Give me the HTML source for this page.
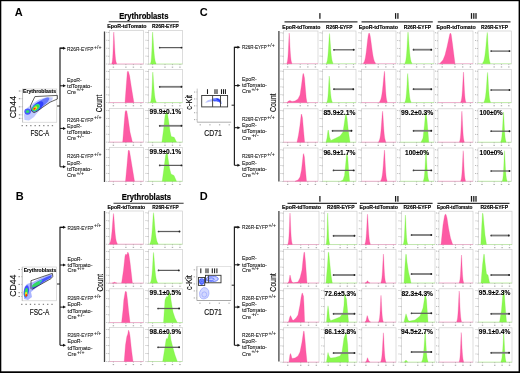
<!DOCTYPE html>
<html><head><meta charset="utf-8"><title>Figure</title>
<style>html,body{margin:0;padding:0;background:#fff;}body{width:520px;height:373px;overflow:hidden;font-family:"Liberation Sans",sans-serif;}svg{display:block;opacity:0.999;}</style>
</head><body>
<svg width="520" height="373" viewBox="0 0 520 373" font-family="Liberation Sans, sans-serif">
<rect x="0" y="0" width="520" height="373" fill="#fff"/>
<defs><filter id="bl" x="-50%" y="-50%" width="200%" height="200%"><feGaussianBlur stdDeviation="1.1"/></filter><filter id="bl2" x="-50%" y="-50%" width="200%" height="200%"><feGaussianBlur stdDeviation="0.6"/></filter><filter id="bl3" x="-50%" y="-50%" width="200%" height="200%"><feGaussianBlur stdDeviation="0.55"/></filter></defs>
<text x="14.8" y="15.8" font-size="11" font-weight="bold" fill="#000" text-anchor="start" >A</text>
<text x="15.8" y="200.2" font-size="11" font-weight="bold" fill="#000" text-anchor="start" >B</text>
<text x="199.8" y="15.6" font-size="11" font-weight="bold" fill="#000" text-anchor="start" >C</text>
<text x="199.8" y="200" font-size="11" font-weight="bold" fill="#000" text-anchor="start" >D</text>
<text x="119.2" y="18.8" font-size="8.7" font-weight="bold" fill="#000" text-anchor="start" textLength="49.2" lengthAdjust="spacingAndGlyphs" stroke="#000" stroke-width="0.2">Erythroblasts</text>
<line x1="108.7" y1="21.7" x2="178.8" y2="21.7" stroke="#333" stroke-width="1.1" />
<text x="107.3" y="28.2" font-size="5.9" font-weight="bold" fill="#000" text-anchor="start" textLength="39.2" lengthAdjust="spacingAndGlyphs" stroke="#000" stroke-width="0.15">EpoR-tdTomato</text>
<text x="152" y="28.2" font-size="5.9" font-weight="bold" fill="#000" text-anchor="start" textLength="26.8" lengthAdjust="spacingAndGlyphs" stroke="#000" stroke-width="0.15">R26R-EYFP</text>
<text x="121.7" y="200.4" font-size="8.7" font-weight="bold" fill="#000" text-anchor="start" textLength="49.3" lengthAdjust="spacingAndGlyphs" stroke="#000" stroke-width="0.2">Erythroblasts</text>
<line x1="113.5" y1="203.3" x2="183.6" y2="203.3" stroke="#333" stroke-width="1.1" />
<text x="107.4" y="209" font-size="5.9" font-weight="bold" fill="#000" text-anchor="start" textLength="37.8" lengthAdjust="spacingAndGlyphs" stroke="#000" stroke-width="0.15">EpoR-tdTomato</text>
<text x="152.3" y="209" font-size="5.9" font-weight="bold" fill="#000" text-anchor="start" textLength="26.3" lengthAdjust="spacingAndGlyphs" stroke="#000" stroke-width="0.15">R26R-EYFP</text>
<line x1="104.5" y1="31.5" x2="104.5" y2="182" stroke="#444" stroke-width="1.3" />
<line x1="104.5" y1="211" x2="104.5" y2="362" stroke="#444" stroke-width="1.3" />
<line x1="278.9" y1="31" x2="278.9" y2="181.4" stroke="#444" stroke-width="1.3" />
<line x1="278.9" y1="211" x2="278.9" y2="361.4" stroke="#444" stroke-width="1.3" />
<text x="0" y="0" font-size="9.2" fill="#111" stroke="#111" stroke-width="0.15" text-anchor="middle" textLength="17.5" lengthAdjust="spacingAndGlyphs" transform="translate(102.2,103.5) rotate(-90)">Count</text>
<text x="0" y="0" font-size="9.2" fill="#111" stroke="#111" stroke-width="0.15" text-anchor="middle" textLength="17.5" lengthAdjust="spacingAndGlyphs" transform="translate(103.3,282.7) rotate(-90)">Count</text>
<text x="0" y="0" font-size="9.2" fill="#111" stroke="#111" stroke-width="0.15" text-anchor="middle" textLength="18.5" lengthAdjust="spacingAndGlyphs" transform="translate(276.2,102.8) rotate(-90)">Count</text>
<text x="0" y="0" font-size="9.2" fill="#111" stroke="#111" stroke-width="0.15" text-anchor="middle" textLength="18.5" lengthAdjust="spacingAndGlyphs" transform="translate(276.2,282.5) rotate(-90)">Count</text>
<rect x="109.3" y="30.5" width="34.2" height="33.7" fill="none" stroke="#cdcdcd" stroke-width="0.7"/>
<line x1="108" y1="64.2" x2="109.3" y2="64.2" stroke="#888" stroke-width="0.5" />
<rect x="106.3" y="63.6" width="1" height="0.8" fill="#aaa"/>
<line x1="108" y1="56.28" x2="109.3" y2="56.28" stroke="#888" stroke-width="0.5" />
<rect x="106.3" y="55.68" width="1" height="0.8" fill="#aaa"/>
<line x1="108" y1="48.35" x2="109.3" y2="48.35" stroke="#888" stroke-width="0.5" />
<rect x="106.3" y="47.75" width="1" height="0.8" fill="#aaa"/>
<line x1="108" y1="40.42" x2="109.3" y2="40.42" stroke="#888" stroke-width="0.5" />
<rect x="106.3" y="39.82" width="1" height="0.8" fill="#aaa"/>
<line x1="108" y1="32.5" x2="109.3" y2="32.5" stroke="#888" stroke-width="0.5" />
<rect x="106.3" y="31.9" width="1" height="0.8" fill="#aaa"/>
<rect x="112.7" y="66.6" width="1.4" height="1.1" fill="#aaa"/>
<line x1="113.4" y1="64.2" x2="113.4" y2="65.1" stroke="#777" stroke-width="0.5" />
<rect x="125.19" y="66.6" width="1.4" height="1.1" fill="#aaa"/>
<line x1="125.89" y1="64.2" x2="125.89" y2="65.1" stroke="#777" stroke-width="0.5" />
<rect x="132.71" y="66.6" width="1.4" height="1.1" fill="#aaa"/>
<line x1="133.41" y1="64.2" x2="133.41" y2="65.1" stroke="#777" stroke-width="0.5" />
<rect x="140.24" y="66.6" width="1.4" height="1.1" fill="#aaa"/>
<line x1="140.94" y1="64.2" x2="140.94" y2="65.1" stroke="#777" stroke-width="0.5" />
<line x1="109.3" y1="63.9" x2="143.5" y2="63.9" stroke="#fd5aa4" stroke-width="0.6" opacity="0.6"/>
<path d="M111.9,64 L111.9,63.03 L112.1,62.35 L112.3,61.25 L112.5,59.59 L112.7,57.15 L112.9,53.78 L113.1,49.37 L113.3,44.05 L113.5,38.31 L113.7,33.32 L113.8,32 L113.9,32.79 L114.1,35.89 L114.3,39.79 L114.5,43.84 L114.7,47.68 L114.9,51.12 L115.1,54.06 L115.3,56.49 L115.5,58.43 L115.7,59.95 L115.9,61.1 L116.1,61.96 L116.3,62.58 L116.5,63.03 L116.5,64 Z" fill="#fd5aa4" stroke="#f0408c" stroke-width="0.25" stroke-linejoin="round"/>
<rect x="148.5" y="30.5" width="34" height="33.7" fill="none" stroke="#cdcdcd" stroke-width="0.7"/>
<line x1="147.2" y1="64.2" x2="148.5" y2="64.2" stroke="#888" stroke-width="0.5" />
<rect x="145.5" y="63.6" width="1" height="0.8" fill="#aaa"/>
<line x1="147.2" y1="56.28" x2="148.5" y2="56.28" stroke="#888" stroke-width="0.5" />
<rect x="145.5" y="55.68" width="1" height="0.8" fill="#aaa"/>
<line x1="147.2" y1="48.35" x2="148.5" y2="48.35" stroke="#888" stroke-width="0.5" />
<rect x="145.5" y="47.75" width="1" height="0.8" fill="#aaa"/>
<line x1="147.2" y1="40.42" x2="148.5" y2="40.42" stroke="#888" stroke-width="0.5" />
<rect x="145.5" y="39.82" width="1" height="0.8" fill="#aaa"/>
<line x1="147.2" y1="32.5" x2="148.5" y2="32.5" stroke="#888" stroke-width="0.5" />
<rect x="145.5" y="31.9" width="1" height="0.8" fill="#aaa"/>
<rect x="151.88" y="66.6" width="1.4" height="1.1" fill="#aaa"/>
<line x1="152.58" y1="64.2" x2="152.58" y2="65.1" stroke="#777" stroke-width="0.5" />
<rect x="164.29" y="66.6" width="1.4" height="1.1" fill="#aaa"/>
<line x1="164.99" y1="64.2" x2="164.99" y2="65.1" stroke="#777" stroke-width="0.5" />
<rect x="171.77" y="66.6" width="1.4" height="1.1" fill="#aaa"/>
<line x1="172.47" y1="64.2" x2="172.47" y2="65.1" stroke="#777" stroke-width="0.5" />
<rect x="179.25" y="66.6" width="1.4" height="1.1" fill="#aaa"/>
<line x1="179.95" y1="64.2" x2="179.95" y2="65.1" stroke="#777" stroke-width="0.5" />
<line x1="148.5" y1="63.9" x2="182.5" y2="63.9" stroke="#8af84f" stroke-width="0.6" opacity="0.6"/>
<path d="M150.6,64 L150.6,63.03 L150.8,62.39 L151,61.38 L151.2,59.88 L151.4,57.71 L151.6,54.72 L151.8,50.8 L152,46 L152.2,40.6 L152.4,35.35 L152.6,32 L152.8,33.56 L153,36.21 L153.2,39.31 L153.4,42.54 L153.6,45.69 L153.8,48.64 L154,51.31 L154.2,53.66 L154.4,55.69 L154.6,57.4 L154.8,58.82 L155,59.99 L155.2,60.92 L155.4,61.66 L155.6,62.24 L155.8,62.69 L156,63.03 L156,64 Z" fill="#8af84f" stroke="#70e838" stroke-width="0.25" stroke-linejoin="round"/>
<line x1="159.2" y1="47.6" x2="182" y2="47.6" stroke="#5e5e5e" stroke-width="1.25" />
<circle cx="159.7" cy="47.6" r="0.85" fill="#444"/>
<circle cx="181.5" cy="47.6" r="0.95" fill="#222"/>
<rect x="109.3" y="69.5" width="34.2" height="33.3" fill="none" stroke="#cdcdcd" stroke-width="0.7"/>
<line x1="108" y1="102.8" x2="109.3" y2="102.8" stroke="#888" stroke-width="0.5" />
<rect x="106.3" y="102.2" width="1" height="0.8" fill="#aaa"/>
<line x1="108" y1="94.97" x2="109.3" y2="94.97" stroke="#888" stroke-width="0.5" />
<rect x="106.3" y="94.38" width="1" height="0.8" fill="#aaa"/>
<line x1="108" y1="87.15" x2="109.3" y2="87.15" stroke="#888" stroke-width="0.5" />
<rect x="106.3" y="86.55" width="1" height="0.8" fill="#aaa"/>
<line x1="108" y1="79.33" x2="109.3" y2="79.33" stroke="#888" stroke-width="0.5" />
<rect x="106.3" y="78.73" width="1" height="0.8" fill="#aaa"/>
<line x1="108" y1="71.5" x2="109.3" y2="71.5" stroke="#888" stroke-width="0.5" />
<rect x="106.3" y="70.9" width="1" height="0.8" fill="#aaa"/>
<rect x="112.7" y="105.2" width="1.4" height="1.1" fill="#aaa"/>
<line x1="113.4" y1="102.8" x2="113.4" y2="103.7" stroke="#777" stroke-width="0.5" />
<rect x="125.19" y="105.2" width="1.4" height="1.1" fill="#aaa"/>
<line x1="125.89" y1="102.8" x2="125.89" y2="103.7" stroke="#777" stroke-width="0.5" />
<rect x="132.71" y="105.2" width="1.4" height="1.1" fill="#aaa"/>
<line x1="133.41" y1="102.8" x2="133.41" y2="103.7" stroke="#777" stroke-width="0.5" />
<rect x="140.24" y="105.2" width="1.4" height="1.1" fill="#aaa"/>
<line x1="140.94" y1="102.8" x2="140.94" y2="103.7" stroke="#777" stroke-width="0.5" />
<line x1="109.3" y1="102.5" x2="143.5" y2="102.5" stroke="#fd5aa4" stroke-width="0.6" opacity="0.6"/>
<path d="M125,102.6 L125,102.5 L126.3,85 L127.3,72 L127.8,71.2 L128.4,71.6 L129.6,75.8 L131.5,88 L133.9,102.5 L133.9,102.6 Z" fill="#fd5aa4" stroke="#f0408c" stroke-width="0.25" stroke-linejoin="round"/>
<rect x="148.5" y="69.5" width="34" height="33.3" fill="none" stroke="#cdcdcd" stroke-width="0.7"/>
<line x1="147.2" y1="102.8" x2="148.5" y2="102.8" stroke="#888" stroke-width="0.5" />
<rect x="145.5" y="102.2" width="1" height="0.8" fill="#aaa"/>
<line x1="147.2" y1="94.97" x2="148.5" y2="94.97" stroke="#888" stroke-width="0.5" />
<rect x="145.5" y="94.38" width="1" height="0.8" fill="#aaa"/>
<line x1="147.2" y1="87.15" x2="148.5" y2="87.15" stroke="#888" stroke-width="0.5" />
<rect x="145.5" y="86.55" width="1" height="0.8" fill="#aaa"/>
<line x1="147.2" y1="79.33" x2="148.5" y2="79.33" stroke="#888" stroke-width="0.5" />
<rect x="145.5" y="78.73" width="1" height="0.8" fill="#aaa"/>
<line x1="147.2" y1="71.5" x2="148.5" y2="71.5" stroke="#888" stroke-width="0.5" />
<rect x="145.5" y="70.9" width="1" height="0.8" fill="#aaa"/>
<rect x="151.88" y="105.2" width="1.4" height="1.1" fill="#aaa"/>
<line x1="152.58" y1="102.8" x2="152.58" y2="103.7" stroke="#777" stroke-width="0.5" />
<rect x="164.29" y="105.2" width="1.4" height="1.1" fill="#aaa"/>
<line x1="164.99" y1="102.8" x2="164.99" y2="103.7" stroke="#777" stroke-width="0.5" />
<rect x="171.77" y="105.2" width="1.4" height="1.1" fill="#aaa"/>
<line x1="172.47" y1="102.8" x2="172.47" y2="103.7" stroke="#777" stroke-width="0.5" />
<rect x="179.25" y="105.2" width="1.4" height="1.1" fill="#aaa"/>
<line x1="179.95" y1="102.8" x2="179.95" y2="103.7" stroke="#777" stroke-width="0.5" />
<line x1="148.5" y1="102.5" x2="182.5" y2="102.5" stroke="#8af84f" stroke-width="0.6" opacity="0.6"/>
<path d="M150.6,102.6 L150.6,101.68 L150.8,101.13 L151,100.3 L151.2,99.11 L151.4,97.42 L151.6,95.13 L151.8,92.13 L152,88.4 L152.2,84.01 L152.4,79.27 L152.6,74.8 L152.8,72 L153,73.49 L153.2,76.03 L153.4,78.99 L153.6,82.08 L153.8,85.09 L154,87.91 L154.2,90.46 L154.4,92.71 L154.6,94.65 L154.8,96.29 L155,97.65 L155.2,98.76 L155.4,99.65 L155.6,100.36 L155.8,100.92 L156,101.35 L156.2,101.68 L156.2,102.6 Z" fill="#8af84f" stroke="#70e838" stroke-width="0.25" stroke-linejoin="round"/>
<line x1="159.2" y1="86.8" x2="182" y2="86.8" stroke="#7a7a7a" stroke-width="1.8" />
<circle cx="159.7" cy="86.8" r="0.85" fill="#444"/>
<circle cx="181.5" cy="86.8" r="0.95" fill="#222"/>
<rect x="109.3" y="108.6" width="34.2" height="33.7" fill="none" stroke="#cdcdcd" stroke-width="0.7"/>
<line x1="108" y1="142.3" x2="109.3" y2="142.3" stroke="#888" stroke-width="0.5" />
<rect x="106.3" y="141.7" width="1" height="0.8" fill="#aaa"/>
<line x1="108" y1="134.38" x2="109.3" y2="134.38" stroke="#888" stroke-width="0.5" />
<rect x="106.3" y="133.78" width="1" height="0.8" fill="#aaa"/>
<line x1="108" y1="126.45" x2="109.3" y2="126.45" stroke="#888" stroke-width="0.5" />
<rect x="106.3" y="125.85" width="1" height="0.8" fill="#aaa"/>
<line x1="108" y1="118.53" x2="109.3" y2="118.53" stroke="#888" stroke-width="0.5" />
<rect x="106.3" y="117.93" width="1" height="0.8" fill="#aaa"/>
<line x1="108" y1="110.6" x2="109.3" y2="110.6" stroke="#888" stroke-width="0.5" />
<rect x="106.3" y="110" width="1" height="0.8" fill="#aaa"/>
<rect x="112.7" y="144.7" width="1.4" height="1.1" fill="#aaa"/>
<line x1="113.4" y1="142.3" x2="113.4" y2="143.2" stroke="#777" stroke-width="0.5" />
<rect x="125.19" y="144.7" width="1.4" height="1.1" fill="#aaa"/>
<line x1="125.89" y1="142.3" x2="125.89" y2="143.2" stroke="#777" stroke-width="0.5" />
<rect x="132.71" y="144.7" width="1.4" height="1.1" fill="#aaa"/>
<line x1="133.41" y1="142.3" x2="133.41" y2="143.2" stroke="#777" stroke-width="0.5" />
<rect x="140.24" y="144.7" width="1.4" height="1.1" fill="#aaa"/>
<line x1="140.94" y1="142.3" x2="140.94" y2="143.2" stroke="#777" stroke-width="0.5" />
<line x1="109.3" y1="142" x2="143.5" y2="142" stroke="#fd5aa4" stroke-width="0.6" opacity="0.6"/>
<path d="M122.7,142.1 L122.7,142 L124,125 L125.1,112 L125.8,110.4 L126.8,111 L128,118 L130,132 L132.4,142 L132.4,142.1 Z" fill="#fd5aa4" stroke="#f0408c" stroke-width="0.25" stroke-linejoin="round"/>
<rect x="148.5" y="108.6" width="34" height="33.7" fill="none" stroke="#cdcdcd" stroke-width="0.7"/>
<line x1="147.2" y1="142.3" x2="148.5" y2="142.3" stroke="#888" stroke-width="0.5" />
<rect x="145.5" y="141.7" width="1" height="0.8" fill="#aaa"/>
<line x1="147.2" y1="134.38" x2="148.5" y2="134.38" stroke="#888" stroke-width="0.5" />
<rect x="145.5" y="133.78" width="1" height="0.8" fill="#aaa"/>
<line x1="147.2" y1="126.45" x2="148.5" y2="126.45" stroke="#888" stroke-width="0.5" />
<rect x="145.5" y="125.85" width="1" height="0.8" fill="#aaa"/>
<line x1="147.2" y1="118.53" x2="148.5" y2="118.53" stroke="#888" stroke-width="0.5" />
<rect x="145.5" y="117.93" width="1" height="0.8" fill="#aaa"/>
<line x1="147.2" y1="110.6" x2="148.5" y2="110.6" stroke="#888" stroke-width="0.5" />
<rect x="145.5" y="110" width="1" height="0.8" fill="#aaa"/>
<rect x="151.88" y="144.7" width="1.4" height="1.1" fill="#aaa"/>
<line x1="152.58" y1="142.3" x2="152.58" y2="143.2" stroke="#777" stroke-width="0.5" />
<rect x="164.29" y="144.7" width="1.4" height="1.1" fill="#aaa"/>
<line x1="164.99" y1="142.3" x2="164.99" y2="143.2" stroke="#777" stroke-width="0.5" />
<rect x="171.77" y="144.7" width="1.4" height="1.1" fill="#aaa"/>
<line x1="172.47" y1="142.3" x2="172.47" y2="143.2" stroke="#777" stroke-width="0.5" />
<rect x="179.25" y="144.7" width="1.4" height="1.1" fill="#aaa"/>
<line x1="179.95" y1="142.3" x2="179.95" y2="143.2" stroke="#777" stroke-width="0.5" />
<line x1="148.5" y1="142" x2="182.5" y2="142" stroke="#8af84f" stroke-width="0.6" opacity="0.6"/>
<path d="M161.9,142.1 L161.9,142 L163.5,130 L165,116 L166.3,112 L167.3,113 L168.5,120 L170,131 L171.2,136.5 L174.2,137.3 L176.5,142 L176.5,142.1 Z" fill="#8af84f" stroke="#70e838" stroke-width="0.25" stroke-linejoin="round"/>
<line x1="159.2" y1="125.8" x2="182" y2="125.8" stroke="#7a7a7a" stroke-width="1.8" />
<circle cx="159.7" cy="125.8" r="0.85" fill="#444"/>
<circle cx="181.5" cy="125.8" r="0.95" fill="#222"/>
<text x="149.6" y="114.3" font-size="7.2" font-weight="bold" fill="#000" text-anchor="start" textLength="31.6" lengthAdjust="spacingAndGlyphs" stroke="#000" stroke-width="0.12">99.9±0.1%</text>
<rect x="109.3" y="147.6" width="34.2" height="33.9" fill="none" stroke="#cdcdcd" stroke-width="0.7"/>
<line x1="108" y1="181.5" x2="109.3" y2="181.5" stroke="#888" stroke-width="0.5" />
<rect x="106.3" y="180.9" width="1" height="0.8" fill="#aaa"/>
<line x1="108" y1="173.53" x2="109.3" y2="173.53" stroke="#888" stroke-width="0.5" />
<rect x="106.3" y="172.93" width="1" height="0.8" fill="#aaa"/>
<line x1="108" y1="165.55" x2="109.3" y2="165.55" stroke="#888" stroke-width="0.5" />
<rect x="106.3" y="164.95" width="1" height="0.8" fill="#aaa"/>
<line x1="108" y1="157.57" x2="109.3" y2="157.57" stroke="#888" stroke-width="0.5" />
<rect x="106.3" y="156.97" width="1" height="0.8" fill="#aaa"/>
<line x1="108" y1="149.6" x2="109.3" y2="149.6" stroke="#888" stroke-width="0.5" />
<rect x="106.3" y="149" width="1" height="0.8" fill="#aaa"/>
<rect x="112.7" y="183.9" width="1.4" height="1.1" fill="#aaa"/>
<line x1="113.4" y1="181.5" x2="113.4" y2="182.4" stroke="#777" stroke-width="0.5" />
<rect x="125.19" y="183.9" width="1.4" height="1.1" fill="#aaa"/>
<line x1="125.89" y1="181.5" x2="125.89" y2="182.4" stroke="#777" stroke-width="0.5" />
<rect x="132.71" y="183.9" width="1.4" height="1.1" fill="#aaa"/>
<line x1="133.41" y1="181.5" x2="133.41" y2="182.4" stroke="#777" stroke-width="0.5" />
<rect x="140.24" y="183.9" width="1.4" height="1.1" fill="#aaa"/>
<line x1="140.94" y1="181.5" x2="140.94" y2="182.4" stroke="#777" stroke-width="0.5" />
<line x1="109.3" y1="181.2" x2="143.5" y2="181.2" stroke="#fd5aa4" stroke-width="0.6" opacity="0.6"/>
<path d="M125.5,181.3 L125.5,181.3 L127,165 L128.2,151 L128.8,150 L129.5,151 L131,160 L134.5,181.3 L134.5,181.3 Z" fill="#fd5aa4" stroke="#f0408c" stroke-width="0.25" stroke-linejoin="round"/>
<rect x="148.5" y="147.6" width="34" height="33.9" fill="none" stroke="#cdcdcd" stroke-width="0.7"/>
<line x1="147.2" y1="181.5" x2="148.5" y2="181.5" stroke="#888" stroke-width="0.5" />
<rect x="145.5" y="180.9" width="1" height="0.8" fill="#aaa"/>
<line x1="147.2" y1="173.53" x2="148.5" y2="173.53" stroke="#888" stroke-width="0.5" />
<rect x="145.5" y="172.93" width="1" height="0.8" fill="#aaa"/>
<line x1="147.2" y1="165.55" x2="148.5" y2="165.55" stroke="#888" stroke-width="0.5" />
<rect x="145.5" y="164.95" width="1" height="0.8" fill="#aaa"/>
<line x1="147.2" y1="157.57" x2="148.5" y2="157.57" stroke="#888" stroke-width="0.5" />
<rect x="145.5" y="156.97" width="1" height="0.8" fill="#aaa"/>
<line x1="147.2" y1="149.6" x2="148.5" y2="149.6" stroke="#888" stroke-width="0.5" />
<rect x="145.5" y="149" width="1" height="0.8" fill="#aaa"/>
<rect x="151.88" y="183.9" width="1.4" height="1.1" fill="#aaa"/>
<line x1="152.58" y1="181.5" x2="152.58" y2="182.4" stroke="#777" stroke-width="0.5" />
<rect x="164.29" y="183.9" width="1.4" height="1.1" fill="#aaa"/>
<line x1="164.99" y1="181.5" x2="164.99" y2="182.4" stroke="#777" stroke-width="0.5" />
<rect x="171.77" y="183.9" width="1.4" height="1.1" fill="#aaa"/>
<line x1="172.47" y1="181.5" x2="172.47" y2="182.4" stroke="#777" stroke-width="0.5" />
<rect x="179.25" y="183.9" width="1.4" height="1.1" fill="#aaa"/>
<line x1="179.95" y1="181.5" x2="179.95" y2="182.4" stroke="#777" stroke-width="0.5" />
<line x1="148.5" y1="181.2" x2="182.5" y2="181.2" stroke="#8af84f" stroke-width="0.6" opacity="0.6"/>
<path d="M162.2,181.3 L162.2,181.3 L164,168 L165.5,156 L166.4,153 L167.4,154 L169.5,168 L171,174 L174,175.5 L176.5,181.3 L176.5,181.3 Z" fill="#8af84f" stroke="#70e838" stroke-width="0.25" stroke-linejoin="round"/>
<line x1="159.2" y1="165.4" x2="182" y2="165.4" stroke="#5e5e5e" stroke-width="1.25" />
<circle cx="159.7" cy="165.4" r="0.85" fill="#444"/>
<circle cx="181.5" cy="165.4" r="0.95" fill="#222"/>
<text x="149.6" y="153.9" font-size="7.2" font-weight="bold" fill="#000" text-anchor="start" textLength="31.6" lengthAdjust="spacingAndGlyphs" stroke="#000" stroke-width="0.12">99.9±0.1%</text>
<rect x="109.3" y="211" width="34.2" height="33.4" fill="none" stroke="#cdcdcd" stroke-width="0.7"/>
<line x1="108" y1="244.4" x2="109.3" y2="244.4" stroke="#888" stroke-width="0.5" />
<rect x="106.3" y="243.8" width="1" height="0.8" fill="#aaa"/>
<line x1="108" y1="236.55" x2="109.3" y2="236.55" stroke="#888" stroke-width="0.5" />
<rect x="106.3" y="235.95" width="1" height="0.8" fill="#aaa"/>
<line x1="108" y1="228.7" x2="109.3" y2="228.7" stroke="#888" stroke-width="0.5" />
<rect x="106.3" y="228.1" width="1" height="0.8" fill="#aaa"/>
<line x1="108" y1="220.85" x2="109.3" y2="220.85" stroke="#888" stroke-width="0.5" />
<rect x="106.3" y="220.25" width="1" height="0.8" fill="#aaa"/>
<line x1="108" y1="213" x2="109.3" y2="213" stroke="#888" stroke-width="0.5" />
<rect x="106.3" y="212.4" width="1" height="0.8" fill="#aaa"/>
<rect x="112.7" y="246.8" width="1.4" height="1.1" fill="#aaa"/>
<line x1="113.4" y1="244.4" x2="113.4" y2="245.3" stroke="#777" stroke-width="0.5" />
<rect x="125.19" y="246.8" width="1.4" height="1.1" fill="#aaa"/>
<line x1="125.89" y1="244.4" x2="125.89" y2="245.3" stroke="#777" stroke-width="0.5" />
<rect x="132.71" y="246.8" width="1.4" height="1.1" fill="#aaa"/>
<line x1="133.41" y1="244.4" x2="133.41" y2="245.3" stroke="#777" stroke-width="0.5" />
<rect x="140.24" y="246.8" width="1.4" height="1.1" fill="#aaa"/>
<line x1="140.94" y1="244.4" x2="140.94" y2="245.3" stroke="#777" stroke-width="0.5" />
<line x1="109.3" y1="244.1" x2="143.5" y2="244.1" stroke="#fd5aa4" stroke-width="0.6" opacity="0.6"/>
<path d="M109.6,244.2 L109.6,243.27 L109.8,242.99 L110,242.63 L110.2,242.19 L110.4,241.63 L110.6,240.95 L110.8,240.11 L111,239.11 L111.2,237.91 L111.4,236.5 L111.6,234.86 L111.8,232.99 L112,230.88 L112.2,228.55 L112.4,226.03 L112.6,223.37 L112.8,220.67 L113,218.06 L113.2,215.71 L113.4,213.94 L113.5,213.5 L113.6,213.97 L113.8,215.88 L114,218.4 L114.2,221.18 L114.4,224.03 L114.6,226.79 L114.8,229.39 L115,231.76 L115.2,233.88 L115.4,235.73 L115.6,237.33 L115.8,238.68 L116,239.81 L116.2,240.74 L116.4,241.49 L116.6,242.1 L116.8,242.59 L117,242.97 L117.2,243.27 L117.2,244.2 Z" fill="#fd5aa4" stroke="#f0408c" stroke-width="0.25" stroke-linejoin="round"/>
<rect x="148.5" y="211" width="34" height="33.4" fill="none" stroke="#cdcdcd" stroke-width="0.7"/>
<line x1="147.2" y1="244.4" x2="148.5" y2="244.4" stroke="#888" stroke-width="0.5" />
<rect x="145.5" y="243.8" width="1" height="0.8" fill="#aaa"/>
<line x1="147.2" y1="236.55" x2="148.5" y2="236.55" stroke="#888" stroke-width="0.5" />
<rect x="145.5" y="235.95" width="1" height="0.8" fill="#aaa"/>
<line x1="147.2" y1="228.7" x2="148.5" y2="228.7" stroke="#888" stroke-width="0.5" />
<rect x="145.5" y="228.1" width="1" height="0.8" fill="#aaa"/>
<line x1="147.2" y1="220.85" x2="148.5" y2="220.85" stroke="#888" stroke-width="0.5" />
<rect x="145.5" y="220.25" width="1" height="0.8" fill="#aaa"/>
<line x1="147.2" y1="213" x2="148.5" y2="213" stroke="#888" stroke-width="0.5" />
<rect x="145.5" y="212.4" width="1" height="0.8" fill="#aaa"/>
<rect x="151.88" y="246.8" width="1.4" height="1.1" fill="#aaa"/>
<line x1="152.58" y1="244.4" x2="152.58" y2="245.3" stroke="#777" stroke-width="0.5" />
<rect x="164.29" y="246.8" width="1.4" height="1.1" fill="#aaa"/>
<line x1="164.99" y1="244.4" x2="164.99" y2="245.3" stroke="#777" stroke-width="0.5" />
<rect x="171.77" y="246.8" width="1.4" height="1.1" fill="#aaa"/>
<line x1="172.47" y1="244.4" x2="172.47" y2="245.3" stroke="#777" stroke-width="0.5" />
<rect x="179.25" y="246.8" width="1.4" height="1.1" fill="#aaa"/>
<line x1="179.95" y1="244.4" x2="179.95" y2="245.3" stroke="#777" stroke-width="0.5" />
<line x1="148.5" y1="244.1" x2="182.5" y2="244.1" stroke="#8af84f" stroke-width="0.6" opacity="0.6"/>
<path d="M150,244.2 L150,243.25 L150.2,242.92 L150.4,242.5 L150.6,241.95 L150.8,241.26 L151,240.39 L151.2,239.32 L151.4,238.01 L151.6,236.43 L151.8,234.57 L152,232.4 L152.2,229.94 L152.4,227.2 L152.6,224.24 L152.8,221.17 L153,218.12 L153.2,215.35 L153.4,213.23 L153.5,212.7 L153.6,213.06 L153.8,214.54 L154,216.53 L154.2,218.79 L154.4,221.17 L154.6,223.56 L154.8,225.91 L155,228.14 L155.2,230.22 L155.4,232.14 L155.6,233.88 L155.8,235.43 L156,236.81 L156.2,238.01 L156.4,239.05 L156.6,239.94 L156.8,240.7 L157,241.34 L157.2,241.88 L157.4,242.33 L157.6,242.7 L157.8,243 L158,243.25 L158,244.2 Z" fill="#8af84f" stroke="#70e838" stroke-width="0.25" stroke-linejoin="round"/>
<line x1="158" y1="231.5" x2="180" y2="231.5" stroke="#5e5e5e" stroke-width="1.25" />
<circle cx="158.5" cy="231.5" r="0.85" fill="#444"/>
<circle cx="179.5" cy="231.5" r="0.95" fill="#222"/>
<rect x="109.3" y="249.6" width="34.2" height="33.7" fill="none" stroke="#cdcdcd" stroke-width="0.7"/>
<line x1="108" y1="283.3" x2="109.3" y2="283.3" stroke="#888" stroke-width="0.5" />
<rect x="106.3" y="282.7" width="1" height="0.8" fill="#aaa"/>
<line x1="108" y1="275.38" x2="109.3" y2="275.38" stroke="#888" stroke-width="0.5" />
<rect x="106.3" y="274.77" width="1" height="0.8" fill="#aaa"/>
<line x1="108" y1="267.45" x2="109.3" y2="267.45" stroke="#888" stroke-width="0.5" />
<rect x="106.3" y="266.85" width="1" height="0.8" fill="#aaa"/>
<line x1="108" y1="259.52" x2="109.3" y2="259.52" stroke="#888" stroke-width="0.5" />
<rect x="106.3" y="258.92" width="1" height="0.8" fill="#aaa"/>
<line x1="108" y1="251.6" x2="109.3" y2="251.6" stroke="#888" stroke-width="0.5" />
<rect x="106.3" y="251" width="1" height="0.8" fill="#aaa"/>
<rect x="112.7" y="285.7" width="1.4" height="1.1" fill="#aaa"/>
<line x1="113.4" y1="283.3" x2="113.4" y2="284.2" stroke="#777" stroke-width="0.5" />
<rect x="125.19" y="285.7" width="1.4" height="1.1" fill="#aaa"/>
<line x1="125.89" y1="283.3" x2="125.89" y2="284.2" stroke="#777" stroke-width="0.5" />
<rect x="132.71" y="285.7" width="1.4" height="1.1" fill="#aaa"/>
<line x1="133.41" y1="283.3" x2="133.41" y2="284.2" stroke="#777" stroke-width="0.5" />
<rect x="140.24" y="285.7" width="1.4" height="1.1" fill="#aaa"/>
<line x1="140.94" y1="283.3" x2="140.94" y2="284.2" stroke="#777" stroke-width="0.5" />
<line x1="109.3" y1="283" x2="143.5" y2="283" stroke="#fd5aa4" stroke-width="0.6" opacity="0.6"/>
<path d="M112,283.1 L112,283.07 L112.2,283.06 L112.4,283.04 L112.6,283.01 L112.8,282.97 L113,282.92 L113.2,282.86 L113.4,282.78 L113.6,282.68 L113.8,282.56 L114,282.44 L114.2,282.32 L114.4,282.22 L114.5,282.2 L114.6,282.22 L114.8,282.32 L115,282.44 L115.2,282.56 L115.4,282.68 L115.6,282.78 L115.8,282.86 L116,282.92 L116.2,282.97 L116.4,283.01 L116.6,283.04 L116.8,283.06 L117,283.07 L117,283.1 Z" fill="#fd5aa4" stroke="#f0408c" stroke-width="0.25" stroke-linejoin="round"/>
<path d="M121.6,283.1 L121.6,283 L123.5,270 L125,256 L125.8,254 L126.8,255 L127.8,252 L128.8,254 L130,262 L131.5,275 L132.4,283 L132.4,283.1 Z" fill="#fd5aa4" stroke="#f0408c" stroke-width="0.25" stroke-linejoin="round"/>
<rect x="148.5" y="249.6" width="34" height="33.7" fill="none" stroke="#cdcdcd" stroke-width="0.7"/>
<line x1="147.2" y1="283.3" x2="148.5" y2="283.3" stroke="#888" stroke-width="0.5" />
<rect x="145.5" y="282.7" width="1" height="0.8" fill="#aaa"/>
<line x1="147.2" y1="275.38" x2="148.5" y2="275.38" stroke="#888" stroke-width="0.5" />
<rect x="145.5" y="274.77" width="1" height="0.8" fill="#aaa"/>
<line x1="147.2" y1="267.45" x2="148.5" y2="267.45" stroke="#888" stroke-width="0.5" />
<rect x="145.5" y="266.85" width="1" height="0.8" fill="#aaa"/>
<line x1="147.2" y1="259.52" x2="148.5" y2="259.52" stroke="#888" stroke-width="0.5" />
<rect x="145.5" y="258.92" width="1" height="0.8" fill="#aaa"/>
<line x1="147.2" y1="251.6" x2="148.5" y2="251.6" stroke="#888" stroke-width="0.5" />
<rect x="145.5" y="251" width="1" height="0.8" fill="#aaa"/>
<rect x="151.88" y="285.7" width="1.4" height="1.1" fill="#aaa"/>
<line x1="152.58" y1="283.3" x2="152.58" y2="284.2" stroke="#777" stroke-width="0.5" />
<rect x="164.29" y="285.7" width="1.4" height="1.1" fill="#aaa"/>
<line x1="164.99" y1="283.3" x2="164.99" y2="284.2" stroke="#777" stroke-width="0.5" />
<rect x="171.77" y="285.7" width="1.4" height="1.1" fill="#aaa"/>
<line x1="172.47" y1="283.3" x2="172.47" y2="284.2" stroke="#777" stroke-width="0.5" />
<rect x="179.25" y="285.7" width="1.4" height="1.1" fill="#aaa"/>
<line x1="179.95" y1="283.3" x2="179.95" y2="284.2" stroke="#777" stroke-width="0.5" />
<line x1="148.5" y1="283" x2="182.5" y2="283" stroke="#8af84f" stroke-width="0.6" opacity="0.6"/>
<path d="M150.5,283.1 L150.5,282.17 L150.7,281.79 L150.9,281.28 L151.1,280.59 L151.3,279.69 L151.5,278.53 L151.7,277.06 L151.9,275.25 L152.1,273.04 L152.3,270.44 L152.5,267.45 L152.7,264.14 L152.9,260.65 L153.1,257.21 L153.3,254.19 L153.5,252.4 L153.7,253.58 L153.9,255.62 L154.1,258.05 L154.3,260.65 L154.5,263.28 L154.7,265.83 L154.9,268.23 L155.1,270.44 L155.3,272.43 L155.5,274.19 L155.7,275.74 L155.9,277.06 L156.1,278.2 L156.3,279.15 L156.5,279.94 L156.7,280.59 L156.9,281.12 L157.1,281.55 L157.3,281.9 L157.5,282.17 L157.5,283.1 Z" fill="#8af84f" stroke="#70e838" stroke-width="0.25" stroke-linejoin="round"/>
<line x1="158" y1="270.4" x2="179.3" y2="270.4" stroke="#5e5e5e" stroke-width="1.25" />
<circle cx="158.5" cy="270.4" r="0.85" fill="#444"/>
<circle cx="178.8" cy="270.4" r="0.95" fill="#222"/>
<rect x="109.3" y="288.8" width="34.2" height="34" fill="none" stroke="#cdcdcd" stroke-width="0.7"/>
<line x1="108" y1="322.8" x2="109.3" y2="322.8" stroke="#888" stroke-width="0.5" />
<rect x="106.3" y="322.2" width="1" height="0.8" fill="#aaa"/>
<line x1="108" y1="314.8" x2="109.3" y2="314.8" stroke="#888" stroke-width="0.5" />
<rect x="106.3" y="314.2" width="1" height="0.8" fill="#aaa"/>
<line x1="108" y1="306.8" x2="109.3" y2="306.8" stroke="#888" stroke-width="0.5" />
<rect x="106.3" y="306.2" width="1" height="0.8" fill="#aaa"/>
<line x1="108" y1="298.8" x2="109.3" y2="298.8" stroke="#888" stroke-width="0.5" />
<rect x="106.3" y="298.2" width="1" height="0.8" fill="#aaa"/>
<line x1="108" y1="290.8" x2="109.3" y2="290.8" stroke="#888" stroke-width="0.5" />
<rect x="106.3" y="290.2" width="1" height="0.8" fill="#aaa"/>
<rect x="112.7" y="325.2" width="1.4" height="1.1" fill="#aaa"/>
<line x1="113.4" y1="322.8" x2="113.4" y2="323.7" stroke="#777" stroke-width="0.5" />
<rect x="125.19" y="325.2" width="1.4" height="1.1" fill="#aaa"/>
<line x1="125.89" y1="322.8" x2="125.89" y2="323.7" stroke="#777" stroke-width="0.5" />
<rect x="132.71" y="325.2" width="1.4" height="1.1" fill="#aaa"/>
<line x1="133.41" y1="322.8" x2="133.41" y2="323.7" stroke="#777" stroke-width="0.5" />
<rect x="140.24" y="325.2" width="1.4" height="1.1" fill="#aaa"/>
<line x1="140.94" y1="322.8" x2="140.94" y2="323.7" stroke="#777" stroke-width="0.5" />
<line x1="109.3" y1="322.5" x2="143.5" y2="322.5" stroke="#fd5aa4" stroke-width="0.6" opacity="0.6"/>
<path d="M121.6,322.6 L121.6,322.6 L123,310 L123.8,300 L125.2,291.8 L125.8,291.2 L126.5,292 L127.5,300 L128.5,310 L130,322.6 L130,322.6 Z" fill="#fd5aa4" stroke="#f0408c" stroke-width="0.25" stroke-linejoin="round"/>
<rect x="148.5" y="288.8" width="34" height="34" fill="none" stroke="#cdcdcd" stroke-width="0.7"/>
<line x1="147.2" y1="322.8" x2="148.5" y2="322.8" stroke="#888" stroke-width="0.5" />
<rect x="145.5" y="322.2" width="1" height="0.8" fill="#aaa"/>
<line x1="147.2" y1="314.8" x2="148.5" y2="314.8" stroke="#888" stroke-width="0.5" />
<rect x="145.5" y="314.2" width="1" height="0.8" fill="#aaa"/>
<line x1="147.2" y1="306.8" x2="148.5" y2="306.8" stroke="#888" stroke-width="0.5" />
<rect x="145.5" y="306.2" width="1" height="0.8" fill="#aaa"/>
<line x1="147.2" y1="298.8" x2="148.5" y2="298.8" stroke="#888" stroke-width="0.5" />
<rect x="145.5" y="298.2" width="1" height="0.8" fill="#aaa"/>
<line x1="147.2" y1="290.8" x2="148.5" y2="290.8" stroke="#888" stroke-width="0.5" />
<rect x="145.5" y="290.2" width="1" height="0.8" fill="#aaa"/>
<rect x="151.88" y="325.2" width="1.4" height="1.1" fill="#aaa"/>
<line x1="152.58" y1="322.8" x2="152.58" y2="323.7" stroke="#777" stroke-width="0.5" />
<rect x="164.29" y="325.2" width="1.4" height="1.1" fill="#aaa"/>
<line x1="164.99" y1="322.8" x2="164.99" y2="323.7" stroke="#777" stroke-width="0.5" />
<rect x="171.77" y="325.2" width="1.4" height="1.1" fill="#aaa"/>
<line x1="172.47" y1="322.8" x2="172.47" y2="323.7" stroke="#777" stroke-width="0.5" />
<rect x="179.25" y="325.2" width="1.4" height="1.1" fill="#aaa"/>
<line x1="179.95" y1="322.8" x2="179.95" y2="323.7" stroke="#777" stroke-width="0.5" />
<line x1="148.5" y1="322.5" x2="182.5" y2="322.5" stroke="#8af84f" stroke-width="0.6" opacity="0.6"/>
<path d="M163.5,322.6 L163.5,322.6 L165,300 L166.5,296.5 L167.5,297 L169,292.6 L169.6,292.4 L170.3,294 L171,300 L173,312 L175,318 L177.3,322.6 L177.3,322.6 Z" fill="#8af84f" stroke="#70e838" stroke-width="0.25" stroke-linejoin="round"/>
<line x1="157.6" y1="308.5" x2="179.6" y2="308.5" stroke="#5e5e5e" stroke-width="1.25" />
<circle cx="158.1" cy="308.5" r="0.85" fill="#444"/>
<circle cx="179.1" cy="308.5" r="0.95" fill="#222"/>
<text x="149.6" y="294.9" font-size="7.2" font-weight="bold" fill="#000" text-anchor="start" textLength="31.6" lengthAdjust="spacingAndGlyphs" stroke="#000" stroke-width="0.12">99.1±0.5%</text>
<rect x="109.3" y="327.6" width="34.2" height="34" fill="none" stroke="#cdcdcd" stroke-width="0.7"/>
<line x1="108" y1="361.6" x2="109.3" y2="361.6" stroke="#888" stroke-width="0.5" />
<rect x="106.3" y="361" width="1" height="0.8" fill="#aaa"/>
<line x1="108" y1="353.6" x2="109.3" y2="353.6" stroke="#888" stroke-width="0.5" />
<rect x="106.3" y="353" width="1" height="0.8" fill="#aaa"/>
<line x1="108" y1="345.6" x2="109.3" y2="345.6" stroke="#888" stroke-width="0.5" />
<rect x="106.3" y="345" width="1" height="0.8" fill="#aaa"/>
<line x1="108" y1="337.6" x2="109.3" y2="337.6" stroke="#888" stroke-width="0.5" />
<rect x="106.3" y="337" width="1" height="0.8" fill="#aaa"/>
<line x1="108" y1="329.6" x2="109.3" y2="329.6" stroke="#888" stroke-width="0.5" />
<rect x="106.3" y="329" width="1" height="0.8" fill="#aaa"/>
<rect x="112.7" y="364" width="1.4" height="1.1" fill="#aaa"/>
<line x1="113.4" y1="361.6" x2="113.4" y2="362.5" stroke="#777" stroke-width="0.5" />
<rect x="125.19" y="364" width="1.4" height="1.1" fill="#aaa"/>
<line x1="125.89" y1="361.6" x2="125.89" y2="362.5" stroke="#777" stroke-width="0.5" />
<rect x="132.71" y="364" width="1.4" height="1.1" fill="#aaa"/>
<line x1="133.41" y1="361.6" x2="133.41" y2="362.5" stroke="#777" stroke-width="0.5" />
<rect x="140.24" y="364" width="1.4" height="1.1" fill="#aaa"/>
<line x1="140.94" y1="361.6" x2="140.94" y2="362.5" stroke="#777" stroke-width="0.5" />
<line x1="109.3" y1="361.3" x2="143.5" y2="361.3" stroke="#fd5aa4" stroke-width="0.6" opacity="0.6"/>
<path d="M124.2,361.4 L124.2,361.4 L125.5,345 L126.8,336.8 L127.8,334 L128.5,330 L129.3,332 L130,336 L131.5,350 L133,361.4 L133,361.4 Z" fill="#fd5aa4" stroke="#f0408c" stroke-width="0.25" stroke-linejoin="round"/>
<rect x="148.5" y="327.6" width="34" height="34" fill="none" stroke="#cdcdcd" stroke-width="0.7"/>
<line x1="147.2" y1="361.6" x2="148.5" y2="361.6" stroke="#888" stroke-width="0.5" />
<rect x="145.5" y="361" width="1" height="0.8" fill="#aaa"/>
<line x1="147.2" y1="353.6" x2="148.5" y2="353.6" stroke="#888" stroke-width="0.5" />
<rect x="145.5" y="353" width="1" height="0.8" fill="#aaa"/>
<line x1="147.2" y1="345.6" x2="148.5" y2="345.6" stroke="#888" stroke-width="0.5" />
<rect x="145.5" y="345" width="1" height="0.8" fill="#aaa"/>
<line x1="147.2" y1="337.6" x2="148.5" y2="337.6" stroke="#888" stroke-width="0.5" />
<rect x="145.5" y="337" width="1" height="0.8" fill="#aaa"/>
<line x1="147.2" y1="329.6" x2="148.5" y2="329.6" stroke="#888" stroke-width="0.5" />
<rect x="145.5" y="329" width="1" height="0.8" fill="#aaa"/>
<rect x="151.88" y="364" width="1.4" height="1.1" fill="#aaa"/>
<line x1="152.58" y1="361.6" x2="152.58" y2="362.5" stroke="#777" stroke-width="0.5" />
<rect x="164.29" y="364" width="1.4" height="1.1" fill="#aaa"/>
<line x1="164.99" y1="361.6" x2="164.99" y2="362.5" stroke="#777" stroke-width="0.5" />
<rect x="171.77" y="364" width="1.4" height="1.1" fill="#aaa"/>
<line x1="172.47" y1="361.6" x2="172.47" y2="362.5" stroke="#777" stroke-width="0.5" />
<rect x="179.25" y="364" width="1.4" height="1.1" fill="#aaa"/>
<line x1="179.95" y1="361.6" x2="179.95" y2="362.5" stroke="#777" stroke-width="0.5" />
<line x1="148.5" y1="361.3" x2="182.5" y2="361.3" stroke="#8af84f" stroke-width="0.6" opacity="0.6"/>
<path d="M162.7,361.4 L162.7,361.4 L164.5,350 L166,340 L166.5,338.4 L167.5,339 L169.3,332.5 L170.3,335 L171,340 L173,348 L175,355 L177.3,361.4 L177.3,361.4 Z" fill="#8af84f" stroke="#70e838" stroke-width="0.25" stroke-linejoin="round"/>
<line x1="157.6" y1="347.3" x2="179.6" y2="347.3" stroke="#5e5e5e" stroke-width="1.25" />
<circle cx="158.1" cy="347.3" r="0.85" fill="#444"/>
<circle cx="179.1" cy="347.3" r="0.95" fill="#222"/>
<text x="149.6" y="334.4" font-size="7.2" font-weight="bold" fill="#000" text-anchor="start" textLength="31.4" lengthAdjust="spacingAndGlyphs" stroke="#000" stroke-width="0.12">98.6±0.9%</text>
<rect x="319.28" y="13.1" width="1.25" height="5.7" fill="#1a1a1a"/>
<rect x="394.98" y="13.1" width="1.25" height="5.7" fill="#1a1a1a"/>
<rect x="397.28" y="13.1" width="1.25" height="5.7" fill="#1a1a1a"/>
<rect x="470.88" y="13.1" width="1.25" height="5.7" fill="#1a1a1a"/>
<rect x="473.18" y="13.1" width="1.25" height="5.7" fill="#1a1a1a"/>
<rect x="475.38" y="13.1" width="1.25" height="5.7" fill="#1a1a1a"/>
<line x1="284.5" y1="21.8" x2="357.5" y2="21.8" stroke="#333" stroke-width="1.2" />
<line x1="361.5" y1="21.8" x2="432.8" y2="21.8" stroke="#333" stroke-width="1.2" />
<line x1="437.8" y1="21.8" x2="510.5" y2="21.8" stroke="#333" stroke-width="1.2" />
<rect x="319.28" y="196" width="1.25" height="5.7" fill="#1a1a1a"/>
<rect x="394.98" y="196" width="1.25" height="5.7" fill="#1a1a1a"/>
<rect x="397.28" y="196" width="1.25" height="5.7" fill="#1a1a1a"/>
<rect x="470.88" y="196" width="1.25" height="5.7" fill="#1a1a1a"/>
<rect x="473.18" y="196" width="1.25" height="5.7" fill="#1a1a1a"/>
<rect x="475.38" y="196" width="1.25" height="5.7" fill="#1a1a1a"/>
<line x1="287.5" y1="203.4" x2="357" y2="203.4" stroke="#333" stroke-width="1.2" />
<line x1="360" y1="203.4" x2="432.6" y2="203.4" stroke="#333" stroke-width="1.2" />
<line x1="437.5" y1="203.4" x2="509.5" y2="203.4" stroke="#333" stroke-width="1.2" />
<text x="282.3" y="29.2" font-size="5.9" font-weight="bold" fill="#000" text-anchor="start" textLength="38" lengthAdjust="spacingAndGlyphs" stroke="#000" stroke-width="0.15">EpoR-tdTomato</text>
<text x="326" y="29.2" font-size="5.9" font-weight="bold" fill="#000" text-anchor="start" textLength="26.5" lengthAdjust="spacingAndGlyphs" stroke="#000" stroke-width="0.15">R26R-EYFP</text>
<text x="358.8" y="29.2" font-size="5.9" font-weight="bold" fill="#000" text-anchor="start" textLength="39.1" lengthAdjust="spacingAndGlyphs" stroke="#000" stroke-width="0.15">EpoR-tdTomato</text>
<text x="403.8" y="29.2" font-size="5.9" font-weight="bold" fill="#000" text-anchor="start" textLength="27.2" lengthAdjust="spacingAndGlyphs" stroke="#000" stroke-width="0.15">R26R-EYFP</text>
<text x="436.6" y="29.2" font-size="5.9" font-weight="bold" fill="#000" text-anchor="start" textLength="39.2" lengthAdjust="spacingAndGlyphs" stroke="#000" stroke-width="0.15">EpoR-tdTomato</text>
<text x="481" y="29.2" font-size="5.9" font-weight="bold" fill="#000" text-anchor="start" textLength="26.9" lengthAdjust="spacingAndGlyphs" stroke="#000" stroke-width="0.15">R26R-EYFP</text>
<text x="282" y="209.4" font-size="5.9" font-weight="bold" fill="#000" text-anchor="start" textLength="39" lengthAdjust="spacingAndGlyphs" stroke="#000" stroke-width="0.15">EpoR-tdTomato</text>
<text x="327" y="209.4" font-size="5.9" font-weight="bold" fill="#000" text-anchor="start" textLength="27.5" lengthAdjust="spacingAndGlyphs" stroke="#000" stroke-width="0.15">R26R-EYFP</text>
<text x="359.5" y="209.4" font-size="5.9" font-weight="bold" fill="#000" text-anchor="start" textLength="38.5" lengthAdjust="spacingAndGlyphs" stroke="#000" stroke-width="0.15">EpoR-tdTomato</text>
<text x="403.5" y="209.4" font-size="5.9" font-weight="bold" fill="#000" text-anchor="start" textLength="27.5" lengthAdjust="spacingAndGlyphs" stroke="#000" stroke-width="0.15">R26R-EYFP</text>
<text x="437" y="209.4" font-size="5.9" font-weight="bold" fill="#000" text-anchor="start" textLength="35.5" lengthAdjust="spacingAndGlyphs" stroke="#000" stroke-width="0.15">EpoR-tdTomato</text>
<text x="480.5" y="209.4" font-size="5.9" font-weight="bold" fill="#000" text-anchor="start" textLength="27.5" lengthAdjust="spacingAndGlyphs" stroke="#000" stroke-width="0.15">R26R-EYFP</text>
<rect x="283.5" y="31" width="34.5" height="33" fill="none" stroke="#cdcdcd" stroke-width="0.7"/>
<line x1="282.2" y1="64" x2="283.5" y2="64" stroke="#888" stroke-width="0.5" />
<rect x="280.5" y="63.4" width="1" height="0.8" fill="#aaa"/>
<line x1="282.2" y1="56.25" x2="283.5" y2="56.25" stroke="#888" stroke-width="0.5" />
<rect x="280.5" y="55.65" width="1" height="0.8" fill="#aaa"/>
<line x1="282.2" y1="48.5" x2="283.5" y2="48.5" stroke="#888" stroke-width="0.5" />
<rect x="280.5" y="47.9" width="1" height="0.8" fill="#aaa"/>
<line x1="282.2" y1="40.75" x2="283.5" y2="40.75" stroke="#888" stroke-width="0.5" />
<rect x="280.5" y="40.15" width="1" height="0.8" fill="#aaa"/>
<line x1="282.2" y1="33" x2="283.5" y2="33" stroke="#888" stroke-width="0.5" />
<rect x="280.5" y="32.4" width="1" height="0.8" fill="#aaa"/>
<rect x="286.94" y="66.4" width="1.4" height="1.1" fill="#aaa"/>
<line x1="287.64" y1="64" x2="287.64" y2="64.9" stroke="#777" stroke-width="0.5" />
<rect x="299.53" y="66.4" width="1.4" height="1.1" fill="#aaa"/>
<line x1="300.23" y1="64" x2="300.23" y2="64.9" stroke="#777" stroke-width="0.5" />
<rect x="307.12" y="66.4" width="1.4" height="1.1" fill="#aaa"/>
<line x1="307.82" y1="64" x2="307.82" y2="64.9" stroke="#777" stroke-width="0.5" />
<rect x="314.71" y="66.4" width="1.4" height="1.1" fill="#aaa"/>
<line x1="315.41" y1="64" x2="315.41" y2="64.9" stroke="#777" stroke-width="0.5" />
<line x1="283.5" y1="63.7" x2="318" y2="63.7" stroke="#fd5aa4" stroke-width="0.6" opacity="0.6"/>
<path d="M287,63.8 L287,62.87 L287.2,62.32 L287.4,61.49 L287.6,60.29 L287.8,58.59 L288,56.28 L288.2,53.26 L288.4,49.5 L288.6,45.09 L288.8,40.32 L289,35.82 L289.2,33 L289.4,35.22 L289.6,38.86 L289.8,42.9 L290,46.85 L290.2,50.43 L290.4,53.52 L290.6,56.07 L290.8,58.11 L291,59.7 L291.2,60.9 L291.4,61.78 L291.6,62.42 L291.8,62.87 L291.8,63.8 Z" fill="#fd5aa4" stroke="#f0408c" stroke-width="0.25" stroke-linejoin="round"/>
<rect x="322.6" y="31" width="33.4" height="33" fill="none" stroke="#cdcdcd" stroke-width="0.7"/>
<line x1="321.3" y1="64" x2="322.6" y2="64" stroke="#888" stroke-width="0.5" />
<rect x="319.6" y="63.4" width="1" height="0.8" fill="#aaa"/>
<line x1="321.3" y1="56.25" x2="322.6" y2="56.25" stroke="#888" stroke-width="0.5" />
<rect x="319.6" y="55.65" width="1" height="0.8" fill="#aaa"/>
<line x1="321.3" y1="48.5" x2="322.6" y2="48.5" stroke="#888" stroke-width="0.5" />
<rect x="319.6" y="47.9" width="1" height="0.8" fill="#aaa"/>
<line x1="321.3" y1="40.75" x2="322.6" y2="40.75" stroke="#888" stroke-width="0.5" />
<rect x="319.6" y="40.15" width="1" height="0.8" fill="#aaa"/>
<line x1="321.3" y1="33" x2="322.6" y2="33" stroke="#888" stroke-width="0.5" />
<rect x="319.6" y="32.4" width="1" height="0.8" fill="#aaa"/>
<rect x="325.91" y="66.4" width="1.4" height="1.1" fill="#aaa"/>
<line x1="326.61" y1="64" x2="326.61" y2="64.9" stroke="#777" stroke-width="0.5" />
<rect x="338.1" y="66.4" width="1.4" height="1.1" fill="#aaa"/>
<line x1="338.8" y1="64" x2="338.8" y2="64.9" stroke="#777" stroke-width="0.5" />
<rect x="345.45" y="66.4" width="1.4" height="1.1" fill="#aaa"/>
<line x1="346.15" y1="64" x2="346.15" y2="64.9" stroke="#777" stroke-width="0.5" />
<rect x="352.8" y="66.4" width="1.4" height="1.1" fill="#aaa"/>
<line x1="353.5" y1="64" x2="353.5" y2="64.9" stroke="#777" stroke-width="0.5" />
<line x1="322.6" y1="63.7" x2="356" y2="63.7" stroke="#8af84f" stroke-width="0.6" opacity="0.6"/>
<path d="M326.5,63.8 L326.5,62.89 L326.7,62.51 L326.9,62 L327.1,61.32 L327.3,60.44 L327.5,59.29 L327.7,57.84 L327.9,56.05 L328.1,53.87 L328.3,51.3 L328.5,48.35 L328.7,45.09 L328.9,41.64 L329.1,38.25 L329.3,35.27 L329.5,33.5 L329.7,34.91 L329.9,37.33 L330.1,40.17 L330.3,43.13 L330.5,46.05 L330.7,48.79 L330.9,51.3 L331.1,53.53 L331.3,55.47 L331.5,57.12 L331.7,58.5 L331.9,59.65 L332.1,60.58 L332.3,61.32 L332.5,61.92 L332.7,62.38 L332.9,62.74 L332.9,63.8 Z" fill="#8af84f" stroke="#70e838" stroke-width="0.25" stroke-linejoin="round"/>
<line x1="333.5" y1="49.8" x2="354.2" y2="49.8" stroke="#5e5e5e" stroke-width="1.25" />
<circle cx="334" cy="49.8" r="0.85" fill="#444"/>
<circle cx="353.7" cy="49.8" r="0.95" fill="#222"/>
<rect x="361.5" y="31" width="34.5" height="33" fill="none" stroke="#cdcdcd" stroke-width="0.7"/>
<line x1="360.2" y1="64" x2="361.5" y2="64" stroke="#888" stroke-width="0.5" />
<rect x="358.5" y="63.4" width="1" height="0.8" fill="#aaa"/>
<line x1="360.2" y1="56.25" x2="361.5" y2="56.25" stroke="#888" stroke-width="0.5" />
<rect x="358.5" y="55.65" width="1" height="0.8" fill="#aaa"/>
<line x1="360.2" y1="48.5" x2="361.5" y2="48.5" stroke="#888" stroke-width="0.5" />
<rect x="358.5" y="47.9" width="1" height="0.8" fill="#aaa"/>
<line x1="360.2" y1="40.75" x2="361.5" y2="40.75" stroke="#888" stroke-width="0.5" />
<rect x="358.5" y="40.15" width="1" height="0.8" fill="#aaa"/>
<line x1="360.2" y1="33" x2="361.5" y2="33" stroke="#888" stroke-width="0.5" />
<rect x="358.5" y="32.4" width="1" height="0.8" fill="#aaa"/>
<rect x="364.94" y="66.4" width="1.4" height="1.1" fill="#aaa"/>
<line x1="365.64" y1="64" x2="365.64" y2="64.9" stroke="#777" stroke-width="0.5" />
<rect x="377.53" y="66.4" width="1.4" height="1.1" fill="#aaa"/>
<line x1="378.23" y1="64" x2="378.23" y2="64.9" stroke="#777" stroke-width="0.5" />
<rect x="385.12" y="66.4" width="1.4" height="1.1" fill="#aaa"/>
<line x1="385.82" y1="64" x2="385.82" y2="64.9" stroke="#777" stroke-width="0.5" />
<rect x="392.71" y="66.4" width="1.4" height="1.1" fill="#aaa"/>
<line x1="393.41" y1="64" x2="393.41" y2="64.9" stroke="#777" stroke-width="0.5" />
<line x1="361.5" y1="63.7" x2="396" y2="63.7" stroke="#fd5aa4" stroke-width="0.6" opacity="0.6"/>
<path d="M363.6,63.8 L363.6,62.87 L363.8,62.61 L364,62.28 L364.2,61.89 L364.4,61.41 L364.6,60.84 L364.8,60.17 L365,59.4 L365.2,58.5 L365.4,57.48 L365.6,56.34 L365.8,55.06 L366,53.67 L366.2,52.16 L366.4,50.55 L366.6,48.86 L366.8,47.1 L367,45.31 L367.2,43.52 L367.4,41.75 L367.6,40.06 L367.8,38.47 L368,37.02 L368.2,35.76 L368.4,34.7 L368.6,33.88 L368.8,33.32 L369,33.04 L369.1,33 L369.2,33.03 L369.4,33.24 L369.6,33.67 L369.8,34.3 L370,35.12 L370.2,36.12 L370.4,37.26 L370.6,38.54 L370.8,39.93 L371,41.4 L371.2,42.92 L371.4,44.48 L371.6,46.05 L371.8,47.61 L372,49.13 L372.2,50.6 L372.4,52.01 L372.6,53.34 L372.8,54.59 L373,55.75 L373.2,56.81 L373.4,57.77 L373.6,58.64 L373.8,59.41 L374,60.09 L374.2,60.69 L374.4,61.21 L374.6,61.66 L374.8,62.05 L375,62.37 L375.2,62.64 L375.4,62.87 L375.4,63.8 Z" fill="#fd5aa4" stroke="#f0408c" stroke-width="0.25" stroke-linejoin="round"/>
<rect x="400.2" y="31" width="33.8" height="33" fill="none" stroke="#cdcdcd" stroke-width="0.7"/>
<line x1="398.9" y1="64" x2="400.2" y2="64" stroke="#888" stroke-width="0.5" />
<rect x="397.2" y="63.4" width="1" height="0.8" fill="#aaa"/>
<line x1="398.9" y1="56.25" x2="400.2" y2="56.25" stroke="#888" stroke-width="0.5" />
<rect x="397.2" y="55.65" width="1" height="0.8" fill="#aaa"/>
<line x1="398.9" y1="48.5" x2="400.2" y2="48.5" stroke="#888" stroke-width="0.5" />
<rect x="397.2" y="47.9" width="1" height="0.8" fill="#aaa"/>
<line x1="398.9" y1="40.75" x2="400.2" y2="40.75" stroke="#888" stroke-width="0.5" />
<rect x="397.2" y="40.15" width="1" height="0.8" fill="#aaa"/>
<line x1="398.9" y1="33" x2="400.2" y2="33" stroke="#888" stroke-width="0.5" />
<rect x="397.2" y="32.4" width="1" height="0.8" fill="#aaa"/>
<rect x="403.56" y="66.4" width="1.4" height="1.1" fill="#aaa"/>
<line x1="404.26" y1="64" x2="404.26" y2="64.9" stroke="#777" stroke-width="0.5" />
<rect x="415.89" y="66.4" width="1.4" height="1.1" fill="#aaa"/>
<line x1="416.59" y1="64" x2="416.59" y2="64.9" stroke="#777" stroke-width="0.5" />
<rect x="423.33" y="66.4" width="1.4" height="1.1" fill="#aaa"/>
<line x1="424.03" y1="64" x2="424.03" y2="64.9" stroke="#777" stroke-width="0.5" />
<rect x="430.76" y="66.4" width="1.4" height="1.1" fill="#aaa"/>
<line x1="431.46" y1="64" x2="431.46" y2="64.9" stroke="#777" stroke-width="0.5" />
<line x1="400.2" y1="63.7" x2="434" y2="63.7" stroke="#8af84f" stroke-width="0.6" opacity="0.6"/>
<path d="M405,63.8 L405,62.84 L405.2,62.45 L405.4,61.91 L405.6,61.2 L405.8,60.27 L406,59.07 L406.2,57.55 L406.4,55.66 L406.6,53.38 L406.8,50.68 L407,47.59 L407.2,44.16 L407.4,40.55 L407.6,36.98 L407.8,33.86 L408,32 L408.2,33.32 L408.4,35.58 L408.6,38.27 L408.8,41.12 L409,43.97 L409.2,46.71 L409.4,49.26 L409.6,51.58 L409.8,53.64 L410,55.44 L410.2,56.99 L410.4,58.31 L410.6,59.41 L410.8,60.32 L411,61.07 L411.2,61.67 L411.4,62.16 L411.6,62.54 L411.8,62.84 L411.8,63.8 Z" fill="#8af84f" stroke="#70e838" stroke-width="0.25" stroke-linejoin="round"/>
<line x1="413" y1="49.7" x2="431.8" y2="49.7" stroke="#7a7a7a" stroke-width="1.8" />
<circle cx="413.5" cy="49.7" r="0.85" fill="#444"/>
<circle cx="431.3" cy="49.7" r="0.95" fill="#222"/>
<rect x="438" y="31" width="35" height="33" fill="none" stroke="#cdcdcd" stroke-width="0.7"/>
<line x1="436.7" y1="64" x2="438" y2="64" stroke="#888" stroke-width="0.5" />
<rect x="435" y="63.4" width="1" height="0.8" fill="#aaa"/>
<line x1="436.7" y1="56.25" x2="438" y2="56.25" stroke="#888" stroke-width="0.5" />
<rect x="435" y="55.65" width="1" height="0.8" fill="#aaa"/>
<line x1="436.7" y1="48.5" x2="438" y2="48.5" stroke="#888" stroke-width="0.5" />
<rect x="435" y="47.9" width="1" height="0.8" fill="#aaa"/>
<line x1="436.7" y1="40.75" x2="438" y2="40.75" stroke="#888" stroke-width="0.5" />
<rect x="435" y="40.15" width="1" height="0.8" fill="#aaa"/>
<line x1="436.7" y1="33" x2="438" y2="33" stroke="#888" stroke-width="0.5" />
<rect x="435" y="32.4" width="1" height="0.8" fill="#aaa"/>
<rect x="441.5" y="66.4" width="1.4" height="1.1" fill="#aaa"/>
<line x1="442.2" y1="64" x2="442.2" y2="64.9" stroke="#777" stroke-width="0.5" />
<rect x="454.28" y="66.4" width="1.4" height="1.1" fill="#aaa"/>
<line x1="454.98" y1="64" x2="454.98" y2="64.9" stroke="#777" stroke-width="0.5" />
<rect x="461.98" y="66.4" width="1.4" height="1.1" fill="#aaa"/>
<line x1="462.68" y1="64" x2="462.68" y2="64.9" stroke="#777" stroke-width="0.5" />
<rect x="469.68" y="66.4" width="1.4" height="1.1" fill="#aaa"/>
<line x1="470.38" y1="64" x2="470.38" y2="64.9" stroke="#777" stroke-width="0.5" />
<line x1="438" y1="63.7" x2="473" y2="63.7" stroke="#fd5aa4" stroke-width="0.6" opacity="0.6"/>
<path d="M439.6,63.8 L439.6,63.8 L443,60 L445,55 L447,47 L448.5,40 L449.8,34 L450.4,33 L451.2,34.5 L452.5,44 L453.5,52 L455,63.8 L455,63.8 Z" fill="#fd5aa4" stroke="#f0408c" stroke-width="0.25" stroke-linejoin="round"/>
<rect x="478" y="31" width="33.3" height="33" fill="none" stroke="#cdcdcd" stroke-width="0.7"/>
<line x1="476.7" y1="64" x2="478" y2="64" stroke="#888" stroke-width="0.5" />
<rect x="475" y="63.4" width="1" height="0.8" fill="#aaa"/>
<line x1="476.7" y1="56.25" x2="478" y2="56.25" stroke="#888" stroke-width="0.5" />
<rect x="475" y="55.65" width="1" height="0.8" fill="#aaa"/>
<line x1="476.7" y1="48.5" x2="478" y2="48.5" stroke="#888" stroke-width="0.5" />
<rect x="475" y="47.9" width="1" height="0.8" fill="#aaa"/>
<line x1="476.7" y1="40.75" x2="478" y2="40.75" stroke="#888" stroke-width="0.5" />
<rect x="475" y="40.15" width="1" height="0.8" fill="#aaa"/>
<line x1="476.7" y1="33" x2="478" y2="33" stroke="#888" stroke-width="0.5" />
<rect x="475" y="32.4" width="1" height="0.8" fill="#aaa"/>
<rect x="481.3" y="66.4" width="1.4" height="1.1" fill="#aaa"/>
<line x1="482" y1="64" x2="482" y2="64.9" stroke="#777" stroke-width="0.5" />
<rect x="493.45" y="66.4" width="1.4" height="1.1" fill="#aaa"/>
<line x1="494.15" y1="64" x2="494.15" y2="64.9" stroke="#777" stroke-width="0.5" />
<rect x="500.78" y="66.4" width="1.4" height="1.1" fill="#aaa"/>
<line x1="501.48" y1="64" x2="501.48" y2="64.9" stroke="#777" stroke-width="0.5" />
<rect x="508.1" y="66.4" width="1.4" height="1.1" fill="#aaa"/>
<line x1="508.8" y1="64" x2="508.8" y2="64.9" stroke="#777" stroke-width="0.5" />
<line x1="478" y1="63.7" x2="511.3" y2="63.7" stroke="#8af84f" stroke-width="0.6" opacity="0.6"/>
<path d="M482.7,63.8 L482.7,62.85 L482.9,62.61 L483.1,62.32 L483.3,61.96 L483.5,61.53 L483.7,61.02 L483.9,60.4 L484.1,59.68 L484.3,58.83 L484.5,57.84 L484.7,56.7 L484.9,55.4 L485.1,53.93 L485.3,52.29 L485.5,50.47 L485.7,48.49 L485.9,46.35 L486.1,44.1 L486.3,41.78 L486.5,39.44 L486.7,37.17 L486.9,35.1 L487.1,33.38 L487.3,32.4 L487.5,34.33 L487.7,37.55 L487.9,41.21 L488.1,44.89 L488.3,48.34 L488.5,51.43 L488.7,54.09 L488.9,56.32 L489.1,58.13 L489.3,59.57 L489.5,60.69 L489.7,61.55 L489.9,62.19 L490.1,62.67 L490.1,63.8 Z" fill="#8af84f" stroke="#70e838" stroke-width="0.25" stroke-linejoin="round"/>
<line x1="490.7" y1="51.1" x2="510" y2="51.1" stroke="#5e5e5e" stroke-width="1.25" />
<circle cx="491.2" cy="51.1" r="0.85" fill="#444"/>
<circle cx="509.5" cy="51.1" r="0.95" fill="#222"/>
<rect x="283.5" y="69.3" width="34.5" height="33.5" fill="none" stroke="#cdcdcd" stroke-width="0.7"/>
<line x1="282.2" y1="102.8" x2="283.5" y2="102.8" stroke="#888" stroke-width="0.5" />
<rect x="280.5" y="102.2" width="1" height="0.8" fill="#aaa"/>
<line x1="282.2" y1="94.92" x2="283.5" y2="94.92" stroke="#888" stroke-width="0.5" />
<rect x="280.5" y="94.33" width="1" height="0.8" fill="#aaa"/>
<line x1="282.2" y1="87.05" x2="283.5" y2="87.05" stroke="#888" stroke-width="0.5" />
<rect x="280.5" y="86.45" width="1" height="0.8" fill="#aaa"/>
<line x1="282.2" y1="79.17" x2="283.5" y2="79.17" stroke="#888" stroke-width="0.5" />
<rect x="280.5" y="78.58" width="1" height="0.8" fill="#aaa"/>
<line x1="282.2" y1="71.3" x2="283.5" y2="71.3" stroke="#888" stroke-width="0.5" />
<rect x="280.5" y="70.7" width="1" height="0.8" fill="#aaa"/>
<rect x="286.94" y="105.2" width="1.4" height="1.1" fill="#aaa"/>
<line x1="287.64" y1="102.8" x2="287.64" y2="103.7" stroke="#777" stroke-width="0.5" />
<rect x="299.53" y="105.2" width="1.4" height="1.1" fill="#aaa"/>
<line x1="300.23" y1="102.8" x2="300.23" y2="103.7" stroke="#777" stroke-width="0.5" />
<rect x="307.12" y="105.2" width="1.4" height="1.1" fill="#aaa"/>
<line x1="307.82" y1="102.8" x2="307.82" y2="103.7" stroke="#777" stroke-width="0.5" />
<rect x="314.71" y="105.2" width="1.4" height="1.1" fill="#aaa"/>
<line x1="315.41" y1="102.8" x2="315.41" y2="103.7" stroke="#777" stroke-width="0.5" />
<line x1="283.5" y1="102.5" x2="318" y2="102.5" stroke="#fd5aa4" stroke-width="0.6" opacity="0.6"/>
<path d="M287,102.6 L287,102.6 L288.5,101 L290,100.6 L292,101.5 L295,101 L298,99 L300,95 L301.5,85 L302.5,77 L303,73.5 L303.6,73.8 L304.5,78 L305.5,90 L306.2,98 L307,102.6 L307,102.6 Z" fill="#fd5aa4" stroke="#f0408c" stroke-width="0.25" stroke-linejoin="round"/>
<rect x="322.6" y="69.3" width="33.4" height="33.5" fill="none" stroke="#cdcdcd" stroke-width="0.7"/>
<line x1="321.3" y1="102.8" x2="322.6" y2="102.8" stroke="#888" stroke-width="0.5" />
<rect x="319.6" y="102.2" width="1" height="0.8" fill="#aaa"/>
<line x1="321.3" y1="94.92" x2="322.6" y2="94.92" stroke="#888" stroke-width="0.5" />
<rect x="319.6" y="94.33" width="1" height="0.8" fill="#aaa"/>
<line x1="321.3" y1="87.05" x2="322.6" y2="87.05" stroke="#888" stroke-width="0.5" />
<rect x="319.6" y="86.45" width="1" height="0.8" fill="#aaa"/>
<line x1="321.3" y1="79.17" x2="322.6" y2="79.17" stroke="#888" stroke-width="0.5" />
<rect x="319.6" y="78.58" width="1" height="0.8" fill="#aaa"/>
<line x1="321.3" y1="71.3" x2="322.6" y2="71.3" stroke="#888" stroke-width="0.5" />
<rect x="319.6" y="70.7" width="1" height="0.8" fill="#aaa"/>
<rect x="325.91" y="105.2" width="1.4" height="1.1" fill="#aaa"/>
<line x1="326.61" y1="102.8" x2="326.61" y2="103.7" stroke="#777" stroke-width="0.5" />
<rect x="338.1" y="105.2" width="1.4" height="1.1" fill="#aaa"/>
<line x1="338.8" y1="102.8" x2="338.8" y2="103.7" stroke="#777" stroke-width="0.5" />
<rect x="345.45" y="105.2" width="1.4" height="1.1" fill="#aaa"/>
<line x1="346.15" y1="102.8" x2="346.15" y2="103.7" stroke="#777" stroke-width="0.5" />
<rect x="352.8" y="105.2" width="1.4" height="1.1" fill="#aaa"/>
<line x1="353.5" y1="102.8" x2="353.5" y2="103.7" stroke="#777" stroke-width="0.5" />
<line x1="322.6" y1="102.5" x2="356" y2="102.5" stroke="#8af84f" stroke-width="0.6" opacity="0.6"/>
<path d="M327,102.6 L327,101.8 L327.2,101.32 L327.4,100.6 L327.6,99.57 L327.8,98.1 L328,96.11 L328.2,93.5 L328.4,90.25 L328.6,86.44 L328.8,82.32 L329,78.43 L329.2,76 L329.4,77.48 L329.6,79.98 L329.8,82.86 L330,85.79 L330.2,88.59 L330.4,91.15 L330.6,93.4 L330.8,95.33 L331,96.95 L331.2,98.26 L331.4,99.32 L331.6,100.15 L331.8,100.79 L332,101.28 L332.2,101.65 L332.2,102.6 Z" fill="#8af84f" stroke="#70e838" stroke-width="0.25" stroke-linejoin="round"/>
<line x1="333.5" y1="89.2" x2="353.8" y2="89.2" stroke="#7a7a7a" stroke-width="1.8" />
<circle cx="334" cy="89.2" r="0.85" fill="#444"/>
<circle cx="353.3" cy="89.2" r="0.95" fill="#222"/>
<rect x="361.5" y="69.3" width="34.5" height="33.5" fill="none" stroke="#cdcdcd" stroke-width="0.7"/>
<line x1="360.2" y1="102.8" x2="361.5" y2="102.8" stroke="#888" stroke-width="0.5" />
<rect x="358.5" y="102.2" width="1" height="0.8" fill="#aaa"/>
<line x1="360.2" y1="94.92" x2="361.5" y2="94.92" stroke="#888" stroke-width="0.5" />
<rect x="358.5" y="94.33" width="1" height="0.8" fill="#aaa"/>
<line x1="360.2" y1="87.05" x2="361.5" y2="87.05" stroke="#888" stroke-width="0.5" />
<rect x="358.5" y="86.45" width="1" height="0.8" fill="#aaa"/>
<line x1="360.2" y1="79.17" x2="361.5" y2="79.17" stroke="#888" stroke-width="0.5" />
<rect x="358.5" y="78.58" width="1" height="0.8" fill="#aaa"/>
<line x1="360.2" y1="71.3" x2="361.5" y2="71.3" stroke="#888" stroke-width="0.5" />
<rect x="358.5" y="70.7" width="1" height="0.8" fill="#aaa"/>
<rect x="364.94" y="105.2" width="1.4" height="1.1" fill="#aaa"/>
<line x1="365.64" y1="102.8" x2="365.64" y2="103.7" stroke="#777" stroke-width="0.5" />
<rect x="377.53" y="105.2" width="1.4" height="1.1" fill="#aaa"/>
<line x1="378.23" y1="102.8" x2="378.23" y2="103.7" stroke="#777" stroke-width="0.5" />
<rect x="385.12" y="105.2" width="1.4" height="1.1" fill="#aaa"/>
<line x1="385.82" y1="102.8" x2="385.82" y2="103.7" stroke="#777" stroke-width="0.5" />
<rect x="392.71" y="105.2" width="1.4" height="1.1" fill="#aaa"/>
<line x1="393.41" y1="102.8" x2="393.41" y2="103.7" stroke="#777" stroke-width="0.5" />
<line x1="361.5" y1="102.5" x2="396" y2="102.5" stroke="#fd5aa4" stroke-width="0.6" opacity="0.6"/>
<path d="M379.5,102.6 L379.5,101.65 L379.7,101.43 L379.9,101.17 L380.1,100.85 L380.3,100.48 L380.5,100.03 L380.7,99.51 L380.9,98.9 L381.1,98.19 L381.3,97.37 L381.5,96.43 L381.7,95.36 L381.9,94.15 L382.1,92.8 L382.3,91.29 L382.5,89.65 L382.7,87.86 L382.9,85.94 L383.1,83.91 L383.3,81.79 L383.5,79.64 L383.7,77.5 L383.9,75.45 L384.1,73.59 L384.3,72.07 L384.5,71.2 L384.7,73.34 L384.9,76.88 L385.1,80.84 L385.3,84.74 L385.5,88.33 L385.7,91.47 L385.9,94.1 L386.1,96.24 L386.3,97.93 L386.5,99.23 L386.7,100.21 L386.9,100.93 L387.1,101.45 L387.1,102.6 Z" fill="#fd5aa4" stroke="#f0408c" stroke-width="0.25" stroke-linejoin="round"/>
<rect x="400.2" y="69.3" width="33.8" height="33.5" fill="none" stroke="#cdcdcd" stroke-width="0.7"/>
<line x1="398.9" y1="102.8" x2="400.2" y2="102.8" stroke="#888" stroke-width="0.5" />
<rect x="397.2" y="102.2" width="1" height="0.8" fill="#aaa"/>
<line x1="398.9" y1="94.92" x2="400.2" y2="94.92" stroke="#888" stroke-width="0.5" />
<rect x="397.2" y="94.33" width="1" height="0.8" fill="#aaa"/>
<line x1="398.9" y1="87.05" x2="400.2" y2="87.05" stroke="#888" stroke-width="0.5" />
<rect x="397.2" y="86.45" width="1" height="0.8" fill="#aaa"/>
<line x1="398.9" y1="79.17" x2="400.2" y2="79.17" stroke="#888" stroke-width="0.5" />
<rect x="397.2" y="78.58" width="1" height="0.8" fill="#aaa"/>
<line x1="398.9" y1="71.3" x2="400.2" y2="71.3" stroke="#888" stroke-width="0.5" />
<rect x="397.2" y="70.7" width="1" height="0.8" fill="#aaa"/>
<rect x="403.56" y="105.2" width="1.4" height="1.1" fill="#aaa"/>
<line x1="404.26" y1="102.8" x2="404.26" y2="103.7" stroke="#777" stroke-width="0.5" />
<rect x="415.89" y="105.2" width="1.4" height="1.1" fill="#aaa"/>
<line x1="416.59" y1="102.8" x2="416.59" y2="103.7" stroke="#777" stroke-width="0.5" />
<rect x="423.33" y="105.2" width="1.4" height="1.1" fill="#aaa"/>
<line x1="424.03" y1="102.8" x2="424.03" y2="103.7" stroke="#777" stroke-width="0.5" />
<rect x="430.76" y="105.2" width="1.4" height="1.1" fill="#aaa"/>
<line x1="431.46" y1="102.8" x2="431.46" y2="103.7" stroke="#777" stroke-width="0.5" />
<line x1="400.2" y1="102.5" x2="434" y2="102.5" stroke="#8af84f" stroke-width="0.6" opacity="0.6"/>
<path d="M405,102.6 L405,101.72 L405.2,101.31 L405.4,100.74 L405.6,99.96 L405.8,98.91 L406,97.54 L406.2,95.77 L406.4,93.56 L406.6,90.89 L406.8,87.76 L407,84.27 L407.2,80.58 L407.4,77.04 L407.6,74.22 L407.7,73.5 L407.8,74.03 L408,76.16 L408.2,78.93 L408.4,81.93 L408.6,84.92 L408.8,87.76 L409,90.35 L409.2,92.64 L409.4,94.62 L409.6,96.29 L409.8,97.68 L410,98.8 L410.2,99.71 L410.4,100.42 L410.6,100.97 L410.8,101.4 L411,101.72 L411,102.6 Z" fill="#8af84f" stroke="#70e838" stroke-width="0.25" stroke-linejoin="round"/>
<line x1="413" y1="89.2" x2="431.8" y2="89.2" stroke="#7a7a7a" stroke-width="1.8" />
<circle cx="413.5" cy="89.2" r="0.85" fill="#444"/>
<circle cx="431.3" cy="89.2" r="0.95" fill="#222"/>
<rect x="438" y="69.3" width="35" height="33.5" fill="none" stroke="#cdcdcd" stroke-width="0.7"/>
<line x1="436.7" y1="102.8" x2="438" y2="102.8" stroke="#888" stroke-width="0.5" />
<rect x="435" y="102.2" width="1" height="0.8" fill="#aaa"/>
<line x1="436.7" y1="94.92" x2="438" y2="94.92" stroke="#888" stroke-width="0.5" />
<rect x="435" y="94.33" width="1" height="0.8" fill="#aaa"/>
<line x1="436.7" y1="87.05" x2="438" y2="87.05" stroke="#888" stroke-width="0.5" />
<rect x="435" y="86.45" width="1" height="0.8" fill="#aaa"/>
<line x1="436.7" y1="79.17" x2="438" y2="79.17" stroke="#888" stroke-width="0.5" />
<rect x="435" y="78.58" width="1" height="0.8" fill="#aaa"/>
<line x1="436.7" y1="71.3" x2="438" y2="71.3" stroke="#888" stroke-width="0.5" />
<rect x="435" y="70.7" width="1" height="0.8" fill="#aaa"/>
<rect x="441.5" y="105.2" width="1.4" height="1.1" fill="#aaa"/>
<line x1="442.2" y1="102.8" x2="442.2" y2="103.7" stroke="#777" stroke-width="0.5" />
<rect x="454.28" y="105.2" width="1.4" height="1.1" fill="#aaa"/>
<line x1="454.98" y1="102.8" x2="454.98" y2="103.7" stroke="#777" stroke-width="0.5" />
<rect x="461.98" y="105.2" width="1.4" height="1.1" fill="#aaa"/>
<line x1="462.68" y1="102.8" x2="462.68" y2="103.7" stroke="#777" stroke-width="0.5" />
<rect x="469.68" y="105.2" width="1.4" height="1.1" fill="#aaa"/>
<line x1="470.38" y1="102.8" x2="470.38" y2="103.7" stroke="#777" stroke-width="0.5" />
<line x1="438" y1="102.5" x2="473" y2="102.5" stroke="#fd5aa4" stroke-width="0.6" opacity="0.6"/>
<path d="M460.8,102.6 L460.8,101.68 L461,101.25 L461.2,100.65 L461.4,99.83 L461.6,98.72 L461.8,97.28 L462,95.42 L462.2,93.1 L462.4,90.28 L462.6,87 L462.8,83.32 L463,79.45 L463.2,75.72 L463.4,72.75 L463.5,72 L463.6,72.96 L463.8,76.65 L464,81.14 L464.2,85.6 L464.4,89.61 L464.6,92.98 L464.8,95.68 L465,97.76 L465.2,99.29 L465.4,100.39 L465.6,101.16 L465.8,101.68 L465.8,102.6 Z" fill="#fd5aa4" stroke="#f0408c" stroke-width="0.25" stroke-linejoin="round"/>
<rect x="478" y="69.3" width="33.3" height="33.5" fill="none" stroke="#cdcdcd" stroke-width="0.7"/>
<line x1="476.7" y1="102.8" x2="478" y2="102.8" stroke="#888" stroke-width="0.5" />
<rect x="475" y="102.2" width="1" height="0.8" fill="#aaa"/>
<line x1="476.7" y1="94.92" x2="478" y2="94.92" stroke="#888" stroke-width="0.5" />
<rect x="475" y="94.33" width="1" height="0.8" fill="#aaa"/>
<line x1="476.7" y1="87.05" x2="478" y2="87.05" stroke="#888" stroke-width="0.5" />
<rect x="475" y="86.45" width="1" height="0.8" fill="#aaa"/>
<line x1="476.7" y1="79.17" x2="478" y2="79.17" stroke="#888" stroke-width="0.5" />
<rect x="475" y="78.58" width="1" height="0.8" fill="#aaa"/>
<line x1="476.7" y1="71.3" x2="478" y2="71.3" stroke="#888" stroke-width="0.5" />
<rect x="475" y="70.7" width="1" height="0.8" fill="#aaa"/>
<rect x="481.3" y="105.2" width="1.4" height="1.1" fill="#aaa"/>
<line x1="482" y1="102.8" x2="482" y2="103.7" stroke="#777" stroke-width="0.5" />
<rect x="493.45" y="105.2" width="1.4" height="1.1" fill="#aaa"/>
<line x1="494.15" y1="102.8" x2="494.15" y2="103.7" stroke="#777" stroke-width="0.5" />
<rect x="500.78" y="105.2" width="1.4" height="1.1" fill="#aaa"/>
<line x1="501.48" y1="102.8" x2="501.48" y2="103.7" stroke="#777" stroke-width="0.5" />
<rect x="508.1" y="105.2" width="1.4" height="1.1" fill="#aaa"/>
<line x1="508.8" y1="102.8" x2="508.8" y2="103.7" stroke="#777" stroke-width="0.5" />
<line x1="478" y1="102.5" x2="511.3" y2="102.5" stroke="#8af84f" stroke-width="0.6" opacity="0.6"/>
<path d="M484,102.6 L484,101.69 L484.2,101.38 L484.4,100.99 L484.6,100.49 L484.8,99.86 L485,99.08 L485.2,98.11 L485.4,96.93 L485.6,95.51 L485.8,93.84 L486,91.89 L486.2,89.68 L486.4,87.2 L486.6,84.51 L486.8,81.67 L487,78.8 L487.2,76.07 L487.4,73.75 L487.6,72.4 L487.8,74.35 L488,77.6 L488.2,81.26 L488.4,84.9 L488.6,88.29 L488.8,91.29 L489,93.84 L489.2,95.94 L489.4,97.63 L489.6,98.95 L489.8,99.96 L490,100.72 L490.2,101.28 L490.4,101.69 L490.4,102.6 Z" fill="#8af84f" stroke="#70e838" stroke-width="0.25" stroke-linejoin="round"/>
<line x1="490.7" y1="90" x2="510" y2="90" stroke="#5e5e5e" stroke-width="1.25" />
<circle cx="491.2" cy="90" r="0.85" fill="#444"/>
<circle cx="509.5" cy="90" r="0.95" fill="#222"/>
<rect x="283.5" y="108.8" width="34.5" height="33.6" fill="none" stroke="#cdcdcd" stroke-width="0.7"/>
<line x1="282.2" y1="142.4" x2="283.5" y2="142.4" stroke="#888" stroke-width="0.5" />
<rect x="280.5" y="141.8" width="1" height="0.8" fill="#aaa"/>
<line x1="282.2" y1="134.5" x2="283.5" y2="134.5" stroke="#888" stroke-width="0.5" />
<rect x="280.5" y="133.9" width="1" height="0.8" fill="#aaa"/>
<line x1="282.2" y1="126.6" x2="283.5" y2="126.6" stroke="#888" stroke-width="0.5" />
<rect x="280.5" y="126" width="1" height="0.8" fill="#aaa"/>
<line x1="282.2" y1="118.7" x2="283.5" y2="118.7" stroke="#888" stroke-width="0.5" />
<rect x="280.5" y="118.1" width="1" height="0.8" fill="#aaa"/>
<line x1="282.2" y1="110.8" x2="283.5" y2="110.8" stroke="#888" stroke-width="0.5" />
<rect x="280.5" y="110.2" width="1" height="0.8" fill="#aaa"/>
<rect x="286.94" y="144.8" width="1.4" height="1.1" fill="#aaa"/>
<line x1="287.64" y1="142.4" x2="287.64" y2="143.3" stroke="#777" stroke-width="0.5" />
<rect x="299.53" y="144.8" width="1.4" height="1.1" fill="#aaa"/>
<line x1="300.23" y1="142.4" x2="300.23" y2="143.3" stroke="#777" stroke-width="0.5" />
<rect x="307.12" y="144.8" width="1.4" height="1.1" fill="#aaa"/>
<line x1="307.82" y1="142.4" x2="307.82" y2="143.3" stroke="#777" stroke-width="0.5" />
<rect x="314.71" y="144.8" width="1.4" height="1.1" fill="#aaa"/>
<line x1="315.41" y1="142.4" x2="315.41" y2="143.3" stroke="#777" stroke-width="0.5" />
<line x1="283.5" y1="142.1" x2="318" y2="142.1" stroke="#fd5aa4" stroke-width="0.6" opacity="0.6"/>
<path d="M297,142.2 L297,142.2 L298.5,135 L300,125 L301.2,114.5 L301.6,114 L302.5,118 L303.5,130 L304.6,142.2 L304.6,142.2 Z" fill="#fd5aa4" stroke="#f0408c" stroke-width="0.25" stroke-linejoin="round"/>
<rect x="322.6" y="108.8" width="33.4" height="33.6" fill="none" stroke="#cdcdcd" stroke-width="0.7"/>
<line x1="321.3" y1="142.4" x2="322.6" y2="142.4" stroke="#888" stroke-width="0.5" />
<rect x="319.6" y="141.8" width="1" height="0.8" fill="#aaa"/>
<line x1="321.3" y1="134.5" x2="322.6" y2="134.5" stroke="#888" stroke-width="0.5" />
<rect x="319.6" y="133.9" width="1" height="0.8" fill="#aaa"/>
<line x1="321.3" y1="126.6" x2="322.6" y2="126.6" stroke="#888" stroke-width="0.5" />
<rect x="319.6" y="126" width="1" height="0.8" fill="#aaa"/>
<line x1="321.3" y1="118.7" x2="322.6" y2="118.7" stroke="#888" stroke-width="0.5" />
<rect x="319.6" y="118.1" width="1" height="0.8" fill="#aaa"/>
<line x1="321.3" y1="110.8" x2="322.6" y2="110.8" stroke="#888" stroke-width="0.5" />
<rect x="319.6" y="110.2" width="1" height="0.8" fill="#aaa"/>
<rect x="325.91" y="144.8" width="1.4" height="1.1" fill="#aaa"/>
<line x1="326.61" y1="142.4" x2="326.61" y2="143.3" stroke="#777" stroke-width="0.5" />
<rect x="338.1" y="144.8" width="1.4" height="1.1" fill="#aaa"/>
<line x1="338.8" y1="142.4" x2="338.8" y2="143.3" stroke="#777" stroke-width="0.5" />
<rect x="345.45" y="144.8" width="1.4" height="1.1" fill="#aaa"/>
<line x1="346.15" y1="142.4" x2="346.15" y2="143.3" stroke="#777" stroke-width="0.5" />
<rect x="352.8" y="144.8" width="1.4" height="1.1" fill="#aaa"/>
<line x1="353.5" y1="142.4" x2="353.5" y2="143.3" stroke="#777" stroke-width="0.5" />
<line x1="322.6" y1="142.1" x2="356" y2="142.1" stroke="#8af84f" stroke-width="0.6" opacity="0.6"/>
<path d="M326,142.2 L326,142.2 L327,138 L328,130 L328.5,130.5 L329.5,137 L330.8,140.4 L335,138.5 L340,136 L343,132 L344.5,122 L345.6,114.4 L346.2,114.6 L347,118 L348.5,132 L350,142.2 L350,142.2 Z" fill="#8af84f" stroke="#70e838" stroke-width="0.25" stroke-linejoin="round"/>
<line x1="332" y1="130.8" x2="352" y2="130.8" stroke="#7a7a7a" stroke-width="1.8" />
<circle cx="332.5" cy="130.8" r="0.85" fill="#444"/>
<circle cx="351.5" cy="130.8" r="0.95" fill="#222"/>
<text x="323.4" y="115.1" font-size="7.2" font-weight="bold" fill="#000" text-anchor="start" textLength="32" lengthAdjust="spacingAndGlyphs" stroke="#000" stroke-width="0.12">85.9±2.1%</text>
<rect x="361.5" y="108.8" width="34.5" height="33.6" fill="none" stroke="#cdcdcd" stroke-width="0.7"/>
<line x1="360.2" y1="142.4" x2="361.5" y2="142.4" stroke="#888" stroke-width="0.5" />
<rect x="358.5" y="141.8" width="1" height="0.8" fill="#aaa"/>
<line x1="360.2" y1="134.5" x2="361.5" y2="134.5" stroke="#888" stroke-width="0.5" />
<rect x="358.5" y="133.9" width="1" height="0.8" fill="#aaa"/>
<line x1="360.2" y1="126.6" x2="361.5" y2="126.6" stroke="#888" stroke-width="0.5" />
<rect x="358.5" y="126" width="1" height="0.8" fill="#aaa"/>
<line x1="360.2" y1="118.7" x2="361.5" y2="118.7" stroke="#888" stroke-width="0.5" />
<rect x="358.5" y="118.1" width="1" height="0.8" fill="#aaa"/>
<line x1="360.2" y1="110.8" x2="361.5" y2="110.8" stroke="#888" stroke-width="0.5" />
<rect x="358.5" y="110.2" width="1" height="0.8" fill="#aaa"/>
<rect x="364.94" y="144.8" width="1.4" height="1.1" fill="#aaa"/>
<line x1="365.64" y1="142.4" x2="365.64" y2="143.3" stroke="#777" stroke-width="0.5" />
<rect x="377.53" y="144.8" width="1.4" height="1.1" fill="#aaa"/>
<line x1="378.23" y1="142.4" x2="378.23" y2="143.3" stroke="#777" stroke-width="0.5" />
<rect x="385.12" y="144.8" width="1.4" height="1.1" fill="#aaa"/>
<line x1="385.82" y1="142.4" x2="385.82" y2="143.3" stroke="#777" stroke-width="0.5" />
<rect x="392.71" y="144.8" width="1.4" height="1.1" fill="#aaa"/>
<line x1="393.41" y1="142.4" x2="393.41" y2="143.3" stroke="#777" stroke-width="0.5" />
<line x1="361.5" y1="142.1" x2="396" y2="142.1" stroke="#fd5aa4" stroke-width="0.6" opacity="0.6"/>
<path d="M378.8,142.2 L378.8,141.26 L379,140.97 L379.2,140.6 L379.4,140.13 L379.6,139.54 L379.8,138.81 L380,137.92 L380.2,136.85 L380.4,135.57 L380.6,134.05 L380.8,132.3 L381,130.29 L381.2,128.03 L381.4,125.54 L381.6,122.87 L381.8,120.09 L382,117.31 L382.2,114.69 L382.4,112.48 L382.6,111.2 L382.8,112.93 L383,115.84 L383.2,119.19 L383.4,122.61 L383.6,125.87 L383.8,128.86 L384,131.48 L384.2,133.73 L384.4,135.61 L384.6,137.15 L384.8,138.38 L385,139.34 L385.2,140.09 L385.4,140.66 L385.6,141.09 L385.6,142.2 Z" fill="#fd5aa4" stroke="#f0408c" stroke-width="0.25" stroke-linejoin="round"/>
<rect x="400.2" y="108.8" width="33.8" height="33.6" fill="none" stroke="#cdcdcd" stroke-width="0.7"/>
<line x1="398.9" y1="142.4" x2="400.2" y2="142.4" stroke="#888" stroke-width="0.5" />
<rect x="397.2" y="141.8" width="1" height="0.8" fill="#aaa"/>
<line x1="398.9" y1="134.5" x2="400.2" y2="134.5" stroke="#888" stroke-width="0.5" />
<rect x="397.2" y="133.9" width="1" height="0.8" fill="#aaa"/>
<line x1="398.9" y1="126.6" x2="400.2" y2="126.6" stroke="#888" stroke-width="0.5" />
<rect x="397.2" y="126" width="1" height="0.8" fill="#aaa"/>
<line x1="398.9" y1="118.7" x2="400.2" y2="118.7" stroke="#888" stroke-width="0.5" />
<rect x="397.2" y="118.1" width="1" height="0.8" fill="#aaa"/>
<line x1="398.9" y1="110.8" x2="400.2" y2="110.8" stroke="#888" stroke-width="0.5" />
<rect x="397.2" y="110.2" width="1" height="0.8" fill="#aaa"/>
<rect x="403.56" y="144.8" width="1.4" height="1.1" fill="#aaa"/>
<line x1="404.26" y1="142.4" x2="404.26" y2="143.3" stroke="#777" stroke-width="0.5" />
<rect x="415.89" y="144.8" width="1.4" height="1.1" fill="#aaa"/>
<line x1="416.59" y1="142.4" x2="416.59" y2="143.3" stroke="#777" stroke-width="0.5" />
<rect x="423.33" y="144.8" width="1.4" height="1.1" fill="#aaa"/>
<line x1="424.03" y1="142.4" x2="424.03" y2="143.3" stroke="#777" stroke-width="0.5" />
<rect x="430.76" y="144.8" width="1.4" height="1.1" fill="#aaa"/>
<line x1="431.46" y1="142.4" x2="431.46" y2="143.3" stroke="#777" stroke-width="0.5" />
<line x1="400.2" y1="142.1" x2="434" y2="142.1" stroke="#8af84f" stroke-width="0.6" opacity="0.6"/>
<path d="M421,142.2 L421,142.2 L423,138 L424.5,125 L425.5,112.9 L426,112.9 L427,120 L428.8,142.2 L428.8,142.2 Z" fill="#8af84f" stroke="#70e838" stroke-width="0.25" stroke-linejoin="round"/>
<line x1="413" y1="130.8" x2="431.8" y2="130.8" stroke="#7a7a7a" stroke-width="1.8" />
<circle cx="413.5" cy="130.8" r="0.85" fill="#444"/>
<circle cx="431.3" cy="130.8" r="0.95" fill="#222"/>
<text x="401" y="115.1" font-size="7.2" font-weight="bold" fill="#000" text-anchor="start" textLength="32.4" lengthAdjust="spacingAndGlyphs" stroke="#000" stroke-width="0.12">99.2±0.3%</text>
<rect x="438" y="108.8" width="35" height="33.6" fill="none" stroke="#cdcdcd" stroke-width="0.7"/>
<line x1="436.7" y1="142.4" x2="438" y2="142.4" stroke="#888" stroke-width="0.5" />
<rect x="435" y="141.8" width="1" height="0.8" fill="#aaa"/>
<line x1="436.7" y1="134.5" x2="438" y2="134.5" stroke="#888" stroke-width="0.5" />
<rect x="435" y="133.9" width="1" height="0.8" fill="#aaa"/>
<line x1="436.7" y1="126.6" x2="438" y2="126.6" stroke="#888" stroke-width="0.5" />
<rect x="435" y="126" width="1" height="0.8" fill="#aaa"/>
<line x1="436.7" y1="118.7" x2="438" y2="118.7" stroke="#888" stroke-width="0.5" />
<rect x="435" y="118.1" width="1" height="0.8" fill="#aaa"/>
<line x1="436.7" y1="110.8" x2="438" y2="110.8" stroke="#888" stroke-width="0.5" />
<rect x="435" y="110.2" width="1" height="0.8" fill="#aaa"/>
<rect x="441.5" y="144.8" width="1.4" height="1.1" fill="#aaa"/>
<line x1="442.2" y1="142.4" x2="442.2" y2="143.3" stroke="#777" stroke-width="0.5" />
<rect x="454.28" y="144.8" width="1.4" height="1.1" fill="#aaa"/>
<line x1="454.98" y1="142.4" x2="454.98" y2="143.3" stroke="#777" stroke-width="0.5" />
<rect x="461.98" y="144.8" width="1.4" height="1.1" fill="#aaa"/>
<line x1="462.68" y1="142.4" x2="462.68" y2="143.3" stroke="#777" stroke-width="0.5" />
<rect x="469.68" y="144.8" width="1.4" height="1.1" fill="#aaa"/>
<line x1="470.38" y1="142.4" x2="470.38" y2="143.3" stroke="#777" stroke-width="0.5" />
<line x1="438" y1="142.1" x2="473" y2="142.1" stroke="#fd5aa4" stroke-width="0.6" opacity="0.6"/>
<path d="M459.6,142.2 L459.6,141.26 L459.8,140.74 L460,139.96 L460.2,138.85 L460.4,137.29 L460.6,135.19 L460.8,132.46 L461,129.04 L461.2,124.98 L461.4,120.46 L461.6,115.91 L461.8,112.17 L461.9,111.2 L462,112.17 L462.2,115.91 L462.4,120.46 L462.6,124.98 L462.8,129.04 L463,132.46 L463.2,135.19 L463.4,137.29 L463.6,138.85 L463.8,139.96 L464,140.74 L464.2,141.26 L464.2,142.2 Z" fill="#fd5aa4" stroke="#f0408c" stroke-width="0.25" stroke-linejoin="round"/>
<rect x="478" y="108.8" width="33.3" height="33.6" fill="none" stroke="#cdcdcd" stroke-width="0.7"/>
<line x1="476.7" y1="142.4" x2="478" y2="142.4" stroke="#888" stroke-width="0.5" />
<rect x="475" y="141.8" width="1" height="0.8" fill="#aaa"/>
<line x1="476.7" y1="134.5" x2="478" y2="134.5" stroke="#888" stroke-width="0.5" />
<rect x="475" y="133.9" width="1" height="0.8" fill="#aaa"/>
<line x1="476.7" y1="126.6" x2="478" y2="126.6" stroke="#888" stroke-width="0.5" />
<rect x="475" y="126" width="1" height="0.8" fill="#aaa"/>
<line x1="476.7" y1="118.7" x2="478" y2="118.7" stroke="#888" stroke-width="0.5" />
<rect x="475" y="118.1" width="1" height="0.8" fill="#aaa"/>
<line x1="476.7" y1="110.8" x2="478" y2="110.8" stroke="#888" stroke-width="0.5" />
<rect x="475" y="110.2" width="1" height="0.8" fill="#aaa"/>
<rect x="481.3" y="144.8" width="1.4" height="1.1" fill="#aaa"/>
<line x1="482" y1="142.4" x2="482" y2="143.3" stroke="#777" stroke-width="0.5" />
<rect x="493.45" y="144.8" width="1.4" height="1.1" fill="#aaa"/>
<line x1="494.15" y1="142.4" x2="494.15" y2="143.3" stroke="#777" stroke-width="0.5" />
<rect x="500.78" y="144.8" width="1.4" height="1.1" fill="#aaa"/>
<line x1="501.48" y1="142.4" x2="501.48" y2="143.3" stroke="#777" stroke-width="0.5" />
<rect x="508.1" y="144.8" width="1.4" height="1.1" fill="#aaa"/>
<line x1="508.8" y1="142.4" x2="508.8" y2="143.3" stroke="#777" stroke-width="0.5" />
<line x1="478" y1="142.1" x2="511.3" y2="142.1" stroke="#8af84f" stroke-width="0.6" opacity="0.6"/>
<path d="M500.8,142.2 L500.8,141.29 L501,140.86 L501.2,140.27 L501.4,139.46 L501.6,138.37 L501.8,136.94 L502,135.11 L502.2,132.82 L502.4,130.05 L502.6,126.8 L502.8,123.17 L503,119.35 L503.2,115.67 L503.4,112.74 L503.5,112 L503.6,112.83 L503.8,116.09 L504,120.12 L504.2,124.22 L504.4,128.02 L504.6,131.33 L504.8,134.07 L505,136.26 L505.2,137.96 L505.4,139.23 L505.6,140.16 L505.8,140.82 L506,141.29 L506,142.2 Z" fill="#8af84f" stroke="#70e838" stroke-width="0.25" stroke-linejoin="round"/>
<line x1="490.7" y1="131.2" x2="510" y2="131.2" stroke="#5e5e5e" stroke-width="1.25" />
<circle cx="491.2" cy="131.2" r="0.85" fill="#444"/>
<circle cx="509.5" cy="131.2" r="0.95" fill="#222"/>
<text x="479.6" y="115.1" font-size="7.2" font-weight="bold" fill="#000" text-anchor="start" textLength="23.1" lengthAdjust="spacingAndGlyphs" stroke="#000" stroke-width="0.12">100±0%</text>
<rect x="283.5" y="148" width="34.5" height="33.5" fill="none" stroke="#cdcdcd" stroke-width="0.7"/>
<line x1="282.2" y1="181.5" x2="283.5" y2="181.5" stroke="#888" stroke-width="0.5" />
<rect x="280.5" y="180.9" width="1" height="0.8" fill="#aaa"/>
<line x1="282.2" y1="173.62" x2="283.5" y2="173.62" stroke="#888" stroke-width="0.5" />
<rect x="280.5" y="173.03" width="1" height="0.8" fill="#aaa"/>
<line x1="282.2" y1="165.75" x2="283.5" y2="165.75" stroke="#888" stroke-width="0.5" />
<rect x="280.5" y="165.15" width="1" height="0.8" fill="#aaa"/>
<line x1="282.2" y1="157.88" x2="283.5" y2="157.88" stroke="#888" stroke-width="0.5" />
<rect x="280.5" y="157.28" width="1" height="0.8" fill="#aaa"/>
<line x1="282.2" y1="150" x2="283.5" y2="150" stroke="#888" stroke-width="0.5" />
<rect x="280.5" y="149.4" width="1" height="0.8" fill="#aaa"/>
<rect x="286.94" y="183.9" width="1.4" height="1.1" fill="#aaa"/>
<line x1="287.64" y1="181.5" x2="287.64" y2="182.4" stroke="#777" stroke-width="0.5" />
<rect x="299.53" y="183.9" width="1.4" height="1.1" fill="#aaa"/>
<line x1="300.23" y1="181.5" x2="300.23" y2="182.4" stroke="#777" stroke-width="0.5" />
<rect x="307.12" y="183.9" width="1.4" height="1.1" fill="#aaa"/>
<line x1="307.82" y1="181.5" x2="307.82" y2="182.4" stroke="#777" stroke-width="0.5" />
<rect x="314.71" y="183.9" width="1.4" height="1.1" fill="#aaa"/>
<line x1="315.41" y1="181.5" x2="315.41" y2="182.4" stroke="#777" stroke-width="0.5" />
<line x1="283.5" y1="181.2" x2="318" y2="181.2" stroke="#fd5aa4" stroke-width="0.6" opacity="0.6"/>
<path d="M295,181.3 L295,181.3 L298,180 L300,177 L301.5,170 L302.5,161 L303.2,154.5 L303.7,153.6 L304.4,157 L305.4,169 L306.5,181.3 L306.5,181.3 Z" fill="#fd5aa4" stroke="#f0408c" stroke-width="0.25" stroke-linejoin="round"/>
<rect x="322.6" y="148" width="33.4" height="33.5" fill="none" stroke="#cdcdcd" stroke-width="0.7"/>
<line x1="321.3" y1="181.5" x2="322.6" y2="181.5" stroke="#888" stroke-width="0.5" />
<rect x="319.6" y="180.9" width="1" height="0.8" fill="#aaa"/>
<line x1="321.3" y1="173.62" x2="322.6" y2="173.62" stroke="#888" stroke-width="0.5" />
<rect x="319.6" y="173.03" width="1" height="0.8" fill="#aaa"/>
<line x1="321.3" y1="165.75" x2="322.6" y2="165.75" stroke="#888" stroke-width="0.5" />
<rect x="319.6" y="165.15" width="1" height="0.8" fill="#aaa"/>
<line x1="321.3" y1="157.88" x2="322.6" y2="157.88" stroke="#888" stroke-width="0.5" />
<rect x="319.6" y="157.28" width="1" height="0.8" fill="#aaa"/>
<line x1="321.3" y1="150" x2="322.6" y2="150" stroke="#888" stroke-width="0.5" />
<rect x="319.6" y="149.4" width="1" height="0.8" fill="#aaa"/>
<rect x="325.91" y="183.9" width="1.4" height="1.1" fill="#aaa"/>
<line x1="326.61" y1="181.5" x2="326.61" y2="182.4" stroke="#777" stroke-width="0.5" />
<rect x="338.1" y="183.9" width="1.4" height="1.1" fill="#aaa"/>
<line x1="338.8" y1="181.5" x2="338.8" y2="182.4" stroke="#777" stroke-width="0.5" />
<rect x="345.45" y="183.9" width="1.4" height="1.1" fill="#aaa"/>
<line x1="346.15" y1="181.5" x2="346.15" y2="182.4" stroke="#777" stroke-width="0.5" />
<rect x="352.8" y="183.9" width="1.4" height="1.1" fill="#aaa"/>
<line x1="353.5" y1="181.5" x2="353.5" y2="182.4" stroke="#777" stroke-width="0.5" />
<line x1="322.6" y1="181.2" x2="356" y2="181.2" stroke="#8af84f" stroke-width="0.6" opacity="0.6"/>
<path d="M340.5,181.3 L340.5,181.3 L343,180 L344.5,175.5 L345.5,166 L346.4,156 L347,153.9 L347.8,157.5 L348.6,170 L349.6,181.3 L349.6,181.3 Z" fill="#8af84f" stroke="#70e838" stroke-width="0.25" stroke-linejoin="round"/>
<line x1="333" y1="170.4" x2="354.2" y2="170.4" stroke="#5e5e5e" stroke-width="1.25" />
<circle cx="333.5" cy="170.4" r="0.85" fill="#444"/>
<circle cx="353.7" cy="170.4" r="0.95" fill="#222"/>
<text x="323.4" y="155.4" font-size="7.2" font-weight="bold" fill="#000" text-anchor="start" textLength="32" lengthAdjust="spacingAndGlyphs" stroke="#000" stroke-width="0.12">96.9±1.7%</text>
<rect x="361.5" y="148" width="34.5" height="33.5" fill="none" stroke="#cdcdcd" stroke-width="0.7"/>
<line x1="360.2" y1="181.5" x2="361.5" y2="181.5" stroke="#888" stroke-width="0.5" />
<rect x="358.5" y="180.9" width="1" height="0.8" fill="#aaa"/>
<line x1="360.2" y1="173.62" x2="361.5" y2="173.62" stroke="#888" stroke-width="0.5" />
<rect x="358.5" y="173.03" width="1" height="0.8" fill="#aaa"/>
<line x1="360.2" y1="165.75" x2="361.5" y2="165.75" stroke="#888" stroke-width="0.5" />
<rect x="358.5" y="165.15" width="1" height="0.8" fill="#aaa"/>
<line x1="360.2" y1="157.88" x2="361.5" y2="157.88" stroke="#888" stroke-width="0.5" />
<rect x="358.5" y="157.28" width="1" height="0.8" fill="#aaa"/>
<line x1="360.2" y1="150" x2="361.5" y2="150" stroke="#888" stroke-width="0.5" />
<rect x="358.5" y="149.4" width="1" height="0.8" fill="#aaa"/>
<rect x="364.94" y="183.9" width="1.4" height="1.1" fill="#aaa"/>
<line x1="365.64" y1="181.5" x2="365.64" y2="182.4" stroke="#777" stroke-width="0.5" />
<rect x="377.53" y="183.9" width="1.4" height="1.1" fill="#aaa"/>
<line x1="378.23" y1="181.5" x2="378.23" y2="182.4" stroke="#777" stroke-width="0.5" />
<rect x="385.12" y="183.9" width="1.4" height="1.1" fill="#aaa"/>
<line x1="385.82" y1="181.5" x2="385.82" y2="182.4" stroke="#777" stroke-width="0.5" />
<rect x="392.71" y="183.9" width="1.4" height="1.1" fill="#aaa"/>
<line x1="393.41" y1="181.5" x2="393.41" y2="182.4" stroke="#777" stroke-width="0.5" />
<line x1="361.5" y1="181.2" x2="396" y2="181.2" stroke="#fd5aa4" stroke-width="0.6" opacity="0.6"/>
<path d="M380.8,181.3 L380.8,180.35 L381,180.05 L381.2,179.66 L381.4,179.16 L381.6,178.54 L381.8,177.77 L382,176.82 L382.2,175.67 L382.4,174.29 L382.6,172.67 L382.8,170.78 L383,168.62 L383.2,166.2 L383.4,163.55 L383.6,160.73 L383.8,157.83 L384,155 L384.2,152.43 L384.4,150.48 L384.5,150 L384.6,150.86 L384.8,154.24 L385,158.41 L385.2,162.66 L385.4,166.6 L385.6,170.03 L385.8,172.88 L386,175.15 L386.2,176.9 L386.4,178.22 L386.6,179.18 L386.8,179.87 L387,180.35 L387,181.3 Z" fill="#fd5aa4" stroke="#f0408c" stroke-width="0.25" stroke-linejoin="round"/>
<rect x="400.2" y="148" width="33.8" height="33.5" fill="none" stroke="#cdcdcd" stroke-width="0.7"/>
<line x1="398.9" y1="181.5" x2="400.2" y2="181.5" stroke="#888" stroke-width="0.5" />
<rect x="397.2" y="180.9" width="1" height="0.8" fill="#aaa"/>
<line x1="398.9" y1="173.62" x2="400.2" y2="173.62" stroke="#888" stroke-width="0.5" />
<rect x="397.2" y="173.03" width="1" height="0.8" fill="#aaa"/>
<line x1="398.9" y1="165.75" x2="400.2" y2="165.75" stroke="#888" stroke-width="0.5" />
<rect x="397.2" y="165.15" width="1" height="0.8" fill="#aaa"/>
<line x1="398.9" y1="157.88" x2="400.2" y2="157.88" stroke="#888" stroke-width="0.5" />
<rect x="397.2" y="157.28" width="1" height="0.8" fill="#aaa"/>
<line x1="398.9" y1="150" x2="400.2" y2="150" stroke="#888" stroke-width="0.5" />
<rect x="397.2" y="149.4" width="1" height="0.8" fill="#aaa"/>
<rect x="403.56" y="183.9" width="1.4" height="1.1" fill="#aaa"/>
<line x1="404.26" y1="181.5" x2="404.26" y2="182.4" stroke="#777" stroke-width="0.5" />
<rect x="415.89" y="183.9" width="1.4" height="1.1" fill="#aaa"/>
<line x1="416.59" y1="181.5" x2="416.59" y2="182.4" stroke="#777" stroke-width="0.5" />
<rect x="423.33" y="183.9" width="1.4" height="1.1" fill="#aaa"/>
<line x1="424.03" y1="181.5" x2="424.03" y2="182.4" stroke="#777" stroke-width="0.5" />
<rect x="430.76" y="183.9" width="1.4" height="1.1" fill="#aaa"/>
<line x1="431.46" y1="181.5" x2="431.46" y2="182.4" stroke="#777" stroke-width="0.5" />
<line x1="400.2" y1="181.2" x2="434" y2="181.2" stroke="#8af84f" stroke-width="0.6" opacity="0.6"/>
<path d="M423.4,181.3 L423.4,180.35 L423.6,179.9 L423.8,179.25 L424,178.35 L424.2,177.13 L424.4,175.52 L424.6,173.45 L424.8,170.85 L425,167.72 L425.2,164.08 L425.4,160.07 L425.6,155.96 L425.8,152.25 L426,150 L426.2,152.02 L426.4,155.39 L426.6,159.18 L426.8,162.96 L427,166.47 L427.2,169.58 L427.4,172.22 L427.6,174.4 L427.8,176.15 L428,177.52 L428.2,178.57 L428.4,179.35 L428.6,179.93 L428.8,180.35 L428.8,181.3 Z" fill="#8af84f" stroke="#70e838" stroke-width="0.25" stroke-linejoin="round"/>
<line x1="413" y1="170.4" x2="431.8" y2="170.4" stroke="#5e5e5e" stroke-width="1.25" />
<circle cx="413.5" cy="170.4" r="0.85" fill="#444"/>
<circle cx="431.3" cy="170.4" r="0.95" fill="#222"/>
<text x="405" y="155.4" font-size="7.2" font-weight="bold" fill="#000" text-anchor="start" textLength="24" lengthAdjust="spacingAndGlyphs" stroke="#000" stroke-width="0.12">100±0%</text>
<rect x="438" y="148" width="35" height="33.5" fill="none" stroke="#cdcdcd" stroke-width="0.7"/>
<line x1="436.7" y1="181.5" x2="438" y2="181.5" stroke="#888" stroke-width="0.5" />
<rect x="435" y="180.9" width="1" height="0.8" fill="#aaa"/>
<line x1="436.7" y1="173.62" x2="438" y2="173.62" stroke="#888" stroke-width="0.5" />
<rect x="435" y="173.03" width="1" height="0.8" fill="#aaa"/>
<line x1="436.7" y1="165.75" x2="438" y2="165.75" stroke="#888" stroke-width="0.5" />
<rect x="435" y="165.15" width="1" height="0.8" fill="#aaa"/>
<line x1="436.7" y1="157.88" x2="438" y2="157.88" stroke="#888" stroke-width="0.5" />
<rect x="435" y="157.28" width="1" height="0.8" fill="#aaa"/>
<line x1="436.7" y1="150" x2="438" y2="150" stroke="#888" stroke-width="0.5" />
<rect x="435" y="149.4" width="1" height="0.8" fill="#aaa"/>
<rect x="441.5" y="183.9" width="1.4" height="1.1" fill="#aaa"/>
<line x1="442.2" y1="181.5" x2="442.2" y2="182.4" stroke="#777" stroke-width="0.5" />
<rect x="454.28" y="183.9" width="1.4" height="1.1" fill="#aaa"/>
<line x1="454.98" y1="181.5" x2="454.98" y2="182.4" stroke="#777" stroke-width="0.5" />
<rect x="461.98" y="183.9" width="1.4" height="1.1" fill="#aaa"/>
<line x1="462.68" y1="181.5" x2="462.68" y2="182.4" stroke="#777" stroke-width="0.5" />
<rect x="469.68" y="183.9" width="1.4" height="1.1" fill="#aaa"/>
<line x1="470.38" y1="181.5" x2="470.38" y2="182.4" stroke="#777" stroke-width="0.5" />
<line x1="438" y1="181.2" x2="473" y2="181.2" stroke="#fd5aa4" stroke-width="0.6" opacity="0.6"/>
<path d="M460.8,181.3 L460.8,180.38 L461,179.88 L461.2,179.17 L461.4,178.15 L461.6,176.75 L461.8,174.87 L462,172.42 L462.2,169.36 L462.4,165.7 L462.6,161.54 L462.8,157.18 L463,153.17 L463.2,150.7 L463.4,153.33 L463.6,157.56 L463.8,162.1 L464,166.38 L464.2,170.08 L464.4,173.12 L464.6,175.49 L464.8,177.28 L465,178.59 L465.2,179.51 L465.4,180.14 L465.4,181.3 Z" fill="#fd5aa4" stroke="#f0408c" stroke-width="0.25" stroke-linejoin="round"/>
<rect x="478" y="148" width="33.3" height="33.5" fill="none" stroke="#cdcdcd" stroke-width="0.7"/>
<line x1="476.7" y1="181.5" x2="478" y2="181.5" stroke="#888" stroke-width="0.5" />
<rect x="475" y="180.9" width="1" height="0.8" fill="#aaa"/>
<line x1="476.7" y1="173.62" x2="478" y2="173.62" stroke="#888" stroke-width="0.5" />
<rect x="475" y="173.03" width="1" height="0.8" fill="#aaa"/>
<line x1="476.7" y1="165.75" x2="478" y2="165.75" stroke="#888" stroke-width="0.5" />
<rect x="475" y="165.15" width="1" height="0.8" fill="#aaa"/>
<line x1="476.7" y1="157.88" x2="478" y2="157.88" stroke="#888" stroke-width="0.5" />
<rect x="475" y="157.28" width="1" height="0.8" fill="#aaa"/>
<line x1="476.7" y1="150" x2="478" y2="150" stroke="#888" stroke-width="0.5" />
<rect x="475" y="149.4" width="1" height="0.8" fill="#aaa"/>
<rect x="481.3" y="183.9" width="1.4" height="1.1" fill="#aaa"/>
<line x1="482" y1="181.5" x2="482" y2="182.4" stroke="#777" stroke-width="0.5" />
<rect x="493.45" y="183.9" width="1.4" height="1.1" fill="#aaa"/>
<line x1="494.15" y1="181.5" x2="494.15" y2="182.4" stroke="#777" stroke-width="0.5" />
<rect x="500.78" y="183.9" width="1.4" height="1.1" fill="#aaa"/>
<line x1="501.48" y1="181.5" x2="501.48" y2="182.4" stroke="#777" stroke-width="0.5" />
<rect x="508.1" y="183.9" width="1.4" height="1.1" fill="#aaa"/>
<line x1="508.8" y1="181.5" x2="508.8" y2="182.4" stroke="#777" stroke-width="0.5" />
<line x1="478" y1="181.2" x2="511.3" y2="181.2" stroke="#8af84f" stroke-width="0.6" opacity="0.6"/>
<path d="M502.4,181.3 L502.4,180.38 L502.6,179.79 L502.8,178.91 L503,177.6 L503.2,175.74 L503.4,173.18 L503.6,169.84 L503.8,165.7 L504,160.92 L504.2,155.97 L504.4,151.79 L504.5,150.7 L504.6,151.54 L504.8,154.84 L505,158.92 L505.2,163.08 L505.4,166.93 L505.6,170.28 L505.8,173.06 L506,175.28 L506.2,177 L506.4,178.29 L506.6,179.23 L506.8,179.91 L507,180.38 L507,181.3 Z" fill="#8af84f" stroke="#70e838" stroke-width="0.25" stroke-linejoin="round"/>
<line x1="490.7" y1="171" x2="510" y2="171" stroke="#5e5e5e" stroke-width="1.25" />
<circle cx="491.2" cy="171" r="0.85" fill="#444"/>
<circle cx="509.5" cy="171" r="0.95" fill="#222"/>
<text x="479.6" y="155.4" font-size="7.2" font-weight="bold" fill="#000" text-anchor="start" textLength="23.4" lengthAdjust="spacingAndGlyphs" stroke="#000" stroke-width="0.12">100±0%</text>
<rect x="283.5" y="211.2" width="35.5" height="33.5" fill="none" stroke="#cdcdcd" stroke-width="0.7"/>
<line x1="282.2" y1="244.7" x2="283.5" y2="244.7" stroke="#888" stroke-width="0.5" />
<rect x="280.5" y="244.1" width="1" height="0.8" fill="#aaa"/>
<line x1="282.2" y1="236.82" x2="283.5" y2="236.82" stroke="#888" stroke-width="0.5" />
<rect x="280.5" y="236.22" width="1" height="0.8" fill="#aaa"/>
<line x1="282.2" y1="228.95" x2="283.5" y2="228.95" stroke="#888" stroke-width="0.5" />
<rect x="280.5" y="228.35" width="1" height="0.8" fill="#aaa"/>
<line x1="282.2" y1="221.07" x2="283.5" y2="221.07" stroke="#888" stroke-width="0.5" />
<rect x="280.5" y="220.47" width="1" height="0.8" fill="#aaa"/>
<line x1="282.2" y1="213.2" x2="283.5" y2="213.2" stroke="#888" stroke-width="0.5" />
<rect x="280.5" y="212.6" width="1" height="0.8" fill="#aaa"/>
<rect x="287.06" y="247.1" width="1.4" height="1.1" fill="#aaa"/>
<line x1="287.76" y1="244.7" x2="287.76" y2="245.6" stroke="#777" stroke-width="0.5" />
<rect x="300.02" y="247.1" width="1.4" height="1.1" fill="#aaa"/>
<line x1="300.72" y1="244.7" x2="300.72" y2="245.6" stroke="#777" stroke-width="0.5" />
<rect x="307.83" y="247.1" width="1.4" height="1.1" fill="#aaa"/>
<line x1="308.53" y1="244.7" x2="308.53" y2="245.6" stroke="#777" stroke-width="0.5" />
<rect x="315.64" y="247.1" width="1.4" height="1.1" fill="#aaa"/>
<line x1="316.34" y1="244.7" x2="316.34" y2="245.6" stroke="#777" stroke-width="0.5" />
<line x1="283.5" y1="244.4" x2="319" y2="244.4" stroke="#fd5aa4" stroke-width="0.6" opacity="0.6"/>
<path d="M288,244.5 L288,243.55 L288.2,242.91 L288.4,241.93 L288.6,240.44 L288.8,238.31 L289,235.36 L289.2,231.51 L289.4,226.78 L289.6,221.47 L289.8,216.3 L290,213 L290.2,215.88 L290.4,220.49 L290.6,225.37 L290.8,229.88 L291,233.72 L291.2,236.81 L291.4,239.17 L291.6,240.91 L291.8,242.14 L292,242.98 L292.2,243.55 L292.2,244.5 Z" fill="#fd5aa4" stroke="#f0408c" stroke-width="0.25" stroke-linejoin="round"/>
<rect x="324.3" y="211.2" width="32.7" height="33.5" fill="none" stroke="#cdcdcd" stroke-width="0.7"/>
<line x1="323" y1="244.7" x2="324.3" y2="244.7" stroke="#888" stroke-width="0.5" />
<rect x="321.3" y="244.1" width="1" height="0.8" fill="#aaa"/>
<line x1="323" y1="236.82" x2="324.3" y2="236.82" stroke="#888" stroke-width="0.5" />
<rect x="321.3" y="236.22" width="1" height="0.8" fill="#aaa"/>
<line x1="323" y1="228.95" x2="324.3" y2="228.95" stroke="#888" stroke-width="0.5" />
<rect x="321.3" y="228.35" width="1" height="0.8" fill="#aaa"/>
<line x1="323" y1="221.07" x2="324.3" y2="221.07" stroke="#888" stroke-width="0.5" />
<rect x="321.3" y="220.47" width="1" height="0.8" fill="#aaa"/>
<line x1="323" y1="213.2" x2="324.3" y2="213.2" stroke="#888" stroke-width="0.5" />
<rect x="321.3" y="212.6" width="1" height="0.8" fill="#aaa"/>
<rect x="327.52" y="247.1" width="1.4" height="1.1" fill="#aaa"/>
<line x1="328.22" y1="244.7" x2="328.22" y2="245.6" stroke="#777" stroke-width="0.5" />
<rect x="339.46" y="247.1" width="1.4" height="1.1" fill="#aaa"/>
<line x1="340.16" y1="244.7" x2="340.16" y2="245.6" stroke="#777" stroke-width="0.5" />
<rect x="346.65" y="247.1" width="1.4" height="1.1" fill="#aaa"/>
<line x1="347.35" y1="244.7" x2="347.35" y2="245.6" stroke="#777" stroke-width="0.5" />
<rect x="353.85" y="247.1" width="1.4" height="1.1" fill="#aaa"/>
<line x1="354.55" y1="244.7" x2="354.55" y2="245.6" stroke="#777" stroke-width="0.5" />
<line x1="324.3" y1="244.4" x2="357" y2="244.4" stroke="#8af84f" stroke-width="0.6" opacity="0.6"/>
<path d="M326.2,244.5 L326.2,243.55 L326.4,242.63 L326.6,241 L326.8,238.31 L327,234.18 L327.2,228.44 L327.4,221.47 L327.6,214.84 L327.7,213 L327.8,214.3 L328,219.21 L328.2,224.86 L328.4,230.1 L328.6,234.44 L328.8,237.76 L329,240.15 L329.2,241.8 L329.4,242.87 L329.6,243.55 L329.6,244.5 Z" fill="#8af84f" stroke="#70e838" stroke-width="0.25" stroke-linejoin="round"/>
<line x1="333" y1="235.8" x2="355" y2="235.8" stroke="#7a7a7a" stroke-width="1.8" />
<circle cx="333.5" cy="235.8" r="0.85" fill="#444"/>
<circle cx="354.5" cy="235.8" r="0.95" fill="#222"/>
<rect x="361.8" y="211.2" width="34.2" height="33.5" fill="none" stroke="#cdcdcd" stroke-width="0.7"/>
<line x1="360.5" y1="244.7" x2="361.8" y2="244.7" stroke="#888" stroke-width="0.5" />
<rect x="358.8" y="244.1" width="1" height="0.8" fill="#aaa"/>
<line x1="360.5" y1="236.82" x2="361.8" y2="236.82" stroke="#888" stroke-width="0.5" />
<rect x="358.8" y="236.22" width="1" height="0.8" fill="#aaa"/>
<line x1="360.5" y1="228.95" x2="361.8" y2="228.95" stroke="#888" stroke-width="0.5" />
<rect x="358.8" y="228.35" width="1" height="0.8" fill="#aaa"/>
<line x1="360.5" y1="221.07" x2="361.8" y2="221.07" stroke="#888" stroke-width="0.5" />
<rect x="358.8" y="220.47" width="1" height="0.8" fill="#aaa"/>
<line x1="360.5" y1="213.2" x2="361.8" y2="213.2" stroke="#888" stroke-width="0.5" />
<rect x="358.8" y="212.6" width="1" height="0.8" fill="#aaa"/>
<rect x="365.2" y="247.1" width="1.4" height="1.1" fill="#aaa"/>
<line x1="365.9" y1="244.7" x2="365.9" y2="245.6" stroke="#777" stroke-width="0.5" />
<rect x="377.69" y="247.1" width="1.4" height="1.1" fill="#aaa"/>
<line x1="378.39" y1="244.7" x2="378.39" y2="245.6" stroke="#777" stroke-width="0.5" />
<rect x="385.21" y="247.1" width="1.4" height="1.1" fill="#aaa"/>
<line x1="385.91" y1="244.7" x2="385.91" y2="245.6" stroke="#777" stroke-width="0.5" />
<rect x="392.74" y="247.1" width="1.4" height="1.1" fill="#aaa"/>
<line x1="393.44" y1="244.7" x2="393.44" y2="245.6" stroke="#777" stroke-width="0.5" />
<line x1="361.8" y1="244.4" x2="396" y2="244.4" stroke="#fd5aa4" stroke-width="0.6" opacity="0.6"/>
<path d="M365,244.5 L365,243.59 L365.2,243.12 L365.4,242.45 L365.6,241.52 L365.8,240.24 L366,238.54 L366.2,236.34 L366.4,233.59 L366.6,230.27 L366.8,226.46 L367,222.34 L367.2,218.3 L367.4,215.04 L367.5,214.2 L367.6,214.91 L367.8,217.7 L368,221.23 L368.2,224.94 L368.4,228.49 L368.6,231.7 L368.8,234.49 L369,236.82 L369.2,238.71 L369.4,240.22 L369.6,241.38 L369.8,242.26 L370,242.92 L370.2,243.4 L370.2,244.5 Z" fill="#fd5aa4" stroke="#f0408c" stroke-width="0.25" stroke-linejoin="round"/>
<rect x="401.5" y="211.2" width="33.5" height="33.5" fill="none" stroke="#cdcdcd" stroke-width="0.7"/>
<line x1="400.2" y1="244.7" x2="401.5" y2="244.7" stroke="#888" stroke-width="0.5" />
<rect x="398.5" y="244.1" width="1" height="0.8" fill="#aaa"/>
<line x1="400.2" y1="236.82" x2="401.5" y2="236.82" stroke="#888" stroke-width="0.5" />
<rect x="398.5" y="236.22" width="1" height="0.8" fill="#aaa"/>
<line x1="400.2" y1="228.95" x2="401.5" y2="228.95" stroke="#888" stroke-width="0.5" />
<rect x="398.5" y="228.35" width="1" height="0.8" fill="#aaa"/>
<line x1="400.2" y1="221.07" x2="401.5" y2="221.07" stroke="#888" stroke-width="0.5" />
<rect x="398.5" y="220.47" width="1" height="0.8" fill="#aaa"/>
<line x1="400.2" y1="213.2" x2="401.5" y2="213.2" stroke="#888" stroke-width="0.5" />
<rect x="398.5" y="212.6" width="1" height="0.8" fill="#aaa"/>
<rect x="404.82" y="247.1" width="1.4" height="1.1" fill="#aaa"/>
<line x1="405.52" y1="244.7" x2="405.52" y2="245.6" stroke="#777" stroke-width="0.5" />
<rect x="417.05" y="247.1" width="1.4" height="1.1" fill="#aaa"/>
<line x1="417.75" y1="244.7" x2="417.75" y2="245.6" stroke="#777" stroke-width="0.5" />
<rect x="424.42" y="247.1" width="1.4" height="1.1" fill="#aaa"/>
<line x1="425.12" y1="244.7" x2="425.12" y2="245.6" stroke="#777" stroke-width="0.5" />
<rect x="431.79" y="247.1" width="1.4" height="1.1" fill="#aaa"/>
<line x1="432.49" y1="244.7" x2="432.49" y2="245.6" stroke="#777" stroke-width="0.5" />
<line x1="401.5" y1="244.4" x2="435" y2="244.4" stroke="#8af84f" stroke-width="0.6" opacity="0.6"/>
<path d="M403.4,244.5 L403.4,243.61 L403.6,243.01 L403.8,242.09 L404,240.7 L404.2,238.7 L404.4,235.94 L404.6,232.33 L404.8,227.9 L405,222.93 L405.2,218.09 L405.4,215 L405.6,217.7 L405.8,222.01 L406,226.58 L406.2,230.81 L406.4,234.41 L406.6,237.3 L406.8,239.51 L407,241.13 L407.2,242.29 L407.4,243.08 L407.6,243.61 L407.6,244.5 Z" fill="#8af84f" stroke="#70e838" stroke-width="0.25" stroke-linejoin="round"/>
<line x1="411" y1="235" x2="431.8" y2="235" stroke="#7a7a7a" stroke-width="1.8" />
<circle cx="411.5" cy="235" r="0.85" fill="#444"/>
<circle cx="431.3" cy="235" r="0.95" fill="#222"/>
<rect x="439" y="211.2" width="34" height="33.5" fill="none" stroke="#cdcdcd" stroke-width="0.7"/>
<line x1="437.7" y1="244.7" x2="439" y2="244.7" stroke="#888" stroke-width="0.5" />
<rect x="436" y="244.1" width="1" height="0.8" fill="#aaa"/>
<line x1="437.7" y1="236.82" x2="439" y2="236.82" stroke="#888" stroke-width="0.5" />
<rect x="436" y="236.22" width="1" height="0.8" fill="#aaa"/>
<line x1="437.7" y1="228.95" x2="439" y2="228.95" stroke="#888" stroke-width="0.5" />
<rect x="436" y="228.35" width="1" height="0.8" fill="#aaa"/>
<line x1="437.7" y1="221.07" x2="439" y2="221.07" stroke="#888" stroke-width="0.5" />
<rect x="436" y="220.47" width="1" height="0.8" fill="#aaa"/>
<line x1="437.7" y1="213.2" x2="439" y2="213.2" stroke="#888" stroke-width="0.5" />
<rect x="436" y="212.6" width="1" height="0.8" fill="#aaa"/>
<rect x="442.38" y="247.1" width="1.4" height="1.1" fill="#aaa"/>
<line x1="443.08" y1="244.7" x2="443.08" y2="245.6" stroke="#777" stroke-width="0.5" />
<rect x="454.79" y="247.1" width="1.4" height="1.1" fill="#aaa"/>
<line x1="455.49" y1="244.7" x2="455.49" y2="245.6" stroke="#777" stroke-width="0.5" />
<rect x="462.27" y="247.1" width="1.4" height="1.1" fill="#aaa"/>
<line x1="462.97" y1="244.7" x2="462.97" y2="245.6" stroke="#777" stroke-width="0.5" />
<rect x="469.75" y="247.1" width="1.4" height="1.1" fill="#aaa"/>
<line x1="470.45" y1="244.7" x2="470.45" y2="245.6" stroke="#777" stroke-width="0.5" />
<line x1="439" y1="244.4" x2="473" y2="244.4" stroke="#fd5aa4" stroke-width="0.6" opacity="0.6"/>
<path d="M441,244.5 L441,244.5 L443,225 L444.5,216 L445.3,214.2 L446,214.5 L447,218 L448.5,228 L450.5,238 L452.7,244.5 L452.7,244.5 Z" fill="#fd5aa4" stroke="#f0408c" stroke-width="0.25" stroke-linejoin="round"/>
<rect x="478.5" y="211.2" width="33.5" height="33.5" fill="none" stroke="#cdcdcd" stroke-width="0.7"/>
<line x1="477.2" y1="244.7" x2="478.5" y2="244.7" stroke="#888" stroke-width="0.5" />
<rect x="475.5" y="244.1" width="1" height="0.8" fill="#aaa"/>
<line x1="477.2" y1="236.82" x2="478.5" y2="236.82" stroke="#888" stroke-width="0.5" />
<rect x="475.5" y="236.22" width="1" height="0.8" fill="#aaa"/>
<line x1="477.2" y1="228.95" x2="478.5" y2="228.95" stroke="#888" stroke-width="0.5" />
<rect x="475.5" y="228.35" width="1" height="0.8" fill="#aaa"/>
<line x1="477.2" y1="221.07" x2="478.5" y2="221.07" stroke="#888" stroke-width="0.5" />
<rect x="475.5" y="220.47" width="1" height="0.8" fill="#aaa"/>
<line x1="477.2" y1="213.2" x2="478.5" y2="213.2" stroke="#888" stroke-width="0.5" />
<rect x="475.5" y="212.6" width="1" height="0.8" fill="#aaa"/>
<rect x="481.82" y="247.1" width="1.4" height="1.1" fill="#aaa"/>
<line x1="482.52" y1="244.7" x2="482.52" y2="245.6" stroke="#777" stroke-width="0.5" />
<rect x="494.05" y="247.1" width="1.4" height="1.1" fill="#aaa"/>
<line x1="494.75" y1="244.7" x2="494.75" y2="245.6" stroke="#777" stroke-width="0.5" />
<rect x="501.42" y="247.1" width="1.4" height="1.1" fill="#aaa"/>
<line x1="502.12" y1="244.7" x2="502.12" y2="245.6" stroke="#777" stroke-width="0.5" />
<rect x="508.79" y="247.1" width="1.4" height="1.1" fill="#aaa"/>
<line x1="509.49" y1="244.7" x2="509.49" y2="245.6" stroke="#777" stroke-width="0.5" />
<line x1="478.5" y1="244.4" x2="512" y2="244.4" stroke="#8af84f" stroke-width="0.6" opacity="0.6"/>
<path d="M480.8,244.5 L480.8,244.5 L481.8,225 L482.5,213.2 L483,213.5 L483.8,222 L485,235 L486.5,244.5 L486.5,244.5 Z" fill="#8af84f" stroke="#70e838" stroke-width="0.25" stroke-linejoin="round"/>
<line x1="490.7" y1="235.5" x2="509.3" y2="235.5" stroke="#7a7a7a" stroke-width="1.8" />
<circle cx="491.2" cy="235.5" r="0.85" fill="#444"/>
<circle cx="508.8" cy="235.5" r="0.95" fill="#222"/>
<rect x="283.5" y="249.3" width="35.5" height="33.9" fill="none" stroke="#cdcdcd" stroke-width="0.7"/>
<line x1="282.2" y1="283.2" x2="283.5" y2="283.2" stroke="#888" stroke-width="0.5" />
<rect x="280.5" y="282.6" width="1" height="0.8" fill="#aaa"/>
<line x1="282.2" y1="275.23" x2="283.5" y2="275.23" stroke="#888" stroke-width="0.5" />
<rect x="280.5" y="274.62" width="1" height="0.8" fill="#aaa"/>
<line x1="282.2" y1="267.25" x2="283.5" y2="267.25" stroke="#888" stroke-width="0.5" />
<rect x="280.5" y="266.65" width="1" height="0.8" fill="#aaa"/>
<line x1="282.2" y1="259.27" x2="283.5" y2="259.27" stroke="#888" stroke-width="0.5" />
<rect x="280.5" y="258.67" width="1" height="0.8" fill="#aaa"/>
<line x1="282.2" y1="251.3" x2="283.5" y2="251.3" stroke="#888" stroke-width="0.5" />
<rect x="280.5" y="250.7" width="1" height="0.8" fill="#aaa"/>
<rect x="287.06" y="285.6" width="1.4" height="1.1" fill="#aaa"/>
<line x1="287.76" y1="283.2" x2="287.76" y2="284.1" stroke="#777" stroke-width="0.5" />
<rect x="300.02" y="285.6" width="1.4" height="1.1" fill="#aaa"/>
<line x1="300.72" y1="283.2" x2="300.72" y2="284.1" stroke="#777" stroke-width="0.5" />
<rect x="307.83" y="285.6" width="1.4" height="1.1" fill="#aaa"/>
<line x1="308.53" y1="283.2" x2="308.53" y2="284.1" stroke="#777" stroke-width="0.5" />
<rect x="315.64" y="285.6" width="1.4" height="1.1" fill="#aaa"/>
<line x1="316.34" y1="283.2" x2="316.34" y2="284.1" stroke="#777" stroke-width="0.5" />
<line x1="283.5" y1="282.9" x2="319" y2="282.9" stroke="#fd5aa4" stroke-width="0.6" opacity="0.6"/>
<path d="M288,283 L288,282.76 L288.2,282.6 L288.4,282.35 L288.6,281.97 L288.8,281.43 L289,280.68 L289.2,279.7 L289.4,278.5 L289.6,277.15 L289.8,275.84 L290,275 L290.2,275.47 L290.4,276.25 L290.6,277.15 L290.8,278.06 L291,278.92 L291.2,279.7 L291.4,280.38 L291.6,280.95 L291.8,281.43 L292,281.81 L292.2,282.11 L292.4,282.35 L292.6,282.52 L292.8,282.66 L293,282.76 L293,283 Z" fill="#fd5aa4" stroke="#f0408c" stroke-width="0.25" stroke-linejoin="round"/>
<path d="M293,283 L293,283 L298,282 L300,278 L302,270 L303,260 L304,252.2 L304.6,252.4 L305.5,262 L307,283 L307,283 Z" fill="#fd5aa4" stroke="#f0408c" stroke-width="0.25" stroke-linejoin="round"/>
<rect x="324.3" y="249.3" width="32.7" height="33.9" fill="none" stroke="#cdcdcd" stroke-width="0.7"/>
<line x1="323" y1="283.2" x2="324.3" y2="283.2" stroke="#888" stroke-width="0.5" />
<rect x="321.3" y="282.6" width="1" height="0.8" fill="#aaa"/>
<line x1="323" y1="275.23" x2="324.3" y2="275.23" stroke="#888" stroke-width="0.5" />
<rect x="321.3" y="274.62" width="1" height="0.8" fill="#aaa"/>
<line x1="323" y1="267.25" x2="324.3" y2="267.25" stroke="#888" stroke-width="0.5" />
<rect x="321.3" y="266.65" width="1" height="0.8" fill="#aaa"/>
<line x1="323" y1="259.27" x2="324.3" y2="259.27" stroke="#888" stroke-width="0.5" />
<rect x="321.3" y="258.67" width="1" height="0.8" fill="#aaa"/>
<line x1="323" y1="251.3" x2="324.3" y2="251.3" stroke="#888" stroke-width="0.5" />
<rect x="321.3" y="250.7" width="1" height="0.8" fill="#aaa"/>
<rect x="327.52" y="285.6" width="1.4" height="1.1" fill="#aaa"/>
<line x1="328.22" y1="283.2" x2="328.22" y2="284.1" stroke="#777" stroke-width="0.5" />
<rect x="339.46" y="285.6" width="1.4" height="1.1" fill="#aaa"/>
<line x1="340.16" y1="283.2" x2="340.16" y2="284.1" stroke="#777" stroke-width="0.5" />
<rect x="346.65" y="285.6" width="1.4" height="1.1" fill="#aaa"/>
<line x1="347.35" y1="283.2" x2="347.35" y2="284.1" stroke="#777" stroke-width="0.5" />
<rect x="353.85" y="285.6" width="1.4" height="1.1" fill="#aaa"/>
<line x1="354.55" y1="283.2" x2="354.55" y2="284.1" stroke="#777" stroke-width="0.5" />
<line x1="324.3" y1="282.9" x2="357" y2="282.9" stroke="#8af84f" stroke-width="0.6" opacity="0.6"/>
<path d="M326,283 L326,283 L327.5,265 L328.3,252.2 L328.8,252.4 L329.5,260 L331,275 L332.3,283 L332.3,283 Z" fill="#8af84f" stroke="#70e838" stroke-width="0.25" stroke-linejoin="round"/>
<line x1="333" y1="275" x2="355" y2="275" stroke="#7a7a7a" stroke-width="1.8" />
<circle cx="333.5" cy="275" r="0.85" fill="#444"/>
<circle cx="354.5" cy="275" r="0.95" fill="#222"/>
<rect x="361.8" y="249.3" width="34.2" height="33.9" fill="none" stroke="#cdcdcd" stroke-width="0.7"/>
<line x1="360.5" y1="283.2" x2="361.8" y2="283.2" stroke="#888" stroke-width="0.5" />
<rect x="358.8" y="282.6" width="1" height="0.8" fill="#aaa"/>
<line x1="360.5" y1="275.23" x2="361.8" y2="275.23" stroke="#888" stroke-width="0.5" />
<rect x="358.8" y="274.62" width="1" height="0.8" fill="#aaa"/>
<line x1="360.5" y1="267.25" x2="361.8" y2="267.25" stroke="#888" stroke-width="0.5" />
<rect x="358.8" y="266.65" width="1" height="0.8" fill="#aaa"/>
<line x1="360.5" y1="259.27" x2="361.8" y2="259.27" stroke="#888" stroke-width="0.5" />
<rect x="358.8" y="258.67" width="1" height="0.8" fill="#aaa"/>
<line x1="360.5" y1="251.3" x2="361.8" y2="251.3" stroke="#888" stroke-width="0.5" />
<rect x="358.8" y="250.7" width="1" height="0.8" fill="#aaa"/>
<rect x="365.2" y="285.6" width="1.4" height="1.1" fill="#aaa"/>
<line x1="365.9" y1="283.2" x2="365.9" y2="284.1" stroke="#777" stroke-width="0.5" />
<rect x="377.69" y="285.6" width="1.4" height="1.1" fill="#aaa"/>
<line x1="378.39" y1="283.2" x2="378.39" y2="284.1" stroke="#777" stroke-width="0.5" />
<rect x="385.21" y="285.6" width="1.4" height="1.1" fill="#aaa"/>
<line x1="385.91" y1="283.2" x2="385.91" y2="284.1" stroke="#777" stroke-width="0.5" />
<rect x="392.74" y="285.6" width="1.4" height="1.1" fill="#aaa"/>
<line x1="393.44" y1="283.2" x2="393.44" y2="284.1" stroke="#777" stroke-width="0.5" />
<line x1="361.8" y1="282.9" x2="396" y2="282.9" stroke="#fd5aa4" stroke-width="0.6" opacity="0.6"/>
<path d="M365,283 L365,282.93 L365.2,282.9 L365.4,282.84 L365.6,282.77 L365.8,282.68 L366,282.55 L366.2,282.38 L366.4,282.17 L366.6,281.92 L366.8,281.63 L367,281.32 L367.2,281.01 L367.4,280.76 L367.5,280.7 L367.6,280.76 L367.8,281.01 L368,281.32 L368.2,281.63 L368.4,281.92 L368.6,282.17 L368.8,282.38 L369,282.55 L369.2,282.68 L369.4,282.77 L369.6,282.84 L369.8,282.9 L370,282.93 L370,283 Z" fill="#fd5aa4" stroke="#f0408c" stroke-width="0.25" stroke-linejoin="round"/>
<path d="M381,283 L381,282.12 L381.2,281.66 L381.4,280.98 L381.6,280.01 L381.8,278.68 L382,276.9 L382.2,274.59 L382.4,271.69 L382.6,268.21 L382.8,264.28 L383,260.15 L383.2,256.34 L383.4,254 L383.6,256.49 L383.8,260.5 L384,264.81 L384.2,268.86 L384.4,272.37 L384.6,275.25 L384.8,277.5 L385,279.19 L385.2,280.43 L385.4,281.3 L385.6,281.9 L385.6,283 Z" fill="#fd5aa4" stroke="#f0408c" stroke-width="0.25" stroke-linejoin="round"/>
<rect x="401.5" y="249.3" width="33.5" height="33.9" fill="none" stroke="#cdcdcd" stroke-width="0.7"/>
<line x1="400.2" y1="283.2" x2="401.5" y2="283.2" stroke="#888" stroke-width="0.5" />
<rect x="398.5" y="282.6" width="1" height="0.8" fill="#aaa"/>
<line x1="400.2" y1="275.23" x2="401.5" y2="275.23" stroke="#888" stroke-width="0.5" />
<rect x="398.5" y="274.62" width="1" height="0.8" fill="#aaa"/>
<line x1="400.2" y1="267.25" x2="401.5" y2="267.25" stroke="#888" stroke-width="0.5" />
<rect x="398.5" y="266.65" width="1" height="0.8" fill="#aaa"/>
<line x1="400.2" y1="259.27" x2="401.5" y2="259.27" stroke="#888" stroke-width="0.5" />
<rect x="398.5" y="258.67" width="1" height="0.8" fill="#aaa"/>
<line x1="400.2" y1="251.3" x2="401.5" y2="251.3" stroke="#888" stroke-width="0.5" />
<rect x="398.5" y="250.7" width="1" height="0.8" fill="#aaa"/>
<rect x="404.82" y="285.6" width="1.4" height="1.1" fill="#aaa"/>
<line x1="405.52" y1="283.2" x2="405.52" y2="284.1" stroke="#777" stroke-width="0.5" />
<rect x="417.05" y="285.6" width="1.4" height="1.1" fill="#aaa"/>
<line x1="417.75" y1="283.2" x2="417.75" y2="284.1" stroke="#777" stroke-width="0.5" />
<rect x="424.42" y="285.6" width="1.4" height="1.1" fill="#aaa"/>
<line x1="425.12" y1="283.2" x2="425.12" y2="284.1" stroke="#777" stroke-width="0.5" />
<rect x="431.79" y="285.6" width="1.4" height="1.1" fill="#aaa"/>
<line x1="432.49" y1="283.2" x2="432.49" y2="284.1" stroke="#777" stroke-width="0.5" />
<line x1="401.5" y1="282.9" x2="435" y2="282.9" stroke="#8af84f" stroke-width="0.6" opacity="0.6"/>
<path d="M404,283 L404,283 L405,265 L405.8,254.3 L406.3,254.5 L407,262 L408.5,272 L410,278 L411,283 L411,283 Z" fill="#8af84f" stroke="#70e838" stroke-width="0.25" stroke-linejoin="round"/>
<line x1="411" y1="274" x2="431.8" y2="274" stroke="#7a7a7a" stroke-width="1.8" />
<circle cx="411.5" cy="274" r="0.85" fill="#444"/>
<circle cx="431.3" cy="274" r="0.95" fill="#222"/>
<rect x="439" y="249.3" width="34" height="33.9" fill="none" stroke="#cdcdcd" stroke-width="0.7"/>
<line x1="437.7" y1="283.2" x2="439" y2="283.2" stroke="#888" stroke-width="0.5" />
<rect x="436" y="282.6" width="1" height="0.8" fill="#aaa"/>
<line x1="437.7" y1="275.23" x2="439" y2="275.23" stroke="#888" stroke-width="0.5" />
<rect x="436" y="274.62" width="1" height="0.8" fill="#aaa"/>
<line x1="437.7" y1="267.25" x2="439" y2="267.25" stroke="#888" stroke-width="0.5" />
<rect x="436" y="266.65" width="1" height="0.8" fill="#aaa"/>
<line x1="437.7" y1="259.27" x2="439" y2="259.27" stroke="#888" stroke-width="0.5" />
<rect x="436" y="258.67" width="1" height="0.8" fill="#aaa"/>
<line x1="437.7" y1="251.3" x2="439" y2="251.3" stroke="#888" stroke-width="0.5" />
<rect x="436" y="250.7" width="1" height="0.8" fill="#aaa"/>
<rect x="442.38" y="285.6" width="1.4" height="1.1" fill="#aaa"/>
<line x1="443.08" y1="283.2" x2="443.08" y2="284.1" stroke="#777" stroke-width="0.5" />
<rect x="454.79" y="285.6" width="1.4" height="1.1" fill="#aaa"/>
<line x1="455.49" y1="283.2" x2="455.49" y2="284.1" stroke="#777" stroke-width="0.5" />
<rect x="462.27" y="285.6" width="1.4" height="1.1" fill="#aaa"/>
<line x1="462.97" y1="283.2" x2="462.97" y2="284.1" stroke="#777" stroke-width="0.5" />
<rect x="469.75" y="285.6" width="1.4" height="1.1" fill="#aaa"/>
<line x1="470.45" y1="283.2" x2="470.45" y2="284.1" stroke="#777" stroke-width="0.5" />
<line x1="439" y1="282.9" x2="473" y2="282.9" stroke="#fd5aa4" stroke-width="0.6" opacity="0.6"/>
<path d="M459.3,283 L459.3,282.15 L459.5,281.65 L459.7,280.9 L459.9,279.81 L460.1,278.26 L460.3,276.16 L460.5,273.42 L460.7,270 L460.9,265.99 L461.1,261.65 L461.3,257.56 L461.5,255 L461.7,257.74 L461.9,262.07 L462.1,266.59 L462.3,270.7 L462.5,274.14 L462.7,276.83 L462.9,278.83 L463.1,280.27 L463.3,281.26 L463.5,281.92 L463.5,283 Z" fill="#fd5aa4" stroke="#f0408c" stroke-width="0.25" stroke-linejoin="round"/>
<rect x="478.5" y="249.3" width="33.5" height="33.9" fill="none" stroke="#cdcdcd" stroke-width="0.7"/>
<line x1="477.2" y1="283.2" x2="478.5" y2="283.2" stroke="#888" stroke-width="0.5" />
<rect x="475.5" y="282.6" width="1" height="0.8" fill="#aaa"/>
<line x1="477.2" y1="275.23" x2="478.5" y2="275.23" stroke="#888" stroke-width="0.5" />
<rect x="475.5" y="274.62" width="1" height="0.8" fill="#aaa"/>
<line x1="477.2" y1="267.25" x2="478.5" y2="267.25" stroke="#888" stroke-width="0.5" />
<rect x="475.5" y="266.65" width="1" height="0.8" fill="#aaa"/>
<line x1="477.2" y1="259.27" x2="478.5" y2="259.27" stroke="#888" stroke-width="0.5" />
<rect x="475.5" y="258.67" width="1" height="0.8" fill="#aaa"/>
<line x1="477.2" y1="251.3" x2="478.5" y2="251.3" stroke="#888" stroke-width="0.5" />
<rect x="475.5" y="250.7" width="1" height="0.8" fill="#aaa"/>
<rect x="481.82" y="285.6" width="1.4" height="1.1" fill="#aaa"/>
<line x1="482.52" y1="283.2" x2="482.52" y2="284.1" stroke="#777" stroke-width="0.5" />
<rect x="494.05" y="285.6" width="1.4" height="1.1" fill="#aaa"/>
<line x1="494.75" y1="283.2" x2="494.75" y2="284.1" stroke="#777" stroke-width="0.5" />
<rect x="501.42" y="285.6" width="1.4" height="1.1" fill="#aaa"/>
<line x1="502.12" y1="283.2" x2="502.12" y2="284.1" stroke="#777" stroke-width="0.5" />
<rect x="508.79" y="285.6" width="1.4" height="1.1" fill="#aaa"/>
<line x1="509.49" y1="283.2" x2="509.49" y2="284.1" stroke="#777" stroke-width="0.5" />
<line x1="478.5" y1="282.9" x2="512" y2="282.9" stroke="#8af84f" stroke-width="0.6" opacity="0.6"/>
<path d="M481,283 L481,283 L482.5,265 L483.8,254.2 L484.3,254.4 L485,262 L486.5,274 L488,275 L489.6,283 L489.6,283 Z" fill="#8af84f" stroke="#70e838" stroke-width="0.25" stroke-linejoin="round"/>
<line x1="490.7" y1="275" x2="509.6" y2="275" stroke="#7a7a7a" stroke-width="1.8" />
<circle cx="491.2" cy="275" r="0.85" fill="#444"/>
<circle cx="509.1" cy="275" r="0.95" fill="#222"/>
<rect x="283.5" y="288.8" width="35.5" height="33.5" fill="none" stroke="#cdcdcd" stroke-width="0.7"/>
<line x1="282.2" y1="322.3" x2="283.5" y2="322.3" stroke="#888" stroke-width="0.5" />
<rect x="280.5" y="321.7" width="1" height="0.8" fill="#aaa"/>
<line x1="282.2" y1="314.43" x2="283.5" y2="314.43" stroke="#888" stroke-width="0.5" />
<rect x="280.5" y="313.82" width="1" height="0.8" fill="#aaa"/>
<line x1="282.2" y1="306.55" x2="283.5" y2="306.55" stroke="#888" stroke-width="0.5" />
<rect x="280.5" y="305.95" width="1" height="0.8" fill="#aaa"/>
<line x1="282.2" y1="298.68" x2="283.5" y2="298.68" stroke="#888" stroke-width="0.5" />
<rect x="280.5" y="298.07" width="1" height="0.8" fill="#aaa"/>
<line x1="282.2" y1="290.8" x2="283.5" y2="290.8" stroke="#888" stroke-width="0.5" />
<rect x="280.5" y="290.2" width="1" height="0.8" fill="#aaa"/>
<rect x="287.06" y="324.7" width="1.4" height="1.1" fill="#aaa"/>
<line x1="287.76" y1="322.3" x2="287.76" y2="323.2" stroke="#777" stroke-width="0.5" />
<rect x="300.02" y="324.7" width="1.4" height="1.1" fill="#aaa"/>
<line x1="300.72" y1="322.3" x2="300.72" y2="323.2" stroke="#777" stroke-width="0.5" />
<rect x="307.83" y="324.7" width="1.4" height="1.1" fill="#aaa"/>
<line x1="308.53" y1="322.3" x2="308.53" y2="323.2" stroke="#777" stroke-width="0.5" />
<rect x="315.64" y="324.7" width="1.4" height="1.1" fill="#aaa"/>
<line x1="316.34" y1="322.3" x2="316.34" y2="323.2" stroke="#777" stroke-width="0.5" />
<line x1="283.5" y1="322" x2="319" y2="322" stroke="#fd5aa4" stroke-width="0.6" opacity="0.6"/>
<path d="M288.5,322.1 L288.5,322.1 L289.8,317 L290.5,315.6 L291.2,317 L292.5,320 L293.5,320.2 L296,318 L298,315 L300,305 L301,298 L302,293.2 L302.6,293.2 L303,295 L303.5,296 L304,305 L304.6,322.1 L304.6,322.1 Z" fill="#fd5aa4" stroke="#f0408c" stroke-width="0.25" stroke-linejoin="round"/>
<rect x="324.3" y="288.8" width="32.7" height="33.5" fill="none" stroke="#cdcdcd" stroke-width="0.7"/>
<line x1="323" y1="322.3" x2="324.3" y2="322.3" stroke="#888" stroke-width="0.5" />
<rect x="321.3" y="321.7" width="1" height="0.8" fill="#aaa"/>
<line x1="323" y1="314.43" x2="324.3" y2="314.43" stroke="#888" stroke-width="0.5" />
<rect x="321.3" y="313.82" width="1" height="0.8" fill="#aaa"/>
<line x1="323" y1="306.55" x2="324.3" y2="306.55" stroke="#888" stroke-width="0.5" />
<rect x="321.3" y="305.95" width="1" height="0.8" fill="#aaa"/>
<line x1="323" y1="298.68" x2="324.3" y2="298.68" stroke="#888" stroke-width="0.5" />
<rect x="321.3" y="298.07" width="1" height="0.8" fill="#aaa"/>
<line x1="323" y1="290.8" x2="324.3" y2="290.8" stroke="#888" stroke-width="0.5" />
<rect x="321.3" y="290.2" width="1" height="0.8" fill="#aaa"/>
<rect x="327.52" y="324.7" width="1.4" height="1.1" fill="#aaa"/>
<line x1="328.22" y1="322.3" x2="328.22" y2="323.2" stroke="#777" stroke-width="0.5" />
<rect x="339.46" y="324.7" width="1.4" height="1.1" fill="#aaa"/>
<line x1="340.16" y1="322.3" x2="340.16" y2="323.2" stroke="#777" stroke-width="0.5" />
<rect x="346.65" y="324.7" width="1.4" height="1.1" fill="#aaa"/>
<line x1="347.35" y1="322.3" x2="347.35" y2="323.2" stroke="#777" stroke-width="0.5" />
<rect x="353.85" y="324.7" width="1.4" height="1.1" fill="#aaa"/>
<line x1="354.55" y1="322.3" x2="354.55" y2="323.2" stroke="#777" stroke-width="0.5" />
<line x1="324.3" y1="322" x2="357" y2="322" stroke="#8af84f" stroke-width="0.6" opacity="0.6"/>
<path d="M326.5,322.1 L326.5,322.1 L327.3,312 L328,305.8 L328.7,310 L329.5,318 L330.5,320.5 L331,320.5 L335,319 L340,317 L343,313 L344,305 L344.5,294.6 L345,294.6 L345.5,297 L346.5,299 L347.5,310 L348.5,322.1 L348.5,322.1 Z" fill="#8af84f" stroke="#70e838" stroke-width="0.25" stroke-linejoin="round"/>
<line x1="333" y1="313.8" x2="355" y2="313.8" stroke="#7a7a7a" stroke-width="1.8" />
<circle cx="333.5" cy="313.8" r="0.85" fill="#444"/>
<circle cx="354.5" cy="313.8" r="0.95" fill="#222"/>
<text x="324.6" y="295.7" font-size="7.2" font-weight="bold" fill="#000" text-anchor="start" textLength="31.6" lengthAdjust="spacingAndGlyphs" stroke="#000" stroke-width="0.12">72.6±5.3%</text>
<rect x="361.8" y="288.8" width="34.2" height="33.5" fill="none" stroke="#cdcdcd" stroke-width="0.7"/>
<line x1="360.5" y1="322.3" x2="361.8" y2="322.3" stroke="#888" stroke-width="0.5" />
<rect x="358.8" y="321.7" width="1" height="0.8" fill="#aaa"/>
<line x1="360.5" y1="314.43" x2="361.8" y2="314.43" stroke="#888" stroke-width="0.5" />
<rect x="358.8" y="313.82" width="1" height="0.8" fill="#aaa"/>
<line x1="360.5" y1="306.55" x2="361.8" y2="306.55" stroke="#888" stroke-width="0.5" />
<rect x="358.8" y="305.95" width="1" height="0.8" fill="#aaa"/>
<line x1="360.5" y1="298.68" x2="361.8" y2="298.68" stroke="#888" stroke-width="0.5" />
<rect x="358.8" y="298.07" width="1" height="0.8" fill="#aaa"/>
<line x1="360.5" y1="290.8" x2="361.8" y2="290.8" stroke="#888" stroke-width="0.5" />
<rect x="358.8" y="290.2" width="1" height="0.8" fill="#aaa"/>
<rect x="365.2" y="324.7" width="1.4" height="1.1" fill="#aaa"/>
<line x1="365.9" y1="322.3" x2="365.9" y2="323.2" stroke="#777" stroke-width="0.5" />
<rect x="377.69" y="324.7" width="1.4" height="1.1" fill="#aaa"/>
<line x1="378.39" y1="322.3" x2="378.39" y2="323.2" stroke="#777" stroke-width="0.5" />
<rect x="385.21" y="324.7" width="1.4" height="1.1" fill="#aaa"/>
<line x1="385.91" y1="322.3" x2="385.91" y2="323.2" stroke="#777" stroke-width="0.5" />
<rect x="392.74" y="324.7" width="1.4" height="1.1" fill="#aaa"/>
<line x1="393.44" y1="322.3" x2="393.44" y2="323.2" stroke="#777" stroke-width="0.5" />
<line x1="361.8" y1="322" x2="396" y2="322" stroke="#fd5aa4" stroke-width="0.6" opacity="0.6"/>
<path d="M365,322.1 L365,321.9 L365.2,321.79 L365.4,321.61 L365.6,321.36 L365.8,321 L366,320.51 L366.2,319.88 L366.4,319.08 L366.6,318.15 L366.8,317.14 L367,316.19 L367.2,315.6 L367.4,315.93 L367.6,316.49 L367.8,317.14 L368,317.82 L368.2,318.47 L368.4,319.08 L368.6,319.63 L368.8,320.11 L369,320.51 L369.2,320.85 L369.4,321.13 L369.6,321.36 L369.8,321.54 L370,321.68 L370.2,321.79 L370.4,321.87 L370.4,322.1 Z" fill="#fd5aa4" stroke="#f0408c" stroke-width="0.25" stroke-linejoin="round"/>
<path d="M378.8,322.1 L378.8,321.29 L379,320.81 L379.2,320.09 L379.4,319.04 L379.6,317.57 L379.8,315.56 L380,312.93 L380.2,309.66 L380.4,305.82 L380.6,301.67 L380.8,297.75 L381,295.3 L381.2,297.75 L381.4,301.67 L381.6,305.82 L381.8,309.66 L382,312.93 L382.2,315.56 L382.4,317.57 L382.6,319.04 L382.8,320.09 L383,320.81 L383.2,321.29 L383.2,322.1 Z" fill="#fd5aa4" stroke="#f0408c" stroke-width="0.25" stroke-linejoin="round"/>
<rect x="401.5" y="288.8" width="33.5" height="33.5" fill="none" stroke="#cdcdcd" stroke-width="0.7"/>
<line x1="400.2" y1="322.3" x2="401.5" y2="322.3" stroke="#888" stroke-width="0.5" />
<rect x="398.5" y="321.7" width="1" height="0.8" fill="#aaa"/>
<line x1="400.2" y1="314.43" x2="401.5" y2="314.43" stroke="#888" stroke-width="0.5" />
<rect x="398.5" y="313.82" width="1" height="0.8" fill="#aaa"/>
<line x1="400.2" y1="306.55" x2="401.5" y2="306.55" stroke="#888" stroke-width="0.5" />
<rect x="398.5" y="305.95" width="1" height="0.8" fill="#aaa"/>
<line x1="400.2" y1="298.68" x2="401.5" y2="298.68" stroke="#888" stroke-width="0.5" />
<rect x="398.5" y="298.07" width="1" height="0.8" fill="#aaa"/>
<line x1="400.2" y1="290.8" x2="401.5" y2="290.8" stroke="#888" stroke-width="0.5" />
<rect x="398.5" y="290.2" width="1" height="0.8" fill="#aaa"/>
<rect x="404.82" y="324.7" width="1.4" height="1.1" fill="#aaa"/>
<line x1="405.52" y1="322.3" x2="405.52" y2="323.2" stroke="#777" stroke-width="0.5" />
<rect x="417.05" y="324.7" width="1.4" height="1.1" fill="#aaa"/>
<line x1="417.75" y1="322.3" x2="417.75" y2="323.2" stroke="#777" stroke-width="0.5" />
<rect x="424.42" y="324.7" width="1.4" height="1.1" fill="#aaa"/>
<line x1="425.12" y1="322.3" x2="425.12" y2="323.2" stroke="#777" stroke-width="0.5" />
<rect x="431.79" y="324.7" width="1.4" height="1.1" fill="#aaa"/>
<line x1="432.49" y1="322.3" x2="432.49" y2="323.2" stroke="#777" stroke-width="0.5" />
<line x1="401.5" y1="322" x2="435" y2="322" stroke="#8af84f" stroke-width="0.6" opacity="0.6"/>
<path d="M404,322.1 L404,322.1 L405.2,317 L406,313.8 L406.8,316 L408,320 L409,321 L410,321 L415,320 L420,316 L423,308 L425,295.5 L425.6,295.4 L426.5,300 L428,322.1 L428,322.1 Z" fill="#8af84f" stroke="#70e838" stroke-width="0.25" stroke-linejoin="round"/>
<line x1="411" y1="313.3" x2="431.8" y2="313.3" stroke="#5e5e5e" stroke-width="1.25" />
<circle cx="411.5" cy="313.3" r="0.85" fill="#444"/>
<circle cx="431.3" cy="313.3" r="0.95" fill="#222"/>
<text x="401.4" y="295.7" font-size="7.2" font-weight="bold" fill="#000" text-anchor="start" textLength="31.6" lengthAdjust="spacingAndGlyphs" stroke="#000" stroke-width="0.12">82.3±4.3%</text>
<rect x="439" y="288.8" width="34" height="33.5" fill="none" stroke="#cdcdcd" stroke-width="0.7"/>
<line x1="437.7" y1="322.3" x2="439" y2="322.3" stroke="#888" stroke-width="0.5" />
<rect x="436" y="321.7" width="1" height="0.8" fill="#aaa"/>
<line x1="437.7" y1="314.43" x2="439" y2="314.43" stroke="#888" stroke-width="0.5" />
<rect x="436" y="313.82" width="1" height="0.8" fill="#aaa"/>
<line x1="437.7" y1="306.55" x2="439" y2="306.55" stroke="#888" stroke-width="0.5" />
<rect x="436" y="305.95" width="1" height="0.8" fill="#aaa"/>
<line x1="437.7" y1="298.68" x2="439" y2="298.68" stroke="#888" stroke-width="0.5" />
<rect x="436" y="298.07" width="1" height="0.8" fill="#aaa"/>
<line x1="437.7" y1="290.8" x2="439" y2="290.8" stroke="#888" stroke-width="0.5" />
<rect x="436" y="290.2" width="1" height="0.8" fill="#aaa"/>
<rect x="442.38" y="324.7" width="1.4" height="1.1" fill="#aaa"/>
<line x1="443.08" y1="322.3" x2="443.08" y2="323.2" stroke="#777" stroke-width="0.5" />
<rect x="454.79" y="324.7" width="1.4" height="1.1" fill="#aaa"/>
<line x1="455.49" y1="322.3" x2="455.49" y2="323.2" stroke="#777" stroke-width="0.5" />
<rect x="462.27" y="324.7" width="1.4" height="1.1" fill="#aaa"/>
<line x1="462.97" y1="322.3" x2="462.97" y2="323.2" stroke="#777" stroke-width="0.5" />
<rect x="469.75" y="324.7" width="1.4" height="1.1" fill="#aaa"/>
<line x1="470.45" y1="322.3" x2="470.45" y2="323.2" stroke="#777" stroke-width="0.5" />
<line x1="439" y1="322" x2="473" y2="322" stroke="#fd5aa4" stroke-width="0.6" opacity="0.6"/>
<path d="M456.8,322.1 L456.8,321.16 L457,320.66 L457.2,319.93 L457.4,318.9 L457.6,317.47 L457.8,315.56 L458,313.08 L458.2,309.97 L458.4,306.24 L458.6,302.02 L458.8,297.59 L459,293.51 L459.2,291 L459.4,293.67 L459.6,297.97 L459.8,302.59 L460,306.93 L460.2,310.7 L460.4,313.78 L460.6,316.2 L460.8,318.02 L461,319.34 L461.2,320.28 L461.4,320.92 L461.4,322.1 Z" fill="#fd5aa4" stroke="#f0408c" stroke-width="0.25" stroke-linejoin="round"/>
<rect x="478.5" y="288.8" width="33.5" height="33.5" fill="none" stroke="#cdcdcd" stroke-width="0.7"/>
<line x1="477.2" y1="322.3" x2="478.5" y2="322.3" stroke="#888" stroke-width="0.5" />
<rect x="475.5" y="321.7" width="1" height="0.8" fill="#aaa"/>
<line x1="477.2" y1="314.43" x2="478.5" y2="314.43" stroke="#888" stroke-width="0.5" />
<rect x="475.5" y="313.82" width="1" height="0.8" fill="#aaa"/>
<line x1="477.2" y1="306.55" x2="478.5" y2="306.55" stroke="#888" stroke-width="0.5" />
<rect x="475.5" y="305.95" width="1" height="0.8" fill="#aaa"/>
<line x1="477.2" y1="298.68" x2="478.5" y2="298.68" stroke="#888" stroke-width="0.5" />
<rect x="475.5" y="298.07" width="1" height="0.8" fill="#aaa"/>
<line x1="477.2" y1="290.8" x2="478.5" y2="290.8" stroke="#888" stroke-width="0.5" />
<rect x="475.5" y="290.2" width="1" height="0.8" fill="#aaa"/>
<rect x="481.82" y="324.7" width="1.4" height="1.1" fill="#aaa"/>
<line x1="482.52" y1="322.3" x2="482.52" y2="323.2" stroke="#777" stroke-width="0.5" />
<rect x="494.05" y="324.7" width="1.4" height="1.1" fill="#aaa"/>
<line x1="494.75" y1="322.3" x2="494.75" y2="323.2" stroke="#777" stroke-width="0.5" />
<rect x="501.42" y="324.7" width="1.4" height="1.1" fill="#aaa"/>
<line x1="502.12" y1="322.3" x2="502.12" y2="323.2" stroke="#777" stroke-width="0.5" />
<rect x="508.79" y="324.7" width="1.4" height="1.1" fill="#aaa"/>
<line x1="509.49" y1="322.3" x2="509.49" y2="323.2" stroke="#777" stroke-width="0.5" />
<line x1="478.5" y1="322" x2="512" y2="322" stroke="#8af84f" stroke-width="0.6" opacity="0.6"/>
<path d="M499.6,322.1 L499.6,322.1 L501.5,310 L502.5,298 L503.3,291.6 L503.8,291.6 L504.5,296 L505.5,310 L506.5,322.1 L506.5,322.1 Z" fill="#8af84f" stroke="#70e838" stroke-width="0.25" stroke-linejoin="round"/>
<line x1="490.7" y1="313.8" x2="509.6" y2="313.8" stroke="#7a7a7a" stroke-width="1.8" />
<circle cx="491.2" cy="313.8" r="0.85" fill="#444"/>
<circle cx="509.1" cy="313.8" r="0.95" fill="#222"/>
<text x="478.8" y="295.4" font-size="7.2" font-weight="bold" fill="#000" text-anchor="start" textLength="31.6" lengthAdjust="spacingAndGlyphs" stroke="#000" stroke-width="0.12">95.9±2.3%</text>
<rect x="283.5" y="327.8" width="35.5" height="34.5" fill="none" stroke="#cdcdcd" stroke-width="0.7"/>
<line x1="282.2" y1="362.3" x2="283.5" y2="362.3" stroke="#888" stroke-width="0.5" />
<rect x="280.5" y="361.7" width="1" height="0.8" fill="#aaa"/>
<line x1="282.2" y1="354.18" x2="283.5" y2="354.18" stroke="#888" stroke-width="0.5" />
<rect x="280.5" y="353.57" width="1" height="0.8" fill="#aaa"/>
<line x1="282.2" y1="346.05" x2="283.5" y2="346.05" stroke="#888" stroke-width="0.5" />
<rect x="280.5" y="345.45" width="1" height="0.8" fill="#aaa"/>
<line x1="282.2" y1="337.93" x2="283.5" y2="337.93" stroke="#888" stroke-width="0.5" />
<rect x="280.5" y="337.32" width="1" height="0.8" fill="#aaa"/>
<line x1="282.2" y1="329.8" x2="283.5" y2="329.8" stroke="#888" stroke-width="0.5" />
<rect x="280.5" y="329.2" width="1" height="0.8" fill="#aaa"/>
<rect x="287.06" y="364.7" width="1.4" height="1.1" fill="#aaa"/>
<line x1="287.76" y1="362.3" x2="287.76" y2="363.2" stroke="#777" stroke-width="0.5" />
<rect x="300.02" y="364.7" width="1.4" height="1.1" fill="#aaa"/>
<line x1="300.72" y1="362.3" x2="300.72" y2="363.2" stroke="#777" stroke-width="0.5" />
<rect x="307.83" y="364.7" width="1.4" height="1.1" fill="#aaa"/>
<line x1="308.53" y1="362.3" x2="308.53" y2="363.2" stroke="#777" stroke-width="0.5" />
<rect x="315.64" y="364.7" width="1.4" height="1.1" fill="#aaa"/>
<line x1="316.34" y1="362.3" x2="316.34" y2="363.2" stroke="#777" stroke-width="0.5" />
<line x1="283.5" y1="362" x2="319" y2="362" stroke="#fd5aa4" stroke-width="0.6" opacity="0.6"/>
<path d="M289,362.1 L289,362.1 L289.9,355 L290.5,353.5 L291.1,355 L292,358.5 L295,358 L298,356 L300,352 L302,342 L303,335 L303.6,331.2 L304.1,331.2 L305,340 L306,352 L307,362.1 L307,362.1 Z" fill="#fd5aa4" stroke="#f0408c" stroke-width="0.25" stroke-linejoin="round"/>
<rect x="324.3" y="327.8" width="32.7" height="34.5" fill="none" stroke="#cdcdcd" stroke-width="0.7"/>
<line x1="323" y1="362.3" x2="324.3" y2="362.3" stroke="#888" stroke-width="0.5" />
<rect x="321.3" y="361.7" width="1" height="0.8" fill="#aaa"/>
<line x1="323" y1="354.18" x2="324.3" y2="354.18" stroke="#888" stroke-width="0.5" />
<rect x="321.3" y="353.57" width="1" height="0.8" fill="#aaa"/>
<line x1="323" y1="346.05" x2="324.3" y2="346.05" stroke="#888" stroke-width="0.5" />
<rect x="321.3" y="345.45" width="1" height="0.8" fill="#aaa"/>
<line x1="323" y1="337.93" x2="324.3" y2="337.93" stroke="#888" stroke-width="0.5" />
<rect x="321.3" y="337.32" width="1" height="0.8" fill="#aaa"/>
<line x1="323" y1="329.8" x2="324.3" y2="329.8" stroke="#888" stroke-width="0.5" />
<rect x="321.3" y="329.2" width="1" height="0.8" fill="#aaa"/>
<rect x="327.52" y="364.7" width="1.4" height="1.1" fill="#aaa"/>
<line x1="328.22" y1="362.3" x2="328.22" y2="363.2" stroke="#777" stroke-width="0.5" />
<rect x="339.46" y="364.7" width="1.4" height="1.1" fill="#aaa"/>
<line x1="340.16" y1="362.3" x2="340.16" y2="363.2" stroke="#777" stroke-width="0.5" />
<rect x="346.65" y="364.7" width="1.4" height="1.1" fill="#aaa"/>
<line x1="347.35" y1="362.3" x2="347.35" y2="363.2" stroke="#777" stroke-width="0.5" />
<rect x="353.85" y="364.7" width="1.4" height="1.1" fill="#aaa"/>
<line x1="354.55" y1="362.3" x2="354.55" y2="363.2" stroke="#777" stroke-width="0.5" />
<line x1="324.3" y1="362" x2="357" y2="362" stroke="#8af84f" stroke-width="0.6" opacity="0.6"/>
<path d="M326.5,362.1 L326.5,362.1 L327.4,356 L328,352.5 L328.7,355 L330,357.8 L331,358 L335,357.5 L340,356 L342,352 L343,345 L344,338 L345.8,333.6 L346.4,333.6 L347.7,345 L348.5,362.1 L348.5,362.1 Z" fill="#8af84f" stroke="#70e838" stroke-width="0.25" stroke-linejoin="round"/>
<line x1="333" y1="353" x2="355" y2="353" stroke="#7a7a7a" stroke-width="1.8" />
<circle cx="333.5" cy="353" r="0.85" fill="#444"/>
<circle cx="354.5" cy="353" r="0.95" fill="#222"/>
<text x="324.6" y="334.4" font-size="7.2" font-weight="bold" fill="#000" text-anchor="start" textLength="31.6" lengthAdjust="spacingAndGlyphs" stroke="#000" stroke-width="0.12">86.1±3.8%</text>
<rect x="361.8" y="327.8" width="34.2" height="34.5" fill="none" stroke="#cdcdcd" stroke-width="0.7"/>
<line x1="360.5" y1="362.3" x2="361.8" y2="362.3" stroke="#888" stroke-width="0.5" />
<rect x="358.8" y="361.7" width="1" height="0.8" fill="#aaa"/>
<line x1="360.5" y1="354.18" x2="361.8" y2="354.18" stroke="#888" stroke-width="0.5" />
<rect x="358.8" y="353.57" width="1" height="0.8" fill="#aaa"/>
<line x1="360.5" y1="346.05" x2="361.8" y2="346.05" stroke="#888" stroke-width="0.5" />
<rect x="358.8" y="345.45" width="1" height="0.8" fill="#aaa"/>
<line x1="360.5" y1="337.93" x2="361.8" y2="337.93" stroke="#888" stroke-width="0.5" />
<rect x="358.8" y="337.32" width="1" height="0.8" fill="#aaa"/>
<line x1="360.5" y1="329.8" x2="361.8" y2="329.8" stroke="#888" stroke-width="0.5" />
<rect x="358.8" y="329.2" width="1" height="0.8" fill="#aaa"/>
<rect x="365.2" y="364.7" width="1.4" height="1.1" fill="#aaa"/>
<line x1="365.9" y1="362.3" x2="365.9" y2="363.2" stroke="#777" stroke-width="0.5" />
<rect x="377.69" y="364.7" width="1.4" height="1.1" fill="#aaa"/>
<line x1="378.39" y1="362.3" x2="378.39" y2="363.2" stroke="#777" stroke-width="0.5" />
<rect x="385.21" y="364.7" width="1.4" height="1.1" fill="#aaa"/>
<line x1="385.91" y1="362.3" x2="385.91" y2="363.2" stroke="#777" stroke-width="0.5" />
<rect x="392.74" y="364.7" width="1.4" height="1.1" fill="#aaa"/>
<line x1="393.44" y1="362.3" x2="393.44" y2="363.2" stroke="#777" stroke-width="0.5" />
<line x1="361.8" y1="362" x2="396" y2="362" stroke="#fd5aa4" stroke-width="0.6" opacity="0.6"/>
<path d="M365.5,362.1 L365.5,361.97 L365.7,361.88 L365.9,361.74 L366.1,361.53 L366.3,361.24 L366.5,360.82 L366.7,360.28 L366.9,359.62 L367.1,358.88 L367.3,358.16 L367.5,357.7 L367.7,358.04 L367.9,358.58 L368.1,359.18 L368.3,359.76 L368.5,360.28 L368.7,360.73 L368.9,361.09 L369.1,361.37 L369.3,361.58 L369.5,361.74 L369.7,361.86 L369.9,361.94 L369.9,362.1 Z" fill="#fd5aa4" stroke="#f0408c" stroke-width="0.25" stroke-linejoin="round"/>
<path d="M380.8,362.1 L380.8,361.22 L381,360.79 L381.2,360.18 L381.4,359.34 L381.6,358.2 L381.8,356.69 L382,354.75 L382.2,352.32 L382.4,349.39 L382.6,345.98 L382.8,342.22 L383,338.38 L383.2,334.91 L383.4,332.8 L383.6,335.17 L383.8,339.01 L384,343.18 L384.2,347.16 L384.4,350.67 L384.6,353.6 L384.8,355.94 L385,357.74 L385.2,359.08 L385.4,360.06 L385.6,360.74 L385.8,361.22 L385.8,362.1 Z" fill="#fd5aa4" stroke="#f0408c" stroke-width="0.25" stroke-linejoin="round"/>
<rect x="401.5" y="327.8" width="33.5" height="34.5" fill="none" stroke="#cdcdcd" stroke-width="0.7"/>
<line x1="400.2" y1="362.3" x2="401.5" y2="362.3" stroke="#888" stroke-width="0.5" />
<rect x="398.5" y="361.7" width="1" height="0.8" fill="#aaa"/>
<line x1="400.2" y1="354.18" x2="401.5" y2="354.18" stroke="#888" stroke-width="0.5" />
<rect x="398.5" y="353.57" width="1" height="0.8" fill="#aaa"/>
<line x1="400.2" y1="346.05" x2="401.5" y2="346.05" stroke="#888" stroke-width="0.5" />
<rect x="398.5" y="345.45" width="1" height="0.8" fill="#aaa"/>
<line x1="400.2" y1="337.93" x2="401.5" y2="337.93" stroke="#888" stroke-width="0.5" />
<rect x="398.5" y="337.32" width="1" height="0.8" fill="#aaa"/>
<line x1="400.2" y1="329.8" x2="401.5" y2="329.8" stroke="#888" stroke-width="0.5" />
<rect x="398.5" y="329.2" width="1" height="0.8" fill="#aaa"/>
<rect x="404.82" y="364.7" width="1.4" height="1.1" fill="#aaa"/>
<line x1="405.52" y1="362.3" x2="405.52" y2="363.2" stroke="#777" stroke-width="0.5" />
<rect x="417.05" y="364.7" width="1.4" height="1.1" fill="#aaa"/>
<line x1="417.75" y1="362.3" x2="417.75" y2="363.2" stroke="#777" stroke-width="0.5" />
<rect x="424.42" y="364.7" width="1.4" height="1.1" fill="#aaa"/>
<line x1="425.12" y1="362.3" x2="425.12" y2="363.2" stroke="#777" stroke-width="0.5" />
<rect x="431.79" y="364.7" width="1.4" height="1.1" fill="#aaa"/>
<line x1="432.49" y1="362.3" x2="432.49" y2="363.2" stroke="#777" stroke-width="0.5" />
<line x1="401.5" y1="362" x2="435" y2="362" stroke="#8af84f" stroke-width="0.6" opacity="0.6"/>
<path d="M404,362.1 L404,362.04 L404.2,361.99 L404.4,361.93 L404.6,361.83 L404.8,361.69 L405,361.49 L405.2,361.23 L405.4,360.92 L405.6,360.56 L405.8,360.22 L406,360 L406.2,360.22 L406.4,360.56 L406.6,360.92 L406.8,361.23 L407,361.49 L407.2,361.69 L407.4,361.83 L407.6,361.93 L407.8,361.99 L408,362.04 L408,362.1 Z" fill="#8af84f" stroke="#70e838" stroke-width="0.25" stroke-linejoin="round"/>
<path d="M421.8,362.1 L421.8,361.19 L422,360.87 L422.2,360.45 L422.4,359.9 L422.6,359.2 L422.8,358.32 L423,357.23 L423.2,355.89 L423.4,354.28 L423.6,352.38 L423.8,350.16 L424,347.65 L424.2,344.88 L424.4,341.91 L424.6,338.88 L424.8,335.96 L425,333.47 L425.2,332 L425.4,333.95 L425.6,337.18 L425.8,340.83 L426,344.46 L426.2,347.84 L426.4,350.83 L426.6,353.37 L426.8,355.46 L427,357.14 L427.2,358.46 L427.4,359.47 L427.6,360.23 L427.8,360.79 L428,361.19 L428,362.1 Z" fill="#8af84f" stroke="#70e838" stroke-width="0.25" stroke-linejoin="round"/>
<line x1="411" y1="352" x2="431.8" y2="352" stroke="#7a7a7a" stroke-width="1.8" />
<circle cx="411.5" cy="352" r="0.85" fill="#444"/>
<circle cx="431.3" cy="352" r="0.95" fill="#222"/>
<text x="401" y="334.4" font-size="7.2" font-weight="bold" fill="#000" text-anchor="start" textLength="32" lengthAdjust="spacingAndGlyphs" stroke="#000" stroke-width="0.12">94.5±2.7%</text>
<rect x="439" y="327.8" width="34" height="34.5" fill="none" stroke="#cdcdcd" stroke-width="0.7"/>
<line x1="437.7" y1="362.3" x2="439" y2="362.3" stroke="#888" stroke-width="0.5" />
<rect x="436" y="361.7" width="1" height="0.8" fill="#aaa"/>
<line x1="437.7" y1="354.18" x2="439" y2="354.18" stroke="#888" stroke-width="0.5" />
<rect x="436" y="353.57" width="1" height="0.8" fill="#aaa"/>
<line x1="437.7" y1="346.05" x2="439" y2="346.05" stroke="#888" stroke-width="0.5" />
<rect x="436" y="345.45" width="1" height="0.8" fill="#aaa"/>
<line x1="437.7" y1="337.93" x2="439" y2="337.93" stroke="#888" stroke-width="0.5" />
<rect x="436" y="337.32" width="1" height="0.8" fill="#aaa"/>
<line x1="437.7" y1="329.8" x2="439" y2="329.8" stroke="#888" stroke-width="0.5" />
<rect x="436" y="329.2" width="1" height="0.8" fill="#aaa"/>
<rect x="442.38" y="364.7" width="1.4" height="1.1" fill="#aaa"/>
<line x1="443.08" y1="362.3" x2="443.08" y2="363.2" stroke="#777" stroke-width="0.5" />
<rect x="454.79" y="364.7" width="1.4" height="1.1" fill="#aaa"/>
<line x1="455.49" y1="362.3" x2="455.49" y2="363.2" stroke="#777" stroke-width="0.5" />
<rect x="462.27" y="364.7" width="1.4" height="1.1" fill="#aaa"/>
<line x1="462.97" y1="362.3" x2="462.97" y2="363.2" stroke="#777" stroke-width="0.5" />
<rect x="469.75" y="364.7" width="1.4" height="1.1" fill="#aaa"/>
<line x1="470.45" y1="362.3" x2="470.45" y2="363.2" stroke="#777" stroke-width="0.5" />
<line x1="439" y1="362" x2="473" y2="362" stroke="#fd5aa4" stroke-width="0.6" opacity="0.6"/>
<path d="M459.3,362.1 L459.3,361.21 L459.5,360.57 L459.7,359.56 L459.9,358.02 L460.1,355.77 L460.3,352.64 L460.5,348.57 L460.7,343.65 L460.9,338.34 L461.1,333.72 L461.2,332.5 L461.3,333.37 L461.5,336.74 L461.7,340.88 L461.9,345.04 L462.1,348.85 L462.3,352.11 L462.5,354.77 L462.7,356.85 L462.9,358.43 L463.1,359.58 L463.3,360.41 L463.5,360.99 L463.5,362.1 Z" fill="#fd5aa4" stroke="#f0408c" stroke-width="0.25" stroke-linejoin="round"/>
<rect x="478.5" y="327.8" width="33.5" height="34.5" fill="none" stroke="#cdcdcd" stroke-width="0.7"/>
<line x1="477.2" y1="362.3" x2="478.5" y2="362.3" stroke="#888" stroke-width="0.5" />
<rect x="475.5" y="361.7" width="1" height="0.8" fill="#aaa"/>
<line x1="477.2" y1="354.18" x2="478.5" y2="354.18" stroke="#888" stroke-width="0.5" />
<rect x="475.5" y="353.57" width="1" height="0.8" fill="#aaa"/>
<line x1="477.2" y1="346.05" x2="478.5" y2="346.05" stroke="#888" stroke-width="0.5" />
<rect x="475.5" y="345.45" width="1" height="0.8" fill="#aaa"/>
<line x1="477.2" y1="337.93" x2="478.5" y2="337.93" stroke="#888" stroke-width="0.5" />
<rect x="475.5" y="337.32" width="1" height="0.8" fill="#aaa"/>
<line x1="477.2" y1="329.8" x2="478.5" y2="329.8" stroke="#888" stroke-width="0.5" />
<rect x="475.5" y="329.2" width="1" height="0.8" fill="#aaa"/>
<rect x="481.82" y="364.7" width="1.4" height="1.1" fill="#aaa"/>
<line x1="482.52" y1="362.3" x2="482.52" y2="363.2" stroke="#777" stroke-width="0.5" />
<rect x="494.05" y="364.7" width="1.4" height="1.1" fill="#aaa"/>
<line x1="494.75" y1="362.3" x2="494.75" y2="363.2" stroke="#777" stroke-width="0.5" />
<rect x="501.42" y="364.7" width="1.4" height="1.1" fill="#aaa"/>
<line x1="502.12" y1="362.3" x2="502.12" y2="363.2" stroke="#777" stroke-width="0.5" />
<rect x="508.79" y="364.7" width="1.4" height="1.1" fill="#aaa"/>
<line x1="509.49" y1="362.3" x2="509.49" y2="363.2" stroke="#777" stroke-width="0.5" />
<line x1="478.5" y1="362" x2="512" y2="362" stroke="#8af84f" stroke-width="0.6" opacity="0.6"/>
<path d="M501,362.1 L501,361.22 L501.2,360.82 L501.4,360.28 L501.6,359.54 L501.8,358.56 L502,357.28 L502.2,355.64 L502.4,353.6 L502.6,351.13 L502.8,348.22 L503,344.93 L503.2,341.39 L503.4,337.85 L503.6,334.69 L503.8,332.8 L504,335.48 L504.2,339.76 L504.4,344.3 L504.6,348.5 L504.8,352.08 L505,354.95 L505.2,357.14 L505.4,358.76 L505.6,359.9 L505.8,360.69 L506,361.22 L506,362.1 Z" fill="#8af84f" stroke="#70e838" stroke-width="0.25" stroke-linejoin="round"/>
<line x1="490.7" y1="352.8" x2="509.6" y2="352.8" stroke="#7a7a7a" stroke-width="1.8" />
<circle cx="491.2" cy="352.8" r="0.85" fill="#444"/>
<circle cx="509.1" cy="352.8" r="0.95" fill="#222"/>
<text x="478.8" y="334.4" font-size="7.2" font-weight="bold" fill="#000" text-anchor="start" textLength="31.6" lengthAdjust="spacingAndGlyphs" stroke="#000" stroke-width="0.12">99.1±0.4%</text>
<path d="M63,48.2 L60,48.2 L60,166.8" fill="none" stroke="#222" stroke-width="1.2"/>
<line x1="57" y1="106" x2="60" y2="106" stroke="#222" stroke-width="1" />
<line x1="60" y1="48.2" x2="64" y2="48.2" stroke="#111" stroke-width="1" />
<path d="M63,46.7 L66,48.2 L63,49.7 Z" fill="#111"/>
<line x1="60" y1="85.8" x2="64" y2="85.8" stroke="#111" stroke-width="1" />
<path d="M63,84.3 L66,85.8 L63,87.3 Z" fill="#111"/>
<line x1="60" y1="128.4" x2="64" y2="128.4" stroke="#111" stroke-width="1" />
<path d="M63,126.9 L66,128.4 L63,129.9 Z" fill="#111"/>
<line x1="60" y1="166.8" x2="64" y2="166.8" stroke="#111" stroke-width="1" />
<path d="M63,165.3 L66,166.8 L63,168.3 Z" fill="#111"/>
<text x="67.1" y="50.8" font-size="5.7" fill="#1a1a1a" stroke="#1a1a1a" stroke-width="0.1" textLength="26.4" lengthAdjust="spacingAndGlyphs">R26R-EYFP</text><text x="94" y="48.5" font-size="5.0" fill="#1a1a1a" stroke="#1a1a1a" stroke-width="0.08" textLength="7.4" lengthAdjust="spacingAndGlyphs">+/+</text>
<text x="67.1" y="82.3" font-size="5.7" fill="#1a1a1a" stroke="#1a1a1a" stroke-width="0.1" textLength="14.7" lengthAdjust="spacingAndGlyphs">EpoR-</text><text x="67.1" y="88" font-size="5.7" fill="#1a1a1a" stroke="#1a1a1a" stroke-width="0.1" textLength="25" lengthAdjust="spacingAndGlyphs">tdTomato-</text><text x="67.1" y="93.6" font-size="5.7" fill="#1a1a1a" stroke="#1a1a1a" stroke-width="0.1" textLength="9" lengthAdjust="spacingAndGlyphs">Cre</text><text x="76.6" y="91.3" font-size="5.0" fill="#1a1a1a" stroke="#1a1a1a" stroke-width="0.08" textLength="7.4" lengthAdjust="spacingAndGlyphs">+/+</text>
<text x="67.1" y="121.7" font-size="5.7" fill="#1a1a1a" stroke="#1a1a1a" stroke-width="0.1" textLength="26.4" lengthAdjust="spacingAndGlyphs">R26R-EYFP</text><text x="94" y="119.4" font-size="5.0" fill="#1a1a1a" stroke="#1a1a1a" stroke-width="0.08" textLength="7.4" lengthAdjust="spacingAndGlyphs">+/+</text><text x="67.1" y="127.6" font-size="5.7" fill="#1a1a1a" stroke="#1a1a1a" stroke-width="0.1" textLength="14.7" lengthAdjust="spacingAndGlyphs">EpoR-</text><text x="67.1" y="133.7" font-size="5.7" fill="#1a1a1a" stroke="#1a1a1a" stroke-width="0.1" textLength="25" lengthAdjust="spacingAndGlyphs">tdTomato-</text><text x="67.1" y="140" font-size="5.7" fill="#1a1a1a" stroke="#1a1a1a" stroke-width="0.1" textLength="9" lengthAdjust="spacingAndGlyphs">Cre</text><text x="76.6" y="137.7" font-size="5.0" fill="#1a1a1a" stroke="#1a1a1a" stroke-width="0.08" textLength="7.4" lengthAdjust="spacingAndGlyphs">+/-</text>
<text x="67.1" y="158.4" font-size="5.7" fill="#1a1a1a" stroke="#1a1a1a" stroke-width="0.1" textLength="26.4" lengthAdjust="spacingAndGlyphs">R26R-EYFP</text><text x="94" y="156.1" font-size="5.0" fill="#1a1a1a" stroke="#1a1a1a" stroke-width="0.08" textLength="7.4" lengthAdjust="spacingAndGlyphs">+/+</text><text x="67.1" y="164.6" font-size="5.7" fill="#1a1a1a" stroke="#1a1a1a" stroke-width="0.1" textLength="14.7" lengthAdjust="spacingAndGlyphs">EpoR-</text><text x="67.1" y="170.8" font-size="5.7" fill="#1a1a1a" stroke="#1a1a1a" stroke-width="0.1" textLength="25" lengthAdjust="spacingAndGlyphs">tdTomato-</text><text x="67.1" y="177" font-size="5.7" fill="#1a1a1a" stroke="#1a1a1a" stroke-width="0.1" textLength="9" lengthAdjust="spacingAndGlyphs">Cre</text><text x="76.6" y="174.7" font-size="5.0" fill="#1a1a1a" stroke="#1a1a1a" stroke-width="0.08" textLength="7.4" lengthAdjust="spacingAndGlyphs">+/+</text>
<path d="M63,227.3 L60,227.3 L60,345.3" fill="none" stroke="#222" stroke-width="1.2"/>
<line x1="57" y1="284" x2="60" y2="284" stroke="#222" stroke-width="1" />
<line x1="60" y1="227.3" x2="64" y2="227.3" stroke="#111" stroke-width="1" />
<path d="M63,225.8 L66,227.3 L63,228.8 Z" fill="#111"/>
<line x1="60" y1="265" x2="64" y2="265" stroke="#111" stroke-width="1" />
<path d="M63,263.5 L66,265 L63,266.5 Z" fill="#111"/>
<line x1="60" y1="307.1" x2="64" y2="307.1" stroke="#111" stroke-width="1" />
<path d="M63,305.6 L66,307.1 L63,308.6 Z" fill="#111"/>
<line x1="60" y1="345.3" x2="64" y2="345.3" stroke="#111" stroke-width="1" />
<path d="M63,343.8 L66,345.3 L63,346.8 Z" fill="#111"/>
<text x="67.6" y="229.5" font-size="5.7" fill="#1a1a1a" stroke="#1a1a1a" stroke-width="0.1" textLength="25.8" lengthAdjust="spacingAndGlyphs">R26R-EYFP</text><text x="93.9" y="227.2" font-size="5.0" fill="#1a1a1a" stroke="#1a1a1a" stroke-width="0.08" textLength="7.4" lengthAdjust="spacingAndGlyphs">+/+</text>
<text x="67.6" y="260.7" font-size="5.7" fill="#1a1a1a" stroke="#1a1a1a" stroke-width="0.1" textLength="14.7" lengthAdjust="spacingAndGlyphs">EpoR-</text><text x="67.6" y="266.6" font-size="5.7" fill="#1a1a1a" stroke="#1a1a1a" stroke-width="0.1" textLength="25" lengthAdjust="spacingAndGlyphs">tdTomato-</text><text x="67.6" y="272.4" font-size="5.7" fill="#1a1a1a" stroke="#1a1a1a" stroke-width="0.1" textLength="9" lengthAdjust="spacingAndGlyphs">Cre</text><text x="77.1" y="270.1" font-size="5.0" fill="#1a1a1a" stroke="#1a1a1a" stroke-width="0.08" textLength="7.4" lengthAdjust="spacingAndGlyphs">+/+</text>
<text x="67.6" y="300" font-size="5.7" fill="#1a1a1a" stroke="#1a1a1a" stroke-width="0.1" textLength="25.8" lengthAdjust="spacingAndGlyphs">R26R-EYFP</text><text x="93.9" y="297.7" font-size="5.0" fill="#1a1a1a" stroke="#1a1a1a" stroke-width="0.08" textLength="7.4" lengthAdjust="spacingAndGlyphs">+/+</text><text x="67.6" y="306.1" font-size="5.7" fill="#1a1a1a" stroke="#1a1a1a" stroke-width="0.1" textLength="14.7" lengthAdjust="spacingAndGlyphs">EpoR-</text><text x="67.6" y="312.5" font-size="5.7" fill="#1a1a1a" stroke="#1a1a1a" stroke-width="0.1" textLength="25" lengthAdjust="spacingAndGlyphs">tdTomato-</text><text x="67.6" y="319" font-size="5.7" fill="#1a1a1a" stroke="#1a1a1a" stroke-width="0.1" textLength="9" lengthAdjust="spacingAndGlyphs">Cre</text><text x="77.1" y="316.7" font-size="5.0" fill="#1a1a1a" stroke="#1a1a1a" stroke-width="0.08" textLength="7.4" lengthAdjust="spacingAndGlyphs">+/-</text>
<text x="67.6" y="337.3" font-size="5.7" fill="#1a1a1a" stroke="#1a1a1a" stroke-width="0.1" textLength="25.8" lengthAdjust="spacingAndGlyphs">R26R-EYFP</text><text x="93.9" y="335" font-size="5.0" fill="#1a1a1a" stroke="#1a1a1a" stroke-width="0.08" textLength="7.4" lengthAdjust="spacingAndGlyphs">+/+</text><text x="67.6" y="343.4" font-size="5.7" fill="#1a1a1a" stroke="#1a1a1a" stroke-width="0.1" textLength="14.7" lengthAdjust="spacingAndGlyphs">EpoR-</text><text x="67.6" y="349.9" font-size="5.7" fill="#1a1a1a" stroke="#1a1a1a" stroke-width="0.1" textLength="25" lengthAdjust="spacingAndGlyphs">tdTomato-</text><text x="67.6" y="356.2" font-size="5.7" fill="#1a1a1a" stroke="#1a1a1a" stroke-width="0.1" textLength="9" lengthAdjust="spacingAndGlyphs">Cre</text><text x="77.1" y="353.9" font-size="5.0" fill="#1a1a1a" stroke="#1a1a1a" stroke-width="0.08" textLength="7.4" lengthAdjust="spacingAndGlyphs">+/+</text>
<path d="M237.4,47.3 L234.4,47.3 L234.4,165.3" fill="none" stroke="#222" stroke-width="1.2"/>
<line x1="231.6" y1="105.2" x2="234.4" y2="105.2" stroke="#222" stroke-width="1" />
<line x1="234.4" y1="47.3" x2="238.4" y2="47.3" stroke="#111" stroke-width="1" />
<path d="M237.4,45.8 L240.4,47.3 L237.4,48.8 Z" fill="#111"/>
<line x1="234.4" y1="85.6" x2="238.4" y2="85.6" stroke="#111" stroke-width="1" />
<path d="M237.4,84.1 L240.4,85.6 L237.4,87.1 Z" fill="#111"/>
<line x1="234.4" y1="127.7" x2="238.4" y2="127.7" stroke="#111" stroke-width="1" />
<path d="M237.4,126.2 L240.4,127.7 L237.4,129.2 Z" fill="#111"/>
<line x1="234.4" y1="165.3" x2="238.4" y2="165.3" stroke="#111" stroke-width="1" />
<path d="M237.4,163.8 L240.4,165.3 L237.4,166.8 Z" fill="#111"/>
<text x="242" y="49.1" font-size="5.7" fill="#1a1a1a" stroke="#1a1a1a" stroke-width="0.1" textLength="24.8" lengthAdjust="spacingAndGlyphs">R26R-EYFP</text><text x="267.3" y="46.8" font-size="5.0" fill="#1a1a1a" stroke="#1a1a1a" stroke-width="0.08" textLength="7.4" lengthAdjust="spacingAndGlyphs">+/+</text>
<text x="242" y="81.3" font-size="5.7" fill="#1a1a1a" stroke="#1a1a1a" stroke-width="0.1" textLength="14.7" lengthAdjust="spacingAndGlyphs">EpoR-</text><text x="242" y="87.3" font-size="5.7" fill="#1a1a1a" stroke="#1a1a1a" stroke-width="0.1" textLength="25" lengthAdjust="spacingAndGlyphs">tdTomato-</text><text x="242" y="93.1" font-size="5.7" fill="#1a1a1a" stroke="#1a1a1a" stroke-width="0.1" textLength="9" lengthAdjust="spacingAndGlyphs">Cre</text><text x="251.5" y="90.8" font-size="5.0" fill="#1a1a1a" stroke="#1a1a1a" stroke-width="0.08" textLength="7.4" lengthAdjust="spacingAndGlyphs">+/+</text>
<text x="242" y="120.8" font-size="5.7" fill="#1a1a1a" stroke="#1a1a1a" stroke-width="0.1" textLength="24.8" lengthAdjust="spacingAndGlyphs">R26R-EYFP</text><text x="267.3" y="118.5" font-size="5.0" fill="#1a1a1a" stroke="#1a1a1a" stroke-width="0.08" textLength="7.4" lengthAdjust="spacingAndGlyphs">+/+</text><text x="242" y="126.8" font-size="5.7" fill="#1a1a1a" stroke="#1a1a1a" stroke-width="0.1" textLength="14.7" lengthAdjust="spacingAndGlyphs">EpoR-</text><text x="242" y="133.1" font-size="5.7" fill="#1a1a1a" stroke="#1a1a1a" stroke-width="0.1" textLength="25" lengthAdjust="spacingAndGlyphs">tdTomato-</text><text x="242" y="139.5" font-size="5.7" fill="#1a1a1a" stroke="#1a1a1a" stroke-width="0.1" textLength="9" lengthAdjust="spacingAndGlyphs">Cre</text><text x="251.5" y="137.2" font-size="5.0" fill="#1a1a1a" stroke="#1a1a1a" stroke-width="0.08" textLength="7.4" lengthAdjust="spacingAndGlyphs">+/-</text>
<text x="242" y="158.3" font-size="5.7" fill="#1a1a1a" stroke="#1a1a1a" stroke-width="0.1" textLength="24.8" lengthAdjust="spacingAndGlyphs">R26R-EYFP</text><text x="267.3" y="156" font-size="5.0" fill="#1a1a1a" stroke="#1a1a1a" stroke-width="0.08" textLength="7.4" lengthAdjust="spacingAndGlyphs">+/+</text><text x="242" y="164.5" font-size="5.7" fill="#1a1a1a" stroke="#1a1a1a" stroke-width="0.1" textLength="14.7" lengthAdjust="spacingAndGlyphs">EpoR-</text><text x="242" y="170.8" font-size="5.7" fill="#1a1a1a" stroke="#1a1a1a" stroke-width="0.1" textLength="25" lengthAdjust="spacingAndGlyphs">tdTomato-</text><text x="242" y="177" font-size="5.7" fill="#1a1a1a" stroke="#1a1a1a" stroke-width="0.1" textLength="9" lengthAdjust="spacingAndGlyphs">Cre</text><text x="251.5" y="174.7" font-size="5.0" fill="#1a1a1a" stroke="#1a1a1a" stroke-width="0.08" textLength="7.4" lengthAdjust="spacingAndGlyphs">+/+</text>
<path d="M237.4,227.2 L234.4,227.2 L234.4,345.3" fill="none" stroke="#222" stroke-width="1.2"/>
<line x1="231.6" y1="285.2" x2="234.4" y2="285.2" stroke="#222" stroke-width="1" />
<line x1="234.4" y1="227.2" x2="238.4" y2="227.2" stroke="#111" stroke-width="1" />
<path d="M237.4,225.7 L240.4,227.2 L237.4,228.7 Z" fill="#111"/>
<line x1="234.4" y1="264.8" x2="238.4" y2="264.8" stroke="#111" stroke-width="1" />
<path d="M237.4,263.3 L240.4,264.8 L237.4,266.3 Z" fill="#111"/>
<line x1="234.4" y1="307.1" x2="238.4" y2="307.1" stroke="#111" stroke-width="1" />
<path d="M237.4,305.6 L240.4,307.1 L237.4,308.6 Z" fill="#111"/>
<line x1="234.4" y1="345.3" x2="238.4" y2="345.3" stroke="#111" stroke-width="1" />
<path d="M237.4,343.8 L240.4,345.3 L237.4,346.8 Z" fill="#111"/>
<text x="242" y="229" font-size="5.7" fill="#1a1a1a" stroke="#1a1a1a" stroke-width="0.1" textLength="26" lengthAdjust="spacingAndGlyphs">R26R-EYFP</text><text x="268.5" y="226.7" font-size="5.0" fill="#1a1a1a" stroke="#1a1a1a" stroke-width="0.08" textLength="7.4" lengthAdjust="spacingAndGlyphs">+/+</text>
<text x="242" y="260.4" font-size="5.7" fill="#1a1a1a" stroke="#1a1a1a" stroke-width="0.1" textLength="14.7" lengthAdjust="spacingAndGlyphs">EpoR-</text><text x="242" y="266.5" font-size="5.7" fill="#1a1a1a" stroke="#1a1a1a" stroke-width="0.1" textLength="25" lengthAdjust="spacingAndGlyphs">tdTomato-</text><text x="242" y="272.4" font-size="5.7" fill="#1a1a1a" stroke="#1a1a1a" stroke-width="0.1" textLength="9" lengthAdjust="spacingAndGlyphs">Cre</text><text x="251.5" y="270.1" font-size="5.0" fill="#1a1a1a" stroke="#1a1a1a" stroke-width="0.08" textLength="7.4" lengthAdjust="spacingAndGlyphs">+/+</text>
<text x="242" y="299.8" font-size="5.7" fill="#1a1a1a" stroke="#1a1a1a" stroke-width="0.1" textLength="26" lengthAdjust="spacingAndGlyphs">R26R-EYFP</text><text x="268.5" y="297.5" font-size="5.0" fill="#1a1a1a" stroke="#1a1a1a" stroke-width="0.08" textLength="7.4" lengthAdjust="spacingAndGlyphs">+/+</text><text x="242" y="306" font-size="5.7" fill="#1a1a1a" stroke="#1a1a1a" stroke-width="0.1" textLength="14.7" lengthAdjust="spacingAndGlyphs">EpoR-</text><text x="242" y="312.2" font-size="5.7" fill="#1a1a1a" stroke="#1a1a1a" stroke-width="0.1" textLength="25" lengthAdjust="spacingAndGlyphs">tdTomato-</text><text x="242" y="318.6" font-size="5.7" fill="#1a1a1a" stroke="#1a1a1a" stroke-width="0.1" textLength="9" lengthAdjust="spacingAndGlyphs">Cre</text><text x="251.5" y="316.3" font-size="5.0" fill="#1a1a1a" stroke="#1a1a1a" stroke-width="0.08" textLength="7.4" lengthAdjust="spacingAndGlyphs">+/-</text>
<text x="242" y="336.8" font-size="5.7" fill="#1a1a1a" stroke="#1a1a1a" stroke-width="0.1" textLength="26" lengthAdjust="spacingAndGlyphs">R26R-EYFP</text><text x="268.5" y="334.5" font-size="5.0" fill="#1a1a1a" stroke="#1a1a1a" stroke-width="0.08" textLength="7.4" lengthAdjust="spacingAndGlyphs">+/+</text><text x="242" y="343" font-size="5.7" fill="#1a1a1a" stroke="#1a1a1a" stroke-width="0.1" textLength="14.7" lengthAdjust="spacingAndGlyphs">EpoR-</text><text x="242" y="349.3" font-size="5.7" fill="#1a1a1a" stroke="#1a1a1a" stroke-width="0.1" textLength="25" lengthAdjust="spacingAndGlyphs">tdTomato-</text><text x="242" y="355.5" font-size="5.7" fill="#1a1a1a" stroke="#1a1a1a" stroke-width="0.1" textLength="9" lengthAdjust="spacingAndGlyphs">Cre</text><text x="251.5" y="353.2" font-size="5.0" fill="#1a1a1a" stroke="#1a1a1a" stroke-width="0.08" textLength="7.4" lengthAdjust="spacingAndGlyphs">+/+</text>
<rect x="22.6" y="89" width="34.2" height="33.2" fill="none" stroke="#c8c8c8" stroke-width="0.6"/>
<line x1="22.6" y1="89" x2="22.6" y2="122.2" stroke="#b0b0b0" stroke-width="0.6" />
<rect x="18.8" y="90.5" width="1.6" height="1.0" fill="#888"/>
<line x1="21.5" y1="91" x2="22.6" y2="91" stroke="#888" stroke-width="0.5" />
<rect x="18.8" y="98.2" width="1.6" height="1.0" fill="#888"/>
<line x1="21.5" y1="98.7" x2="22.6" y2="98.7" stroke="#888" stroke-width="0.5" />
<rect x="18.8" y="106.3" width="1.6" height="1.0" fill="#888"/>
<line x1="21.5" y1="106.8" x2="22.6" y2="106.8" stroke="#888" stroke-width="0.5" />
<rect x="18.8" y="114.3" width="1.6" height="1.0" fill="#888"/>
<line x1="21.5" y1="114.8" x2="22.6" y2="114.8" stroke="#888" stroke-width="0.5" />
<rect x="18.8" y="117.9" width="1.6" height="1.0" fill="#888"/>
<line x1="21.5" y1="118.4" x2="22.6" y2="118.4" stroke="#888" stroke-width="0.5" />
<rect x="21.55" y="125.2" width="1.3" height="1.0" fill="#666"/>
<rect x="25.87" y="125.2" width="1.3" height="1.0" fill="#666"/>
<rect x="30.19" y="125.2" width="1.3" height="1.0" fill="#666"/>
<rect x="34.51" y="125.2" width="1.3" height="1.0" fill="#666"/>
<rect x="38.83" y="125.2" width="1.3" height="1.0" fill="#666"/>
<rect x="43.15" y="125.2" width="1.3" height="1.0" fill="#666"/>
<rect x="47.47" y="125.2" width="1.3" height="1.0" fill="#666"/>
<rect x="51.79" y="125.2" width="1.3" height="1.0" fill="#666"/>
<g filter="url(#bl3)">
<path d="M24,115 L27,108 L32,104 L39,99.5 L47,97 L53,97.5 L52,100.5 L44,106 L38,112 L34,117 L29,120.5 L24.5,120 Z" fill="#8c9cff" opacity="0.55"/>
<ellipse cx="41" cy="103.8" rx="10" ry="3.0" transform="rotate(-35 41 103.8)" fill="#4a5cff" opacity="0.75"/>
<ellipse cx="37.5" cy="106.5" rx="7" ry="3.6" transform="rotate(-38 37.5 106.5)" fill="#2c3cff" opacity="0.9"/>
<ellipse cx="27.6" cy="111.6" rx="3.3" ry="3.1" fill="#3444ff" opacity="0.85"/>
<ellipse cx="36" cy="107.6" rx="4.6" ry="2.7" transform="rotate(-40 36 107.6)" fill="#28d8a0"/>
<ellipse cx="35.8" cy="107.8" rx="3.7" ry="2.1" transform="rotate(-40 35.8 107.8)" fill="#3ce040"/>
<ellipse cx="35.2" cy="108.2" rx="2.4" ry="1.4" transform="rotate(-40 35.2 108.2)" fill="#f2e81c"/>
<ellipse cx="34.5" cy="108.6" rx="1.4" ry="0.9" transform="rotate(-40 34.5 108.6)" fill="#ff2a0a"/>
<ellipse cx="27.6" cy="111.5" rx="1.8" ry="1.6" fill="#2ad870"/>
</g>
<path d="M34.9,96.6 L57.4,95.4 L57.4,99 L50.1,102.2 L42.9,107.1 L37.3,111.1 L34.1,112.7 L31.6,111.1 L30.4,105.9 Z" fill="none" stroke="#2a2a2a" stroke-width="0.75" stroke-linejoin="round"/>
<text x="23" y="92.8" font-size="5.2" font-weight="bold" fill="#000" text-anchor="start" textLength="33.2" lengthAdjust="spacingAndGlyphs" stroke="#000" stroke-width="0.12">Erythroblasts</text>
<text x="0" y="0" font-size="8.6" fill="#111" stroke="#111" stroke-width="0.18" text-anchor="middle" textLength="22.2" lengthAdjust="spacingAndGlyphs" transform="translate(15.8,107.1) rotate(-90)">CD44</text>
<text x="39.85" y="135.6" font-size="9.4" font-weight="normal" fill="#111" text-anchor="middle" textLength="18.7" lengthAdjust="spacingAndGlyphs" stroke="#111" stroke-width="0.18">FSC-A</text>
<rect x="22.2" y="267" width="34.4" height="33.8" fill="none" stroke="#c8c8c8" stroke-width="0.6"/>
<line x1="22.2" y1="267" x2="22.2" y2="300.8" stroke="#b0b0b0" stroke-width="0.6" />
<rect x="18.4" y="269" width="1.6" height="1.0" fill="#888"/>
<line x1="21.1" y1="269.5" x2="22.2" y2="269.5" stroke="#888" stroke-width="0.5" />
<rect x="18.4" y="276.2" width="1.6" height="1.0" fill="#888"/>
<line x1="21.1" y1="276.7" x2="22.2" y2="276.7" stroke="#888" stroke-width="0.5" />
<rect x="18.4" y="283.9" width="1.6" height="1.0" fill="#888"/>
<line x1="21.1" y1="284.4" x2="22.2" y2="284.4" stroke="#888" stroke-width="0.5" />
<rect x="18.4" y="292.2" width="1.6" height="1.0" fill="#888"/>
<line x1="21.1" y1="292.7" x2="22.2" y2="292.7" stroke="#888" stroke-width="0.5" />
<rect x="18.4" y="296" width="1.6" height="1.0" fill="#888"/>
<line x1="21.1" y1="296.5" x2="22.2" y2="296.5" stroke="#888" stroke-width="0.5" />
<rect x="21.15" y="303.8" width="1.3" height="1.0" fill="#666"/>
<rect x="25.47" y="303.8" width="1.3" height="1.0" fill="#666"/>
<rect x="29.79" y="303.8" width="1.3" height="1.0" fill="#666"/>
<rect x="34.11" y="303.8" width="1.3" height="1.0" fill="#666"/>
<rect x="38.43" y="303.8" width="1.3" height="1.0" fill="#666"/>
<rect x="42.75" y="303.8" width="1.3" height="1.0" fill="#666"/>
<rect x="47.07" y="303.8" width="1.3" height="1.0" fill="#666"/>
<rect x="51.39" y="303.8" width="1.3" height="1.0" fill="#666"/>
<g filter="url(#bl3)">
<path d="M24,299 L24.5,287 L27,284 L33,282 L40,278.5 L48,275 L52.5,274 L52,277.5 L44,282.5 L36,288 L31,292 L32,297 L28,300 Z" fill="#7c8eff" opacity="0.65"/>
<path d="M31.8,287.8 L34,284 L40,280.3 L46,277.2 L51.5,275 L51.2,277.6 L45,281 L38.5,285.3 L33.5,289.2 Z" fill="#3444ff" opacity="0.85"/>
<ellipse cx="26.3" cy="291.5" rx="2.6" ry="6.2" transform="rotate(8 26.3 291.5)" fill="#3444ff" opacity="0.9"/>
<ellipse cx="36.3" cy="284.3" rx="4.8" ry="1.7" transform="rotate(-30 36.3 284.3)" fill="#30dc60"/>
<ellipse cx="40.5" cy="281.3" rx="2.0" ry="0.9" transform="rotate(-30 40.5 281.3)" fill="#3ad8a0"/>
<ellipse cx="26.2" cy="292.3" rx="1.6" ry="4.4" transform="rotate(8 26.2 292.3)" fill="#30dc60"/>
<ellipse cx="26.2" cy="294.2" rx="1.2" ry="2.4" fill="#f0e020"/>
<ellipse cx="26.3" cy="295.3" rx="0.9" ry="1.2" fill="#ff2a0a"/>
</g>
<path d="M31,280.7 L52.4,273.3 L52.8,276.4 L51.1,278.6 L31.9,289.3 L31,288.4 Z" fill="none" stroke="#2a2a2a" stroke-width="0.75" stroke-linejoin="round"/>
<text x="23.7" y="271.8" font-size="5.2" font-weight="bold" fill="#000" text-anchor="start" textLength="32.6" lengthAdjust="spacingAndGlyphs" stroke="#000" stroke-width="0.12">Erythroblasts</text>
<text x="0" y="0" font-size="8.8" fill="#111" stroke="#111" stroke-width="0.18" text-anchor="middle" textLength="22.1" lengthAdjust="spacingAndGlyphs" transform="translate(16.3,285.8) rotate(-90)">CD44</text>
<text x="39.5" y="315.4" font-size="9.8" font-weight="normal" fill="#111" text-anchor="middle" textLength="19.4" lengthAdjust="spacingAndGlyphs" stroke="#111" stroke-width="0.18">FSC-A</text>
<line x1="197.2" y1="88.6" x2="197.2" y2="122.2" stroke="#aaa" stroke-width="0.7" />
<line x1="197.2" y1="122.2" x2="231.2" y2="122.2" stroke="#999" stroke-width="0.8" />
<rect x="194" y="91.6" width="1.2" height="0.9" fill="#999"/>
<line x1="196.2" y1="92.05" x2="197.2" y2="92.05" stroke="#999" stroke-width="0.5" />
<rect x="194" y="98.5" width="1.2" height="0.9" fill="#999"/>
<line x1="196.2" y1="98.95" x2="197.2" y2="98.95" stroke="#999" stroke-width="0.5" />
<rect x="194" y="105.4" width="1.2" height="0.9" fill="#999"/>
<line x1="196.2" y1="105.85" x2="197.2" y2="105.85" stroke="#999" stroke-width="0.5" />
<rect x="194" y="112.3" width="1.2" height="0.9" fill="#999"/>
<line x1="196.2" y1="112.75" x2="197.2" y2="112.75" stroke="#999" stroke-width="0.5" />
<rect x="194" y="119.2" width="1.2" height="0.9" fill="#999"/>
<line x1="196.2" y1="119.65" x2="197.2" y2="119.65" stroke="#999" stroke-width="0.5" />
<rect x="199.6" y="124.4" width="1.3" height="0.9" fill="#999"/>
<rect x="209.27" y="124.4" width="1.3" height="0.9" fill="#999"/>
<rect x="218.93" y="124.4" width="1.3" height="0.9" fill="#999"/>
<rect x="228.6" y="124.4" width="1.3" height="0.9" fill="#999"/>
<g filter="url(#bl2)">
<path d="M205.5,102.3 Q207.5,99.8 211,99.3 Q214,98.8 213.5,101.2 Q210,101.6 205.5,102.8 Z" fill="#aab4ff" opacity="0.8"/>
<path d="M212.8,98.6 Q216.5,97.2 219.5,98.8 Q221.8,100.8 221.6,104 Q220.2,104.2 219.2,102.2 Q217.5,100.9 215,101.4 Q213.3,101.6 212.8,100.6 Z" fill="#5068ff" opacity="0.85"/>
<path d="M216.5,98.3 Q219.3,98.5 220.4,100.5 Q220.8,102 220.2,102.4 Q218.8,100.6 216.5,99.8 Z" fill="#1f35ff"/>
<path d="M213.5,100.6 Q216,100.2 218.5,101.5" fill="none" stroke="#3048ff" stroke-width="0.7"/>
</g>
<rect x="201.7" y="95.5" width="25.9" height="11.4" fill="none" stroke="#333" stroke-width="0.9"/>
<line x1="212.6" y1="95.5" x2="212.6" y2="106.9" stroke="#333" stroke-width="0.9" />
<line x1="220.5" y1="95.5" x2="220.5" y2="106.9" stroke="#333" stroke-width="0.9" />
<rect x="206.97" y="89.2" width="1.05" height="4.8" fill="#1a1a1a"/>
<rect x="214.47" y="89.2" width="1.05" height="4.8" fill="#1a1a1a"/>
<rect x="216.47" y="89.2" width="1.05" height="4.8" fill="#1a1a1a"/>
<rect x="220.97" y="89.2" width="1.05" height="4.8" fill="#1a1a1a"/>
<rect x="222.97" y="89.2" width="1.05" height="4.8" fill="#1a1a1a"/>
<rect x="224.88" y="89.2" width="1.05" height="4.8" fill="#1a1a1a"/>
<text x="0" y="0" font-size="9.5" fill="#111" stroke="#111" stroke-width="0.18" text-anchor="middle" textLength="14.8" lengthAdjust="spacingAndGlyphs" transform="translate(192.0,102.3) rotate(-90)">c-Kit</text>
<text x="213" y="135.8" font-size="9.5" font-weight="normal" fill="#111" text-anchor="middle" textLength="17.5" lengthAdjust="spacingAndGlyphs" stroke="#111" stroke-width="0.18">CD71</text>
<rect x="196.9" y="266.4" width="34.1" height="34.1" fill="none" stroke="#d0d0d0" stroke-width="0.6"/>
<line x1="196.9" y1="266.4" x2="196.9" y2="300.5" stroke="#aaa" stroke-width="0.7" />
<line x1="196.9" y1="300.5" x2="231" y2="300.5" stroke="#999" stroke-width="0.8" />
<rect x="193.7" y="269.4" width="1.2" height="0.9" fill="#999"/>
<line x1="195.9" y1="269.85" x2="196.9" y2="269.85" stroke="#999" stroke-width="0.5" />
<rect x="193.7" y="276.42" width="1.2" height="0.9" fill="#999"/>
<line x1="195.9" y1="276.87" x2="196.9" y2="276.87" stroke="#999" stroke-width="0.5" />
<rect x="193.7" y="283.45" width="1.2" height="0.9" fill="#999"/>
<line x1="195.9" y1="283.9" x2="196.9" y2="283.9" stroke="#999" stroke-width="0.5" />
<rect x="193.7" y="290.48" width="1.2" height="0.9" fill="#999"/>
<line x1="195.9" y1="290.93" x2="196.9" y2="290.93" stroke="#999" stroke-width="0.5" />
<rect x="193.7" y="297.5" width="1.2" height="0.9" fill="#999"/>
<line x1="195.9" y1="297.95" x2="196.9" y2="297.95" stroke="#999" stroke-width="0.5" />
<rect x="199.3" y="302.7" width="1.3" height="0.9" fill="#999"/>
<rect x="209" y="302.7" width="1.3" height="0.9" fill="#999"/>
<rect x="218.7" y="302.7" width="1.3" height="0.9" fill="#999"/>
<rect x="228.4" y="302.7" width="1.3" height="0.9" fill="#999"/>
<g filter="url(#bl2)">
<ellipse cx="201.7" cy="281.6" rx="2.6" ry="3.3" fill="#4862ff"/>
<ellipse cx="201.9" cy="281.3" rx="1.2" ry="1.6" fill="none" stroke="#9aa8ff" stroke-width="0.6"/>
<ellipse cx="205.3" cy="280.2" rx="1.4" ry="2.0" fill="#6c80ff"/>
<ellipse cx="212.3" cy="278.9" rx="6.2" ry="2.9" fill="#9aa8ff" opacity="0.55"/>
<ellipse cx="212.3" cy="278.9" rx="6.0" ry="2.7" fill="none" stroke="#5a70ff" stroke-width="0.8"/>
<ellipse cx="211.2" cy="279.2" rx="3.0" ry="1.3" fill="none" stroke="#4a62ff" stroke-width="0.8"/>
<path d="M200,297 Q198.5,292 201,289.5 Q203,286.5 206.5,288 Q209.5,290 209,294 Q208.5,298.5 204,299 Q201,299 200,297 Z" fill="#c4cbff" opacity="0.75"/>
<path d="M200,297 Q198.5,292 201,289.5 Q203,286.5 206.5,288 Q209.5,290 209,294 Q208.5,298.5 204,299 Q201,299 200,297 Z" fill="none" stroke="#8e9cff" stroke-width="0.6"/>
<ellipse cx="204.3" cy="294.5" rx="2.4" ry="2.6" fill="none" stroke="#8e9cff" stroke-width="0.6"/>
</g>
<rect x="198.5" y="277.5" width="6.2" height="7.9" fill="none" stroke="#333" stroke-width="0.9"/>
<rect x="205.5" y="275.3" width="15.5" height="7.5" fill="none" stroke="#333" stroke-width="0.9"/>
<line x1="208.4" y1="275.3" x2="208.4" y2="282.8" stroke="#333" stroke-width="0.9" />
<rect x="200.28" y="268.4" width="1.05" height="4.8" fill="#1a1a1a"/>
<rect x="205.47" y="268.4" width="1.05" height="4.8" fill="#1a1a1a"/>
<rect x="207.47" y="268.4" width="1.05" height="4.8" fill="#1a1a1a"/>
<rect x="211.78" y="268.4" width="1.05" height="4.8" fill="#1a1a1a"/>
<rect x="214.07" y="268.4" width="1.05" height="4.8" fill="#1a1a1a"/>
<rect x="216.38" y="268.4" width="1.05" height="4.8" fill="#1a1a1a"/>
<text x="0" y="0" font-size="9.5" fill="#111" stroke="#111" stroke-width="0.18" text-anchor="middle" textLength="14.8" lengthAdjust="spacingAndGlyphs" transform="translate(192.0,282.6) rotate(-90)">c-Kit</text>
<text x="213" y="315.2" font-size="9.5" font-weight="normal" fill="#111" text-anchor="middle" textLength="17.5" lengthAdjust="spacingAndGlyphs" stroke="#111" stroke-width="0.18">CD71</text>
<rect x="0" y="0" width="520" height="1.2" fill="#000"/>
<rect x="0" y="0" width="1.3" height="373" fill="#000"/>
<rect x="518.6" y="0" width="1.4" height="373" fill="#000"/>
<rect x="0" y="371.3" width="520" height="1.7" fill="#000"/>
</svg>
</body></html>
